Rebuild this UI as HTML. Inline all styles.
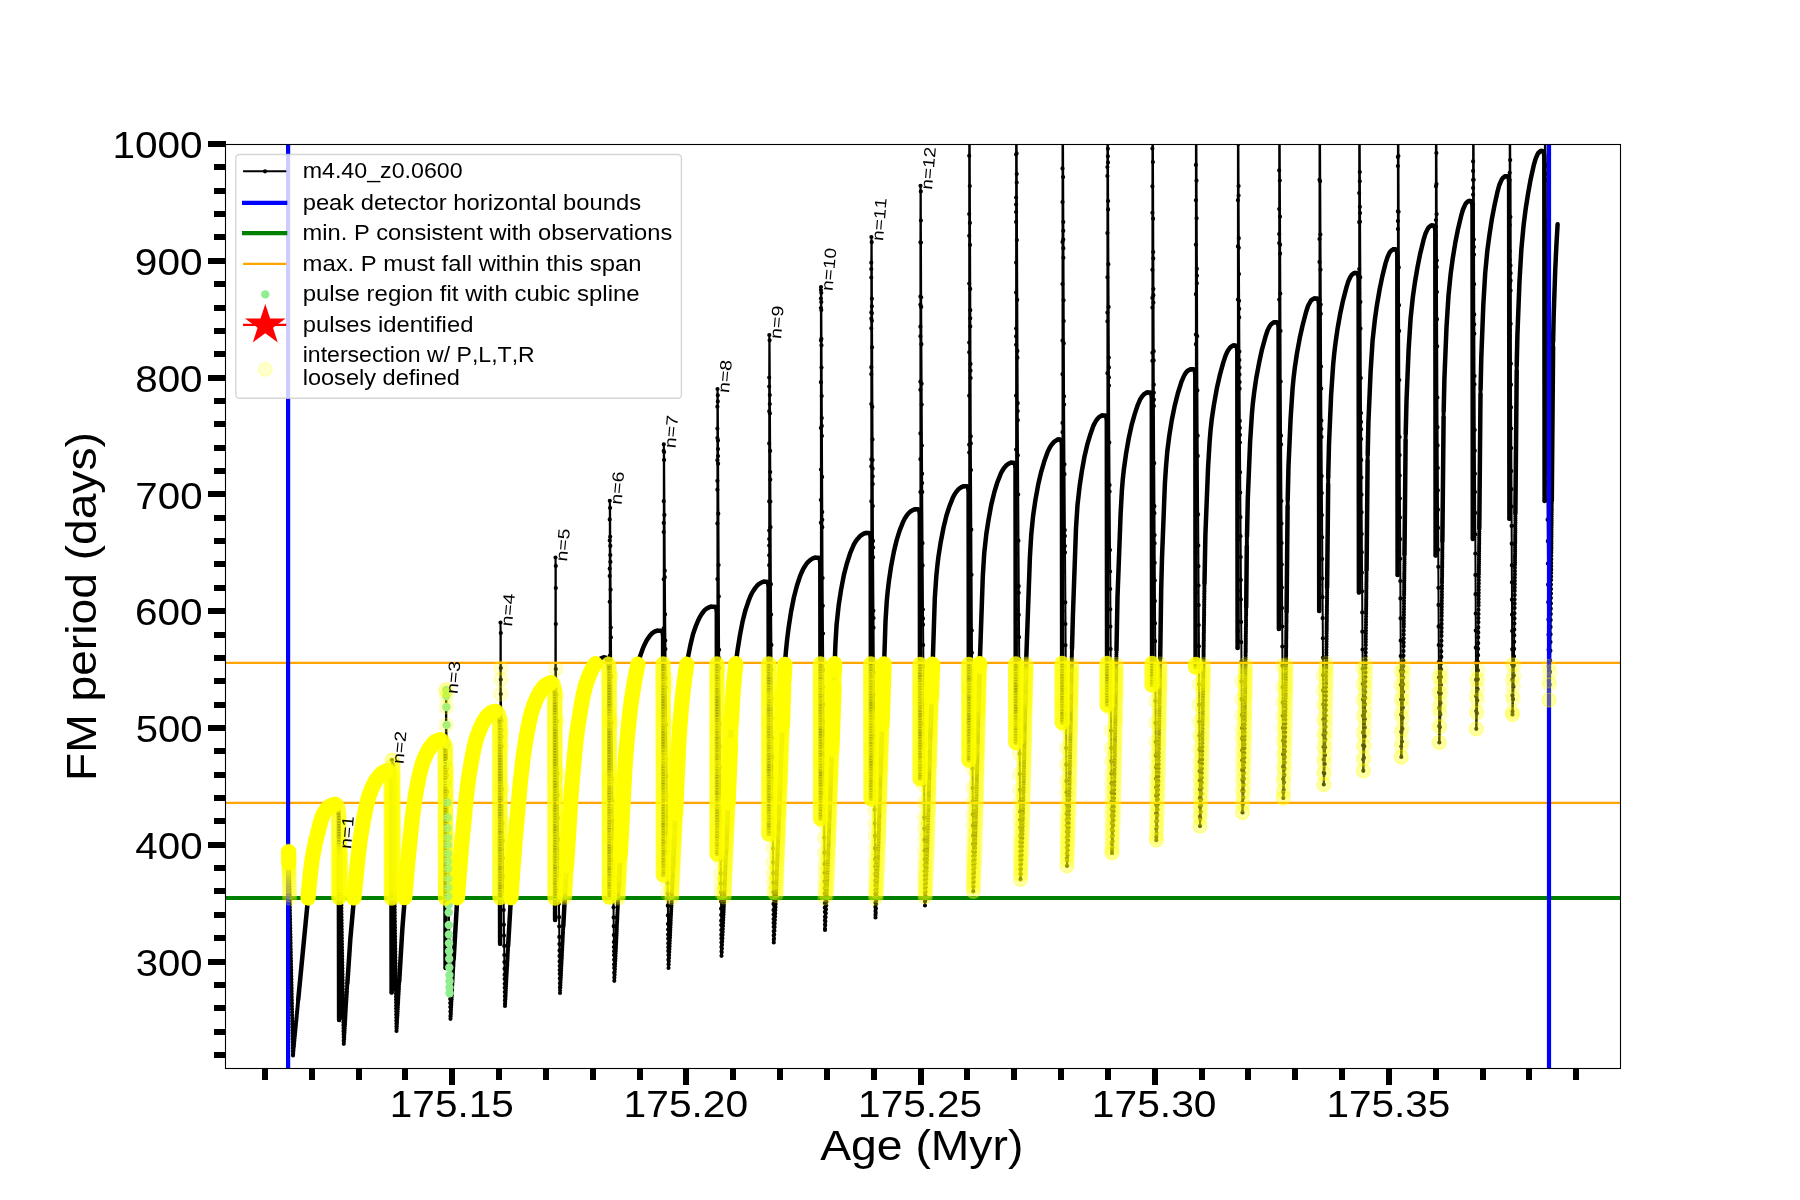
<!DOCTYPE html>
<html><head><meta charset="utf-8"><title>FM period vs Age</title>
<style>html,body{margin:0;padding:0;background:#fff}body{width:1800px;height:1200px;overflow:hidden;font-family:"Liberation Sans",sans-serif}.yc circle{r:6.95px;fill:#ff0;fill-opacity:.2;stroke:#ff0;stroke-opacity:.2;stroke-width:1.4px}</style></head>
<body>
<svg width="1800" height="1200" viewBox="0 0 1800 1200" font-family="'Liberation Sans', sans-serif" style="display:block;font-kerning:none;will-change:transform">
<rect width="1800" height="1200" fill="#fff"/>
<defs><clipPath id="ax"><rect x="225.5" y="144.5" width="1395.0" height="924.0"/></clipPath></defs>
<g clip-path="url(#ax)">
<g fill="none" stroke="#000" stroke-linejoin="round" stroke-linecap="round">
<g stroke-width="2">
<polyline points="289.0,868.2 293.0,1055.5"/>
<polyline points="293.0,1055.5 298.2,999.7"/>
<polyline points="343.8,1043.8 347.4,982.8"/>
<polyline points="396.5,1031.0 399.2,981.5"/>
<polyline points="450.5,1018.8 453.7,958.9"/>
<polyline points="505.0,1006.0 508.1,946.2"/>
<polyline points="560.0,993.0 563.3,926.2"/>
<polyline points="614.3,980.8 618.7,886.2"/>
<polyline points="668.5,968.0 670.3,930.1 672.9,868.9"/>
<polyline points="721.5,955.8 723.5,914.6 726.0,853.0"/>
<polyline points="773.8,942.5 775.8,898.3 779.0,815.1"/>
<polyline points="825.0,930.0 827.1,885.3 830.0,801.9"/>
<polyline points="875.5,917.5 877.5,871.1 880.6,771.7"/>
<polyline points="925.0,905.5 926.3,878.8 927.1,856.6 930.3,738.1"/>
<polyline points="973.3,891.3 974.6,863.6 975.3,840.7 978.3,715.4"/>
<polyline points="1020.5,879.3 1021.8,850.7 1022.5,830.2 1025.2,706.5"/>
<polyline points="1067.0,865.8 1068.3,836.1 1068.9,814.6 1072.0,648.8"/>
<polyline points="1112.0,853.0 1113.2,825.4 1113.9,802.3 1116.5,649.4"/>
<polyline points="1156.3,840.0 1157.4,815.2 1158.0,794.5 1160.2,658.1"/>
<polyline points="1200.0,826.0 1201.2,799.5 1201.8,773.0 1204.5,582.6"/>
<polyline points="1242.5,812.5 1243.5,791.1 1244.1,767.5 1246.2,606.9"/>
<polyline points="1246.8,546.5 1247.0,536.5"/>
<polyline points="1283.3,798.0 1284.3,775.2 1284.8,757.1 1286.6,611.5"/>
<polyline points="1287.6,506.7 1287.7,499.8"/>
<polyline points="1323.8,784.5 1324.7,764.0 1325.3,739.8 1327.1,587.6"/>
<polyline points="1328.2,484.6 1328.2,477.6"/>
<polyline points="1363.3,770.8 1364.3,746.3 1364.8,727.4 1366.6,569.6"/>
<polyline points="1367.6,461.1 1367.7,454.2"/>
<polyline points="1401.3,757.0 1402.4,728.8 1402.8,707.7 1404.5,554.1"/>
<polyline points="1405.6,440.5 1405.7,433.6"/>
<polyline points="1439.3,742.5 1440.4,714.2 1440.8,693.3 1442.4,540.8"/>
<polyline points="1443.6,417.5 1443.7,410.6"/>
<polyline points="1476.3,728.8 1477.3,700.3 1477.8,679.2 1479.3,528.1"/>
<polyline points="1480.5,394.4 1480.6,388.9"/>
<polyline points="1512.5,714.5 1513.5,686.4 1513.9,665.3 1515.4,513.0"/>
<polyline points="1516.7,371.0 1516.7,365.6"/>
<polyline points="1549.0,700.0 1550.0,671.9 1550.4,650.7 1551.8,500.2"/>
<polyline points="1553.1,347.1 1553.1,341.8"/>
<polyline points="339.1,1020.0 340.3,1017.0 340.3,849.0 339.5,845.0 340.7,851.3 341.8,935.3 343.8,1043.8"/>
<polyline points="391.6,992.5 392.8,989.5 392.8,764.5 392.0,760.0 393.2,765.6 394.3,879.6 396.5,1031.0"/>
<polyline points="445.6,968.0 446.0,690.0 446.3,696.0 446.3,725.0 446.7,746.4 448.0,854.5 450.5,1018.8"/>
<polyline points="500.1,943.8 500.5,622.5 500.8,633.0 500.8,694.0 501.5,720.7 503.0,858.3 505.0,1006.0"/>
<polyline points="555.1,920.0 555.5,557.5 555.8,566.0 555.8,669.0 556.7,694.5 558.2,839.2 560.0,993.0"/>
<polyline points="609.4,897.0 609.7,883.7 609.8,500.8 610.1,507.9 610.6,589.7 611.6,722.8 614.3,980.8"/>
<polyline points="663.4,875.0 663.7,863.4 663.8,444.3 664.1,452.1 664.8,570.7 666.1,724.7 668.5,968.0"/>
<polyline points="717.1,854.0 717.4,845.6 717.4,406.7 717.5,389.0 717.8,395.3 719.1,649.8 721.5,955.8"/>
<polyline points="768.9,834.0 769.2,814.5 769.2,377.5 769.3,335.0 769.6,340.3 770.9,584.2 773.8,942.5"/>
<polyline points="820.6,818.8 820.9,801.8 820.9,289.8 821.0,287.0 821.3,292.8 822.6,578.0 825.0,930.0"/>
<polyline points="871.0,798.8 871.3,777.5 871.3,262.7 871.4,237.0 871.7,242.2 873.0,540.9 875.5,917.5"/>
<polyline points="920.1,778.8 920.4,766.0 920.4,242.3 920.5,185.8 920.8,191.4 921.2,306.9 922.2,491.9 925.0,905.5"/>
<polyline points="968.9,760.0 969.2,743.7 969.2,155.8 969.3,100.0 969.6,108.8 970.8,436.3 973.3,891.3"/>
<polyline points="1015.8,742.5 1016.1,727.2 1016.1,107.5 1016.2,100.0 1016.5,107.9 1017.8,420.2 1020.5,879.3"/>
<polyline points="1062.2,722.5 1062.5,702.2 1062.5,128.6 1062.6,100.0 1062.9,105.2 1064.1,404.6 1067.0,865.8"/>
<polyline points="1107.1,705.0 1107.4,691.2 1107.4,132.8 1107.5,100.0 1107.8,106.3 1108.4,264.2 1109.3,442.5 1112.0,853.0"/>
<polyline points="1152.1,685.0 1152.4,671.9 1152.4,128.6 1152.5,100.0 1152.8,105.9 1153.9,406.1 1156.3,840.0"/>
<polyline points="1195.6,667.0 1195.9,645.3 1195.9,105.6 1196.0,100.0 1196.3,107.2 1197.4,390.4 1200.0,826.0"/>
<polyline points="1237.6,648.0 1237.9,640.6 1237.9,104.7 1238.0,100.0 1238.3,107.5 1238.8,238.2 1239.8,420.9 1242.5,812.5"/>
<polyline points="1278.9,629.0 1279.2,615.5 1279.2,116.0 1279.3,100.0 1279.6,106.4 1280.7,381.5 1283.3,798.0"/>
<polyline points="1319.2,611.0 1319.5,594.2 1319.5,127.3 1319.6,100.0 1319.9,107.8 1321.2,388.6 1323.8,784.5"/>
<polyline points="1358.9,592.5 1359.2,580.9 1359.2,136.7 1359.3,100.0 1359.6,105.5 1360.8,378.1 1363.3,770.8"/>
<polyline points="1397.6,575.0 1397.9,561.0 1397.9,106.3 1398.0,100.0 1398.3,107.9 1399.3,380.0 1401.3,757.0"/>
<polyline points="1435.6,555.5 1435.9,546.3 1435.9,139.9 1436.0,100.0 1436.3,106.9 1437.4,397.5 1439.3,742.5"/>
<polyline points="1472.8,539.0 1473.1,522.5 1473.1,110.4 1473.2,100.0 1473.5,106.1 1474.5,376.1 1476.3,728.8"/>
<polyline points="1509.4,518.8 1509.7,508.6 1509.7,133.5 1509.8,100.0 1510.1,108.4 1510.9,363.7 1512.5,714.5"/>
<polyline points="1544.6,501.0 1544.9,481.4 1544.9,113.7 1545.0,100.0 1545.3,108.3 1546.5,359.0 1549.0,700.0"/>
</g><g stroke-width="4.5">
<polyline points="288.6,851.0 289.0,868.2"/>
<polyline points="298.2,999.7 310.4,873.8 311.7,862.0 313.5,851.4 315.6,841.7 319.3,826.5 321.3,819.4 323.0,814.9 325.5,810.7 328.1,807.6 329.4,806.6 331.5,805.5 333.8,804.6 335.0,804.5"/>
<polyline points="347.4,982.8 350.3,939.5 354.9,887.9 357.7,860.3 359.7,843.6 361.2,832.8 363.8,818.1 366.3,806.0 368.6,797.2 370.7,791.1 373.7,784.4 376.9,778.9 378.9,776.3 381.1,773.9 382.3,772.8 383.7,772.1 386.0,771.2 387.5,771.0"/>
<polyline points="399.2,981.5 402.4,928.1 406.8,872.5 411.9,821.1 413.4,808.5 415.7,794.5 418.2,780.7 420.5,770.3 422.6,763.1 425.6,755.6 427.4,752.0 429.4,748.5 431.3,745.8 433.4,743.3 434.5,742.2 435.9,741.3 438.1,740.4 440.0,740.0"/>
<polyline points="453.7,958.9 456.8,906.2 461.4,846.9 464.5,814.2 466.5,794.9 468.0,782.4 470.5,766.8 473.0,752.9 475.3,742.5 477.4,735.4 480.4,727.8 482.1,724.1 484.1,720.6 485.9,717.9 488.5,714.7 489.6,713.6 491.7,712.4 493.2,711.8 495.0,711.5"/>
<polyline points="508.1,946.2 511.4,889.5 516.2,827.2 519.3,792.7 521.4,771.7 523.1,757.6 525.5,741.9 528.1,727.2 530.6,716.0 532.8,708.2 536.0,699.9 537.7,696.2 539.7,692.7 541.5,689.9 543.9,686.8 545.0,685.6 546.4,684.6 549.3,683.3 551.0,683.0"/>
<polyline points="563.3,926.2 566.3,868.5 571.1,794.0 573.1,770.0 575.1,748.8 576.7,734.6 578.5,722.3 581.0,706.6 583.6,693.6 585.8,684.9 588.7,676.5 590.6,672.0 592.4,668.4 594.5,664.9 596.9,661.7 598.5,659.9 599.9,659.0 602.0,657.9 604.0,657.5"/>
<polyline points="618.7,886.2 621.1,838.5 625.3,761.8 626.9,742.3 628.8,722.6 630.5,707.5 632.2,695.2 634.8,679.5 637.4,666.6 639.6,657.8 642.5,649.4 644.4,644.9 646.2,641.3 648.4,637.8 650.3,635.2 651.9,633.4 653.2,632.5 655.3,631.3 657.5,630.8"/>
<polyline points="672.9,868.9 679.3,733.4 680.4,718.6 681.9,702.5 683.6,686.5 685.3,674.0 687.9,657.6 690.5,644.6 693.0,634.3 695.9,625.8 697.8,621.3 699.5,617.7 701.6,614.2 703.5,611.6 705.1,609.8 706.4,608.8 709.2,607.2 711.0,606.8"/>
<polyline points="726.0,853.0 732.3,703.9 733.2,690.8 734.3,678.0 735.8,663.7 737.4,651.2 740.0,634.8 742.5,621.8 745.5,609.9 748.4,601.4 750.2,596.8 751.9,593.1 753.6,590.4 755.9,587.1 757.5,585.2 759.3,583.7 762.2,582.1 763.8,581.8"/>
<polyline points="779.0,815.1 784.3,673.0 785.1,660.9 786.1,649.6 787.2,638.7 788.8,626.3 791.1,611.5 793.8,597.7 796.9,585.8 799.7,577.2 801.5,572.7 803.2,569.0 804.9,566.3 806.7,563.6 808.3,561.8 810.1,560.1 812.8,558.4 814.3,557.9 815.0,557.8"/>
<polyline points="830.0,801.9 835.4,644.5 836.6,624.4 838.6,605.9 841.0,590.2 843.9,574.9 846.8,563.7 850.0,553.7 853.8,544.7 855.4,541.8 857.3,539.2 858.9,537.4 860.6,535.7 864.0,533.5 866.0,533.0"/>
<polyline points="880.6,771.7 885.5,621.5 886.8,600.6 887.8,590.4 888.9,581.2 891.1,566.3 893.9,551.6 896.6,540.4 899.7,530.3 903.4,521.2 904.9,518.4 906.6,515.7 908.7,513.1 910.5,511.5 913.2,509.8 915.0,509.3"/>
<polyline points="930.3,738.1 934.8,598.2 936.3,576.4 937.2,567.1 938.4,557.0 940.7,542.2 943.5,527.7 946.4,515.7 949.4,506.4 952.7,498.1 954.1,495.2 955.9,492.4 957.9,489.9 959.7,488.3 961.7,487.0 962.4,486.6 963.8,486.3"/>
<polyline points="978.3,715.4 979.2,680.5 982.8,576.3 984.2,553.6 986.3,534.2 988.6,519.3 991.3,504.6 994.2,492.7 997.3,482.5 1000.6,474.1 1002.0,471.2 1003.7,468.5 1005.2,466.6 1006.9,464.9 1009.6,463.1 1011.0,462.8"/>
<polyline points="1025.2,706.5 1026.3,657.8 1029.9,557.3 1031.2,535.3 1033.1,515.9 1035.4,500.1 1038.2,484.6 1041.2,471.8 1044.2,461.6 1047.8,451.6 1049.2,448.7 1050.8,445.9 1052.7,443.3 1054.4,441.6 1057.1,439.8 1058.5,439.5"/>
<polyline points="1072.0,648.8 1072.9,615.8 1076.0,528.3 1077.5,504.9 1079.7,485.6 1081.9,470.8 1084.4,457.0 1087.2,444.9 1090.5,433.9 1093.2,426.3 1094.6,423.3 1096.2,420.5 1097.7,418.6 1098.8,417.4 1100.8,416.0 1102.5,415.5"/>
<polyline points="1116.5,649.4 1117.5,597.3 1120.6,514.2 1121.9,490.4 1122.8,479.2 1123.9,469.1 1126.1,453.4 1128.8,438.0 1131.6,425.2 1134.7,414.1 1137.8,404.8 1140.4,398.9 1142.2,396.2 1143.8,394.4 1145.8,393.0 1147.5,392.5"/>
<polyline points="1160.2,658.1 1161.2,589.3 1162.0,557.9 1164.9,483.5 1166.0,466.8 1167.3,451.4 1169.3,435.6 1171.8,420.0 1174.8,405.4 1177.8,393.5 1181.4,381.8 1184.0,375.8 1185.7,373.0 1187.2,371.2 1189.2,369.8 1190.8,369.3"/>
<polyline points="1204.5,582.6 1205.4,534.7 1208.0,468.9 1209.6,441.8 1210.6,429.8 1211.7,419.7 1213.9,404.8 1216.8,388.6 1219.7,375.7 1223.1,363.1 1225.7,355.3 1227.0,352.3 1228.2,350.2 1229.6,348.2 1230.7,347.1 1232.7,345.7 1233.8,345.5"/>
<polyline points="1246.2,606.9 1246.8,546.5"/>
<polyline points="1247.0,536.5 1247.8,498.6 1250.1,442.3 1251.9,414.0 1252.8,403.9 1254.1,393.0 1256.2,378.3 1259.1,362.8 1261.7,350.7 1265.3,337.3 1267.6,330.3 1269.8,326.0 1270.8,324.7 1271.9,323.6 1273.3,322.7 1274.5,322.3"/>
<polyline points="1286.6,611.5 1287.6,506.7"/>
<polyline points="1287.7,499.8 1288.5,465.9 1290.6,418.6 1292.6,388.1 1293.6,377.9 1294.9,367.1 1297.0,353.2 1299.8,337.8 1302.5,325.7 1306.0,312.3 1308.0,306.0 1310.3,301.7 1311.2,300.4 1312.5,299.4 1313.9,298.6 1314.5,298.5"/>
<polyline points="1327.1,587.6 1328.2,484.6"/>
<polyline points="1328.2,477.6 1329.0,444.1 1331.1,395.4 1333.2,364.1 1334.2,353.9 1335.5,343.1 1337.5,329.0 1340.4,312.7 1343.0,300.6 1346.5,287.1 1348.5,280.9 1350.6,276.6 1351.5,275.2 1352.7,274.1 1354.0,273.2 1355.0,273.0"/>
<polyline points="1366.6,569.6 1367.6,461.1"/>
<polyline points="1367.7,454.2 1368.4,422.4 1370.6,371.7 1372.6,340.3 1374.9,319.4 1376.9,305.3 1379.7,289.0 1382.2,276.9 1385.5,263.4 1387.5,257.2 1389.5,252.8 1390.4,251.5 1391.6,250.4 1392.9,249.5 1393.8,249.3"/>
<polyline points="1404.5,554.1 1405.6,440.5"/>
<polyline points="1405.7,433.6 1406.5,401.0 1408.6,349.9 1410.6,318.4 1412.9,296.6 1414.9,282.5 1417.7,266.2 1420.1,254.1 1423.6,239.7 1425.5,233.5 1427.6,229.1 1428.5,227.7 1429.6,226.6 1431.0,225.7 1431.8,225.5"/>
<polyline points="1442.4,540.8 1443.6,417.5"/>
<polyline points="1443.7,410.6 1444.4,379.1 1446.5,327.2 1448.5,295.5 1450.7,273.5 1452.7,258.7 1455.4,242.2 1457.8,230.1 1461.2,215.7 1463.0,209.5 1465.3,204.3 1466.2,203.0 1467.4,201.9 1468.1,201.4 1469.3,201.0"/>
<polyline points="1479.3,528.1 1480.5,394.4"/>
<polyline points="1480.6,388.9 1481.3,357.6 1483.3,305.2 1485.2,273.1 1487.4,250.1 1489.4,235.2 1491.9,218.8 1494.4,205.8 1497.6,191.3 1499.3,185.0 1501.6,179.8 1502.5,178.4 1503.6,177.3 1504.9,176.4 1505.5,176.3"/>
<polyline points="1515.4,513.0 1516.7,371.0"/>
<polyline points="1516.7,365.6 1517.4,335.5 1519.5,281.0 1521.4,248.9 1523.6,225.2 1525.6,209.4 1528.2,192.8 1530.4,180.6 1533.7,165.4 1535.5,159.1 1537.4,154.6 1538.2,153.2 1539.3,152.1 1540.6,151.1 1541.3,151.0"/>
<polyline points="1551.8,500.2 1553.1,347.1"/>
<polyline points="1553.1,341.8 1553.7,314.9 1555.2,270.5 1556.4,245.1 1557.6,224.3"/>
<polyline points="335.0,804.5 336.0,804.5 336.5,804.9 337.6,807.2 338.5,812.1 338.8,817.4 339.1,1020.0"/>
<polyline points="387.5,771.0 388.5,771.0 389.0,771.4 390.1,773.7 391.0,778.6 391.3,783.9 391.6,992.5"/>
<polyline points="440.0,740.0 441.2,740.0 441.9,740.4 442.5,741.1 443.4,742.7 444.6,746.7 445.1,749.7 445.3,752.9 445.6,968.0"/>
<polyline points="495.0,711.5 496.1,711.5 496.7,711.9 497.6,713.0 498.2,714.2 499.2,718.2 499.8,724.4 500.1,943.8"/>
<polyline points="551.0,683.0 552.0,683.0 552.5,683.4 553.6,685.7 554.4,689.7 554.8,695.9 555.1,920.0"/>
<polyline points="604.0,657.5 605.1,657.5 605.8,657.9 606.4,658.6 607.3,660.2 608.1,662.4 608.6,665.1 609.1,670.4 609.4,897.0"/>
<polyline points="657.5,630.8 661.4,630.8 661.8,631.0 662.3,631.7 662.7,632.9 663.1,636.3 663.4,875.0"/>
<polyline points="711.0,606.8 715.1,606.8 715.5,607.0 716.0,607.7 716.4,608.9 716.8,612.3 717.1,854.0"/>
<polyline points="763.8,581.8 766.9,581.8 767.4,582.1 767.9,582.9 768.3,584.3 768.6,587.3 768.9,834.0"/>
<polyline points="815.0,557.8 818.6,557.8 819.1,558.1 819.6,558.9 820.0,560.3 820.3,563.3 820.6,818.8"/>
<polyline points="866.0,533.0 869.0,533.0 869.5,533.3 870.0,534.1 870.4,535.5 870.7,538.5 871.0,798.8"/>
<polyline points="915.0,509.3 918.1,509.3 918.6,509.6 919.1,510.4 919.5,511.8 919.8,514.8 920.1,778.8"/>
<polyline points="963.8,486.3 966.9,486.3 967.4,486.6 967.9,487.4 968.3,488.8 968.6,491.8 968.9,760.0"/>
<polyline points="1011.0,462.8 1013.8,462.8 1014.3,463.1 1014.8,463.9 1015.2,465.3 1015.5,468.3 1015.8,742.5"/>
<polyline points="1058.5,439.5 1060.3,439.5 1061.0,440.2 1061.6,442.0 1061.9,445.0 1062.2,722.5"/>
<polyline points="1102.5,415.5 1105.1,415.5 1105.6,415.8 1106.4,417.6 1106.8,421.0 1107.1,705.0"/>
<polyline points="1147.5,392.5 1150.1,392.5 1150.6,392.8 1151.4,394.6 1151.8,398.0 1152.1,685.0"/>
<polyline points="1190.8,369.3 1193.6,369.3 1194.1,369.6 1194.9,371.4 1195.3,374.8 1195.6,667.0"/>
<polyline points="1233.8,345.5 1235.7,345.5 1236.3,346.0 1237.0,348.0 1237.3,351.0 1237.6,648.0"/>
<polyline points="1274.5,322.3 1277.0,322.3 1277.6,322.8 1278.3,324.8 1278.6,327.8 1278.9,629.0"/>
<polyline points="1314.5,298.5 1317.2,298.5 1317.7,298.8 1318.5,300.6 1318.9,304.0 1319.2,611.0"/>
<polyline points="1355.0,273.0 1357.0,273.0 1357.6,273.5 1358.3,275.5 1358.6,278.5 1358.9,592.5"/>
<polyline points="1393.8,249.3 1395.7,249.3 1396.3,249.8 1397.0,251.8 1397.3,254.8 1397.6,575.0"/>
<polyline points="1431.8,225.5 1433.7,225.5 1434.3,226.0 1435.0,228.0 1435.3,231.0 1435.6,555.5"/>
<polyline points="1469.3,201.0 1470.9,201.0 1471.6,201.7 1472.2,203.9 1472.5,207.0 1472.8,539.0"/>
<polyline points="1505.5,176.3 1507.5,176.3 1508.1,176.8 1508.8,178.8 1509.1,181.8 1509.4,518.8"/>
<polyline points="1541.3,151.0 1542.7,151.0 1543.5,151.9 1544.1,154.3 1544.3,157.0 1544.6,501.0"/>
</g>
<path stroke-width="4.2" d="M289.0 869.6h0M289.0 871.2h0M289.1 872.9h0M289.1 874.7h0M289.2 876.7h0M289.2 878.8h0M289.2 881.1h0M289.3 883.6h0M289.4 886.3h0M289.4 889.2h0M289.5 892.2h0M289.6 895.2h0M289.6 898.2h0M289.7 901.2h0M289.7 904.2h0M289.8 907.2h0M289.9 910.2h0M289.9 913.2h0M290.0 916.2h0M290.1 919.2h0M290.1 922.2h0M290.2 925.2h0M290.3 928.2h0M290.3 931.2h0M290.4 934.2h0M290.5 937.2h0M290.5 940.2h0M290.6 943.2h0M290.6 946.2h0M290.7 949.2h0M290.8 952.2h0M290.8 955.2h0M290.9 958.2h0M291.0 961.2h0M291.0 964.2h0M291.1 967.2h0M291.2 970.2h0M291.2 973.2h0M291.3 976.2h0M291.4 979.2h0M291.4 982.2h0M291.5 985.2h0M291.6 988.2h0M291.6 991.2h0M291.7 994.2h0M291.7 997.2h0M291.8 1000.2h0M291.9 1003.2h0M291.9 1006.2h0M292.0 1009.2h0M292.1 1012.2h0M292.1 1015.2h0M292.2 1018.2h0M292.3 1021.2h0M292.3 1024.2h0M292.4 1027.2h0M292.5 1030.2h0M292.5 1033.2h0M292.6 1036.2h0M292.6 1039.2h0M292.7 1042.2h0M292.8 1045.2h0M292.8 1048.2h0M292.9 1051.2h0M293.0 1054.2h0M293.0 1055.5h0M293.2 1053.2h0M293.4 1051.0h0M293.6 1048.8h0M293.9 1046.6h0M294.1 1044.4h0M294.2 1042.3h0M294.4 1040.3h0M294.6 1038.3h0M294.8 1036.3h0M295.0 1034.4h0M295.2 1032.5h0M295.4 1030.5h0M295.5 1028.7h0M295.7 1026.9h0M295.9 1025.1h0M296.0 1023.3h0M296.2 1021.6h0M296.4 1019.9h0M296.5 1018.2h0M296.7 1016.5h0M296.8 1014.8h0M297.0 1013.2h0M297.1 1011.6h0M297.3 1010.0h0M297.4 1008.5h0M297.6 1007.0h0M297.7 1005.5h0M297.8 1004.0h0M298.0 1002.5h0M298.1 1001.0h0M343.8 1043.8h0M343.9 1041.5h0M344.1 1039.2h0M344.2 1037.0h0M344.3 1034.8h0M344.5 1032.6h0M344.6 1030.5h0M344.7 1028.5h0M344.8 1026.4h0M345.0 1024.4h0M345.1 1022.5h0M345.2 1020.6h0M345.3 1018.7h0M345.4 1016.8h0M345.5 1014.9h0M345.6 1013.0h0M345.7 1011.2h0M345.8 1009.5h0M345.9 1007.8h0M346.0 1006.1h0M346.1 1004.3h0M346.2 1002.6h0M346.3 1000.9h0M346.4 999.3h0M346.5 997.8h0M346.6 996.3h0M346.7 994.7h0M346.8 993.2h0M346.9 991.7h0M346.9 990.1h0M347.0 988.6h0M347.1 987.1h0M347.2 985.6h0M347.3 984.1h0M396.5 1031.0h0M396.6 1028.7h0M396.8 1026.4h0M396.9 1024.0h0M397.0 1021.9h0M397.1 1019.7h0M397.2 1017.5h0M397.4 1015.5h0M397.5 1013.5h0M397.6 1011.5h0M397.7 1009.4h0M397.8 1007.4h0M397.9 1005.6h0M398.0 1003.7h0M398.1 1001.9h0M398.2 1000.0h0M398.3 998.2h0M398.4 996.3h0M398.5 994.6h0M398.6 993.0h0M398.7 991.3h0M398.8 989.6h0M398.9 988.0h0M398.9 986.3h0M399.0 984.6h0M399.1 983.0h0M450.5 1018.8h0M450.6 1016.4h0M450.8 1014.2h0M450.9 1012.0h0M451.0 1009.8h0M451.1 1007.5h0M451.2 1005.5h0M451.3 1003.4h0M451.4 1001.3h0M451.6 999.2h0M451.6 997.3h0M451.8 995.4h0M451.9 993.5h0M451.9 991.6h0M452.1 989.7h0M452.1 987.8h0M452.2 986.1h0M452.3 984.3h0M452.4 982.6h0M452.5 980.9h0M452.6 979.2h0M452.7 977.4h0M452.8 975.7h0M452.9 974.0h0M452.9 972.5h0M453.0 971.0h0M453.1 969.4h0M453.2 967.9h0M453.3 966.4h0M453.4 964.9h0M453.4 963.4h0M453.5 961.9h0M453.6 960.4h0M505.0 1006.0h0M505.1 1003.6h0M505.2 1001.3h0M505.4 999.1h0M505.5 996.8h0M505.6 994.7h0M505.7 992.6h0M505.8 990.5h0M505.9 988.4h0M506.0 986.5h0M506.1 984.6h0M506.2 982.6h0M506.3 980.7h0M506.4 978.7h0M506.5 976.8h0M506.6 975.1h0M506.7 973.3h0M506.8 971.6h0M506.9 969.8h0M507.0 968.1h0M507.1 966.3h0M507.2 964.5h0M507.2 963.0h0M507.3 961.4h0M507.4 959.9h0M507.5 958.3h0M507.6 956.8h0M507.6 955.2h0M507.7 953.7h0M507.8 952.1h0M507.9 950.6h0M508.0 949.1h0M508.0 947.5h0M560.0 993.0h0M560.1 990.3h0M560.3 987.7h0M560.4 985.2h0M560.5 982.6h0M560.6 980.2h0M560.8 977.8h0M560.9 975.4h0M561.0 973.0h0M561.1 970.8h0M561.2 968.6h0M561.3 966.3h0M561.5 964.1h0M561.5 962.0h0M561.6 960.0h0M561.8 957.9h0M561.9 955.8h0M561.9 954.0h0M562.0 952.1h0M562.1 950.2h0M562.2 948.3h0M562.3 946.5h0M562.4 944.6h0M562.5 942.7h0M562.6 941.0h0M562.6 939.3h0M562.7 937.7h0M562.8 936.0h0M562.9 934.3h0M563.0 932.7h0M563.0 931.0h0M563.1 929.3h0M563.2 927.7h0M614.3 980.8h0M614.4 977.8h0M614.6 974.8h0M614.7 972.0h0M614.9 969.2h0M615.0 966.3h0M615.1 963.7h0M615.3 961.0h0M615.4 958.4h0M615.5 955.9h0M615.6 953.4h0M615.8 951.0h0M615.9 948.7h0M616.0 946.4h0M616.1 944.0h0M616.2 941.8h0M616.3 939.6h0M616.4 937.4h0M616.5 935.3h0M616.6 933.3h0M616.7 931.3h0M616.8 929.3h0M616.8 927.3h0M616.9 925.3h0M617.0 923.3h0M617.1 921.5h0M617.2 919.7h0M617.3 917.9h0M617.3 916.2h0M617.4 914.4h0M617.5 912.6h0M617.6 910.8h0M617.7 909.0h0M617.7 907.5h0M617.8 905.9h0M617.9 904.4h0M617.9 902.8h0M618.0 901.2h0M618.1 899.7h0M618.2 898.2h0M618.2 896.6h0M618.3 895.1h0M618.4 893.5h0M618.4 892.0h0M618.5 890.5h0M618.6 889.0h0M618.6 887.5h0M668.5 968.0h0M668.7 964.6h0M668.8 961.3h0M669.0 958.1h0M669.1 955.1h0M669.3 952.0h0M669.4 949.2h0M669.6 946.3h0M669.7 943.3h0M669.8 940.6h0M670.0 937.8h0M670.1 935.2h0M670.2 932.5h0M670.3 930.1h0M670.4 927.6h0M670.5 925.1h0M670.6 922.9h0M670.7 920.6h0M670.8 918.3h0M670.9 916.0h0M671.0 913.9h0M671.1 911.8h0M671.2 909.7h0M671.3 907.6h0M671.4 905.4h0M671.5 903.3h0M671.6 901.4h0M671.6 899.5h0M671.7 897.7h0M671.8 895.8h0M671.9 893.9h0M672.0 892.0h0M672.0 890.1h0M672.1 888.4h0M672.2 886.8h0M672.2 885.1h0M672.3 883.4h0M672.4 881.8h0M672.5 880.1h0M672.5 878.5h0M672.6 876.8h0M672.7 875.2h0M672.7 873.6h0M672.8 871.9h0M672.9 870.3h0M721.5 955.8h0M721.7 952.2h0M721.9 948.5h0M722.0 944.9h0M722.2 941.5h0M722.4 938.3h0M722.5 935.0h0M722.7 931.9h0M722.8 928.9h0M723.0 925.9h0M723.1 923.0h0M723.2 920.1h0M723.3 917.4h0M723.5 914.6h0M723.6 912.1h0M723.7 909.5h0M723.8 906.9h0M723.9 904.5h0M724.0 902.1h0M724.1 899.7h0M724.2 897.2h0M724.3 895.0h0M724.4 892.8h0M724.5 890.6h0M724.6 888.3h0M724.6 886.1h0M724.7 884.1h0M724.8 882.1h0M724.9 880.1h0M725.0 878.1h0M725.0 876.1h0M725.1 874.1h0M725.2 872.1h0M725.3 870.3h0M725.3 868.6h0M725.4 866.8h0M725.5 865.0h0M725.6 863.3h0M725.6 861.5h0M725.7 859.8h0M725.8 858.0h0M725.8 856.3h0M725.9 854.5h0M773.8 942.5h0M774.0 938.4h0M774.2 934.6h0M774.4 930.7h0M774.6 927.1h0M774.7 923.6h0M774.9 920.1h0M775.1 916.6h0M775.2 913.4h0M775.3 910.2h0M775.5 907.2h0M775.6 904.1h0M775.7 901.2h0M775.8 898.3h0M776.0 895.6h0M776.1 892.9h0M776.2 890.1h0M776.3 887.5h0M776.4 885.0h0M776.5 882.4h0M776.6 880.0h0M776.7 877.7h0M776.8 875.3h0M776.8 872.9h0M776.9 870.5h0M777.0 868.4h0M777.1 866.3h0M777.2 864.1h0M777.2 862.0h0M777.3 859.8h0M777.4 857.6h0M777.5 855.7h0M777.5 853.8h0M777.6 851.9h0M777.7 850.0h0M777.8 848.1h0M777.8 846.2h0M777.9 844.3h0M778.0 842.4h0M778.0 840.5h0M778.1 838.9h0M778.2 837.3h0M778.2 835.6h0M778.3 834.0h0M778.3 832.4h0M778.4 830.8h0M778.5 829.2h0M778.5 827.6h0M778.6 826.0h0M778.6 824.4h0M778.7 822.8h0M778.8 821.2h0M778.8 819.6h0M778.9 818.0h0M778.9 816.5h0M825.0 930.0h0M825.2 925.5h0M825.4 921.3h0M825.6 917.2h0M825.8 913.2h0M826.0 909.3h0M826.2 905.5h0M826.4 901.8h0M826.5 898.4h0M826.7 895.1h0M826.8 891.8h0M826.9 888.6h0M827.1 885.3h0M827.2 882.3h0M827.3 879.4h0M827.4 876.6h0M827.5 873.7h0M827.6 871.0h0M827.7 868.3h0M827.8 865.5h0M827.9 863.1h0M828.0 860.6h0M828.1 858.1h0M828.2 855.6h0M828.3 853.3h0M828.3 851.0h0M828.4 848.8h0M828.5 846.5h0M828.6 844.2h0M828.7 841.9h0M828.7 839.9h0M828.8 837.9h0M828.9 835.9h0M828.9 833.8h0M829.0 831.8h0M829.1 829.8h0M829.1 827.8h0M829.2 825.7h0M829.3 824.0h0M829.3 822.3h0M829.4 820.5h0M829.5 818.8h0M829.5 817.1h0M829.6 815.3h0M829.6 813.6h0M829.7 811.9h0M829.8 810.2h0M829.8 808.5h0M829.9 806.7h0M829.9 805.0h0M830.0 803.3h0M875.5 917.5h0M875.7 912.9h0M875.9 908.4h0M876.1 904.1h0M876.4 900.0h0M876.5 895.9h0M876.7 892.0h0M876.9 888.3h0M877.0 884.7h0M877.2 881.2h0M877.3 877.8h0M877.4 874.5h0M877.5 871.1h0M877.6 868.0h0M877.8 864.8h0M877.9 861.8h0M878.0 858.7h0M878.0 855.9h0M878.1 853.1h0M878.2 850.3h0M878.3 847.4h0M878.4 844.8h0M878.5 842.2h0M878.6 839.6h0M878.6 837.0h0M878.7 834.7h0M878.8 832.3h0M878.9 830.0h0M878.9 827.7h0M879.0 825.4h0M879.1 823.1h0M879.1 820.7h0M879.2 818.4h0M879.3 816.4h0M879.3 814.4h0M879.4 812.4h0M879.4 810.4h0M879.5 808.4h0M879.6 806.4h0M879.6 804.4h0M879.7 802.4h0M879.7 800.3h0M879.8 798.6h0M879.8 796.9h0M879.9 795.2h0M879.9 793.5h0M880.0 791.8h0M880.0 790.0h0M880.1 788.3h0M880.1 786.6h0M880.2 784.9h0M880.2 783.2h0M880.3 781.5h0M880.3 779.8h0M880.4 778.1h0M880.4 776.4h0M880.5 774.8h0M880.5 773.1h0M925.0 905.5h0M925.2 900.6h0M925.5 895.9h0M925.7 891.4h0M925.9 887.0h0M926.1 882.9h0M926.3 878.8h0M926.4 874.9h0M926.6 871.1h0M926.7 867.4h0M926.8 863.7h0M927.0 860.1h0M927.1 856.6h0M927.2 853.4h0M927.3 850.1h0M927.4 847.1h0M927.5 844.0h0M927.5 840.8h0M927.6 838.0h0M927.7 835.1h0M927.8 832.2h0M927.9 829.3h0M927.9 826.7h0M928.0 824.2h0M928.1 821.5h0M928.1 818.9h0M928.2 816.3h0M928.3 813.7h0M928.4 811.1h0M928.4 808.8h0M928.5 806.6h0M928.5 804.3h0M928.6 802.1h0M928.7 799.9h0M928.7 797.6h0M928.8 795.4h0M928.8 793.2h0M928.9 791.0h0M928.9 789.1h0M929.0 787.2h0M929.0 785.2h0M929.1 783.3h0M929.1 781.4h0M929.2 779.4h0M929.2 777.4h0M929.3 775.5h0M929.3 773.5h0M929.4 771.5h0M929.4 769.5h0M929.5 767.6h0M929.5 766.0h0M929.6 764.4h0M929.6 762.8h0M929.7 761.2h0M929.7 759.7h0M929.7 758.1h0M929.8 756.5h0M929.8 755.0h0M929.9 753.4h0M929.9 751.9h0M929.9 750.3h0M930.0 748.8h0M930.0 747.2h0M930.1 745.7h0M930.1 744.2h0M930.1 742.6h0M930.2 741.1h0M930.2 739.6h0M973.3 891.3h0M973.5 886.4h0M973.8 881.6h0M974.0 876.8h0M974.2 872.4h0M974.4 867.9h0M974.6 863.6h0M974.7 859.6h0M974.9 855.5h0M975.0 851.7h0M975.1 847.9h0M975.2 844.2h0M975.3 840.7h0M975.4 837.1h0M975.5 833.8h0M975.6 830.4h0M975.7 827.3h0M975.8 824.1h0M975.9 820.9h0M975.9 817.7h0M976.0 814.8h0M976.1 811.9h0M976.2 809.0h0M976.2 806.0h0M976.3 803.1h0M976.4 800.5h0M976.4 798.0h0M976.5 795.4h0M976.5 792.9h0M976.6 790.3h0M976.7 787.8h0M976.7 785.3h0M976.8 782.8h0M976.8 780.3h0M976.9 777.8h0M977.0 775.3h0M977.0 773.2h0M977.1 771.1h0M977.1 769.0h0M977.2 766.8h0M977.2 764.7h0M977.3 762.5h0M977.3 760.3h0M977.4 758.0h0M977.4 756.2h0M977.4 754.4h0M977.5 752.6h0M977.5 750.8h0M977.6 749.0h0M977.6 747.2h0M977.6 745.3h0M977.7 743.5h0M977.7 741.7h0M977.8 739.9h0M977.8 738.1h0M977.8 736.2h0M977.9 734.4h0M977.9 732.6h0M978.0 730.8h0M978.0 729.0h0M978.0 727.2h0M978.1 725.4h0M978.1 723.7h0M978.2 721.9h0M978.2 720.1h0M978.2 718.4h0M978.3 716.7h0M1020.5 879.3h0M1020.8 874.0h0M1021.0 869.0h0M1021.2 864.1h0M1021.5 859.5h0M1021.7 855.1h0M1021.8 850.7h0M1022.0 846.6h0M1022.1 842.3h0M1022.3 838.2h0M1022.4 834.2h0M1022.5 830.2h0M1022.6 826.4h0M1022.7 822.9h0M1022.8 819.3h0M1022.9 816.0h0M1023.0 812.6h0M1023.0 809.2h0M1023.1 805.7h0M1023.2 802.5h0M1023.2 799.4h0M1023.3 796.2h0M1023.4 793.0h0M1023.5 790.3h0M1023.5 787.5h0M1023.6 784.8h0M1023.6 782.0h0M1023.7 779.2h0M1023.8 776.4h0M1023.8 773.7h0M1023.9 770.9h0M1023.9 768.2h0M1024.0 765.9h0M1024.0 763.6h0M1024.1 761.3h0M1024.1 759.1h0M1024.2 756.9h0M1024.2 754.7h0M1024.3 752.4h0M1024.3 750.1h0M1024.4 747.7h0M1024.4 745.4h0M1024.5 743.0h0M1024.5 741.0h0M1024.6 739.1h0M1024.6 737.1h0M1024.6 735.2h0M1024.7 733.2h0M1024.7 731.2h0M1024.8 729.2h0M1024.8 727.2h0M1024.8 725.1h0M1024.9 723.1h0M1024.9 721.1h0M1025.0 719.1h0M1025.0 717.1h0M1025.0 715.0h0M1025.1 713.0h0M1025.1 711.0h0M1025.2 709.5h0M1025.2 708.0h0M1067.0 865.8h0M1067.2 860.5h0M1067.5 855.2h0M1067.7 850.1h0M1068.0 845.2h0M1068.1 840.6h0M1068.3 836.1h0M1068.5 831.7h0M1068.6 827.5h0M1068.7 823.1h0M1068.8 818.8h0M1068.9 814.6h0M1069.0 810.6h0M1069.1 806.9h0M1069.2 803.2h0M1069.2 799.3h0M1069.3 795.8h0M1069.4 792.3h0M1069.5 788.7h0M1069.5 785.6h0M1069.6 782.4h0M1069.6 779.2h0M1069.7 776.0h0M1069.8 772.8h0M1069.8 769.6h0M1069.9 766.3h0M1069.9 763.6h0M1070.0 760.9h0M1070.0 758.2h0M1070.1 755.5h0M1070.1 752.8h0M1070.2 750.2h0M1070.2 747.5h0M1070.3 744.9h0M1070.3 742.2h0M1070.4 739.6h0M1070.4 737.0h0M1070.5 734.5h0M1070.5 731.8h0M1070.6 729.7h0M1070.6 727.5h0M1070.7 725.3h0M1070.7 723.1h0M1070.7 720.8h0M1070.8 718.6h0M1070.8 716.2h0M1070.8 713.9h0M1070.9 711.6h0M1070.9 709.2h0M1071.0 706.9h0M1071.0 705.1h0M1071.0 703.3h0M1071.1 701.5h0M1071.1 699.7h0M1071.1 697.9h0M1071.2 696.1h0M1071.2 694.3h0M1071.2 692.5h0M1071.2 690.7h0M1071.3 688.9h0M1071.3 687.2h0M1071.3 685.4h0M1071.4 683.6h0M1071.4 681.8h0M1071.4 680.1h0M1071.5 678.3h0M1071.5 676.5h0M1071.5 674.8h0M1071.5 673.1h0M1071.6 671.3h0M1071.6 669.6h0M1071.6 667.9h0M1071.7 666.2h0M1071.7 664.6h0M1071.7 662.9h0M1071.8 661.3h0M1071.8 659.6h0M1071.8 658.0h0M1071.8 656.4h0M1071.9 654.9h0M1071.9 653.3h0M1071.9 651.8h0M1072.0 650.3h0M1112.0 853.0h0M1112.3 846.9h0M1112.6 841.2h0M1112.8 835.7h0M1113.0 830.5h0M1113.2 825.4h0M1113.4 820.6h0M1113.6 815.7h0M1113.7 811.2h0M1113.8 806.7h0M1113.9 802.3h0M1114.0 798.1h0M1114.1 793.7h0M1114.2 789.6h0M1114.2 785.5h0M1114.3 781.7h0M1114.4 777.9h0M1114.5 774.0h0M1114.5 770.6h0M1114.6 767.2h0M1114.6 763.7h0M1114.7 760.3h0M1114.8 756.8h0M1114.8 753.9h0M1114.8 750.9h0M1114.9 748.0h0M1115.0 745.0h0M1115.0 742.1h0M1115.0 739.2h0M1115.1 736.3h0M1115.2 733.4h0M1115.2 730.5h0M1115.2 727.6h0M1115.3 724.7h0M1115.3 722.5h0M1115.4 720.2h0M1115.4 718.0h0M1115.5 715.8h0M1115.5 713.6h0M1115.5 711.3h0M1115.6 708.9h0M1115.6 706.6h0M1115.7 704.2h0M1115.7 701.7h0M1115.7 699.3h0M1115.8 697.4h0M1115.8 695.5h0M1115.8 693.6h0M1115.9 691.7h0M1115.9 689.8h0M1115.9 687.8h0M1116.0 685.9h0M1116.0 683.9h0M1116.0 682.0h0M1116.0 680.0h0M1116.1 678.1h0M1116.1 676.1h0M1116.1 674.1h0M1116.2 672.1h0M1116.2 670.2h0M1116.2 668.2h0M1116.2 666.2h0M1116.3 664.3h0M1116.3 662.3h0M1116.3 660.3h0M1116.4 658.4h0M1116.4 656.4h0M1116.4 654.5h0M1116.5 652.6h0M1116.5 650.6h0M1156.3 840.0h0M1156.6 833.3h0M1156.9 826.9h0M1157.2 820.8h0M1157.4 815.2h0M1157.6 809.6h0M1157.8 804.4h0M1157.9 799.3h0M1158.0 794.5h0M1158.1 789.8h0M1158.2 785.2h0M1158.3 780.9h0M1158.4 776.5h0M1158.5 772.5h0M1158.5 768.4h0M1158.6 764.2h0M1158.6 760.5h0M1158.7 756.8h0M1158.8 753.0h0M1158.8 749.2h0M1158.9 745.9h0M1158.9 742.7h0M1159.0 739.5h0M1159.0 736.2h0M1159.1 732.9h0M1159.1 729.7h0M1159.2 726.4h0M1159.2 723.8h0M1159.3 721.2h0M1159.3 718.6h0M1159.3 716.0h0M1159.4 713.4h0M1159.4 710.8h0M1159.5 708.3h0M1159.5 705.8h0M1159.5 703.2h0M1159.6 700.8h0M1159.6 698.3h0M1159.7 695.9h0M1159.7 693.4h0M1159.7 690.8h0M1159.8 688.9h0M1159.8 686.9h0M1159.8 685.0h0M1159.9 682.9h0M1159.9 680.9h0M1159.9 678.8h0M1160.0 676.8h0M1160.0 674.7h0M1160.0 672.5h0M1160.0 670.4h0M1160.1 668.3h0M1160.1 666.1h0M1160.1 663.9h0M1160.2 661.7h0M1160.2 659.5h0M1200.0 826.0h0M1200.3 818.7h0M1200.7 812.0h0M1201.0 805.5h0M1201.2 799.5h0M1201.4 793.7h0M1201.5 788.1h0M1201.7 782.7h0M1201.8 777.8h0M1201.8 773.0h0M1201.9 768.5h0M1202.0 763.7h0M1202.1 759.4h0M1202.1 755.0h0M1202.2 751.1h0M1202.3 747.1h0M1202.3 743.0h0M1202.4 739.6h0M1202.4 736.1h0M1202.5 732.6h0M1202.5 729.1h0M1202.6 725.5h0M1202.6 722.7h0M1202.7 719.8h0M1202.7 716.9h0M1202.7 714.0h0M1202.8 711.2h0M1202.8 708.3h0M1202.9 705.4h0M1202.9 702.5h0M1202.9 699.7h0M1203.0 696.8h0M1203.0 694.0h0M1203.1 691.2h0M1203.1 689.1h0M1203.1 687.0h0M1203.1 684.9h0M1203.2 682.9h0M1203.2 680.8h0M1203.2 678.8h0M1203.3 676.8h0M1203.3 674.8h0M1203.3 672.8h0M1203.4 670.7h0M1203.4 668.6h0M1203.4 666.5h0M1203.4 664.3h0M1203.5 662.1h0M1203.5 659.9h0M1203.5 657.6h0M1203.6 656.1h0M1203.6 654.5h0M1203.6 653.0h0M1203.6 651.5h0M1203.6 649.9h0M1203.7 648.3h0M1203.7 646.7h0M1203.7 645.2h0M1203.7 643.6h0M1203.7 642.0h0M1203.8 640.4h0M1203.8 638.7h0M1203.8 637.1h0M1203.8 635.5h0M1203.8 633.9h0M1203.9 632.2h0M1203.9 630.6h0M1203.9 629.0h0M1203.9 627.3h0M1203.9 625.7h0M1204.0 624.0h0M1204.0 622.4h0M1204.0 620.7h0M1204.0 619.1h0M1204.0 617.5h0M1204.1 615.8h0M1204.1 614.2h0M1204.1 612.5h0M1204.1 610.9h0M1204.1 609.3h0M1204.2 607.6h0M1204.2 606.0h0M1204.2 604.4h0M1204.2 602.8h0M1204.2 601.2h0M1204.3 599.6h0M1204.3 598.0h0M1204.3 596.4h0M1204.3 594.8h0M1204.3 593.3h0M1204.4 591.7h0M1204.4 590.2h0M1204.4 588.6h0M1204.4 587.1h0M1204.4 585.6h0M1204.5 584.0h0M1242.5 812.5h0M1242.8 804.8h0M1243.2 797.7h0M1243.5 791.1h0M1243.7 784.8h0M1243.9 778.8h0M1244.0 773.1h0M1244.1 767.5h0M1244.2 762.4h0M1244.3 757.5h0M1244.3 753.0h0M1244.4 748.2h0M1244.5 744.1h0M1244.5 739.7h0M1244.6 736.1h0M1244.6 732.3h0M1244.7 728.5h0M1244.7 724.6h0M1244.8 720.7h0M1244.8 717.5h0M1244.9 714.3h0M1244.9 711.1h0M1244.9 707.9h0M1245.0 704.7h0M1245.0 701.4h0M1245.1 698.1h0M1245.1 695.7h0M1245.1 693.2h0M1245.2 690.8h0M1245.2 688.3h0M1245.2 685.9h0M1245.2 683.5h0M1245.3 681.0h0M1245.3 678.6h0M1245.3 676.2h0M1245.4 673.8h0M1245.4 671.4h0M1245.4 669.1h0M1245.5 666.7h0M1245.5 664.4h0M1245.5 662.0h0M1245.5 659.7h0M1245.6 657.5h0M1245.6 655.2h0M1245.6 652.9h0M1245.7 651.4h0M1245.7 649.9h0M1245.7 648.3h0M1245.7 646.7h0M1245.7 645.1h0M1245.8 643.4h0M1245.8 641.8h0M1245.8 640.1h0M1245.8 638.4h0M1245.8 636.7h0M1245.8 635.0h0M1245.9 633.3h0M1245.9 631.5h0M1245.9 629.8h0M1245.9 628.0h0M1246.0 626.2h0M1246.0 624.4h0M1246.0 622.6h0M1246.0 620.8h0M1246.0 619.0h0M1246.0 617.1h0M1246.1 615.3h0M1246.1 613.4h0M1246.1 611.6h0M1246.1 609.7h0M1246.2 607.8h0M1246.8 545.7h0M1246.9 544.1h0M1246.9 542.5h0M1246.9 541.0h0M1246.9 539.5h0M1246.9 538.0h0M1283.3 798.0h0M1283.7 789.8h0M1284.0 782.3h0M1284.3 775.2h0M1284.5 768.7h0M1284.7 762.6h0M1284.8 757.1h0M1284.9 751.4h0M1285.0 746.4h0M1285.0 741.7h0M1285.1 736.7h0M1285.2 732.3h0M1285.2 727.7h0M1285.3 723.7h0M1285.3 719.7h0M1285.4 715.6h0M1285.4 712.3h0M1285.5 708.9h0M1285.5 705.5h0M1285.5 702.0h0M1285.6 698.5h0M1285.6 695.9h0M1285.6 693.2h0M1285.7 690.6h0M1285.7 687.9h0M1285.7 685.2h0M1285.8 682.5h0M1285.8 679.9h0M1285.8 677.2h0M1285.8 674.5h0M1285.9 671.8h0M1285.9 669.1h0M1285.9 666.4h0M1286.0 664.7h0M1286.0 662.9h0M1286.0 661.1h0M1286.0 659.3h0M1286.0 657.6h0M1286.1 655.8h0M1286.1 654.1h0M1286.1 652.3h0M1286.1 650.6h0M1286.1 648.8h0M1286.2 647.1h0M1286.2 645.4h0M1286.2 643.7h0M1286.2 642.0h0M1286.2 640.3h0M1286.3 638.6h0M1286.3 637.0h0M1286.3 635.3h0M1286.3 633.7h0M1286.3 632.1h0M1286.4 630.4h0M1286.4 628.7h0M1286.4 627.0h0M1286.4 625.3h0M1286.4 623.5h0M1286.5 621.7h0M1286.5 619.9h0M1286.5 618.1h0M1286.5 616.2h0M1286.5 614.4h0M1286.6 612.5h0M1287.6 505.9h0M1287.7 504.3h0M1287.7 502.8h0M1287.7 501.3h0M1323.8 784.5h0M1324.3 773.6h0M1324.7 764.0h0M1325.0 755.2h0M1325.2 747.3h0M1325.3 739.8h0M1325.5 733.0h0M1325.5 726.8h0M1325.6 721.0h0M1325.7 715.6h0M1325.8 710.1h0M1325.8 705.2h0M1325.9 700.1h0M1325.9 695.8h0M1326.0 691.5h0M1326.0 687.1h0M1326.1 683.5h0M1326.1 679.9h0M1326.1 676.3h0M1326.2 672.7h0M1326.2 669.0h0M1326.3 666.3h0M1326.3 663.5h0M1326.3 660.8h0M1326.3 658.0h0M1326.4 655.3h0M1326.4 652.5h0M1326.4 649.8h0M1326.5 647.0h0M1326.5 644.3h0M1326.5 641.6h0M1326.6 638.9h0M1326.6 636.2h0M1326.6 633.5h0M1326.6 631.8h0M1326.7 630.0h0M1326.7 628.2h0M1326.7 626.5h0M1326.7 624.7h0M1326.7 623.0h0M1326.8 621.3h0M1326.8 619.6h0M1326.8 617.9h0M1326.8 616.2h0M1326.8 614.6h0M1326.9 612.9h0M1326.9 611.1h0M1326.9 609.4h0M1326.9 607.6h0M1326.9 605.8h0M1327.0 604.0h0M1327.0 602.1h0M1327.0 600.3h0M1327.0 598.4h0M1327.0 596.5h0M1327.1 594.5h0M1327.1 592.6h0M1327.1 590.6h0M1327.1 588.6h0M1328.2 483.8h0M1328.2 482.2h0M1328.2 480.6h0M1328.2 479.1h0M1363.3 770.8h0M1363.9 757.7h0M1364.3 746.3h0M1364.6 736.2h0M1364.8 727.4h0M1364.9 719.1h0M1365.0 711.3h0M1365.1 704.4h0M1365.2 697.9h0M1365.2 692.0h0M1365.3 686.8h0M1365.4 681.5h0M1365.4 677.0h0M1365.5 672.4h0M1365.5 667.8h0M1365.6 664.0h0M1365.6 660.2h0M1365.6 656.4h0M1365.7 652.6h0M1365.7 648.8h0M1365.8 645.0h0M1365.8 642.1h0M1365.8 639.2h0M1365.8 636.4h0M1365.9 633.5h0M1365.9 630.7h0M1365.9 627.8h0M1366.0 625.0h0M1366.0 622.2h0M1366.0 619.4h0M1366.1 616.6h0M1366.1 613.8h0M1366.1 612.0h0M1366.1 610.1h0M1366.1 608.3h0M1366.2 606.5h0M1366.2 604.7h0M1366.2 603.0h0M1366.2 601.2h0M1366.2 599.4h0M1366.3 597.7h0M1366.3 595.9h0M1366.3 594.1h0M1366.3 592.3h0M1366.3 590.5h0M1366.4 588.6h0M1366.4 586.7h0M1366.4 584.7h0M1366.4 582.8h0M1366.5 580.8h0M1366.5 578.8h0M1366.5 576.8h0M1366.5 574.8h0M1366.5 572.7h0M1366.5 570.6h0M1367.6 460.3h0M1367.6 458.7h0M1367.7 457.1h0M1367.7 455.6h0M1401.3 757.0h0M1402.0 741.5h0M1402.4 728.8h0M1402.7 717.8h0M1402.8 707.7h0M1403.0 699.4h0M1403.1 691.7h0M1403.2 684.4h0M1403.2 677.6h0M1403.3 671.4h0M1403.4 666.0h0M1403.4 660.5h0M1403.5 655.8h0M1403.5 651.0h0M1403.6 646.2h0M1403.6 642.4h0M1403.7 638.5h0M1403.7 634.6h0M1403.7 630.7h0M1403.8 626.8h0M1403.8 623.9h0M1403.8 621.0h0M1403.9 618.1h0M1403.9 615.1h0M1403.9 612.2h0M1404.0 609.3h0M1404.0 606.5h0M1404.0 603.6h0M1404.0 600.8h0M1404.1 597.9h0M1404.1 595.1h0M1404.1 593.3h0M1404.1 591.4h0M1404.2 589.6h0M1404.2 587.8h0M1404.2 585.9h0M1404.2 584.1h0M1404.2 582.4h0M1404.3 580.6h0M1404.3 578.8h0M1404.3 576.9h0M1404.3 575.1h0M1404.3 573.2h0M1404.4 571.3h0M1404.4 569.3h0M1404.4 567.4h0M1404.4 565.4h0M1404.5 563.4h0M1404.5 561.3h0M1404.5 559.3h0M1404.5 557.2h0M1404.5 555.1h0M1405.6 439.7h0M1405.6 438.1h0M1405.7 436.6h0M1405.7 435.0h0M1439.3 742.5h0M1439.9 727.2h0M1440.4 714.2h0M1440.6 703.0h0M1440.8 693.3h0M1440.9 684.7h0M1441.0 676.9h0M1441.1 669.4h0M1441.2 663.2h0M1441.3 656.9h0M1441.3 651.3h0M1441.4 645.6h0M1441.4 640.8h0M1441.5 635.9h0M1441.5 631.9h0M1441.6 627.9h0M1441.6 623.9h0M1441.6 619.9h0M1441.7 615.9h0M1441.7 612.8h0M1441.7 609.8h0M1441.8 606.8h0M1441.8 603.7h0M1441.8 600.7h0M1441.9 597.7h0M1441.9 594.7h0M1441.9 591.7h0M1442.0 588.7h0M1442.0 585.8h0M1442.0 582.8h0M1442.0 580.9h0M1442.0 578.9h0M1442.1 577.0h0M1442.1 575.1h0M1442.1 573.2h0M1442.1 571.3h0M1442.1 569.4h0M1442.2 567.5h0M1442.2 565.6h0M1442.2 563.8h0M1442.2 562.0h0M1442.2 560.1h0M1442.3 558.2h0M1442.3 556.2h0M1442.3 554.2h0M1442.3 552.2h0M1442.3 550.2h0M1442.4 548.2h0M1442.4 546.1h0M1442.4 544.0h0M1442.4 541.9h0M1443.6 416.7h0M1443.6 415.1h0M1443.6 413.6h0M1443.6 412.1h0M1476.3 728.8h0M1476.9 713.3h0M1477.3 700.3h0M1477.6 689.2h0M1477.8 679.2h0M1477.9 670.4h0M1478.0 662.2h0M1478.1 655.2h0M1478.1 648.8h0M1478.2 643.2h0M1478.2 637.3h0M1478.3 632.4h0M1478.3 627.4h0M1478.4 622.2h0M1478.4 618.1h0M1478.5 614.0h0M1478.5 609.8h0M1478.6 605.6h0M1478.6 602.4h0M1478.6 599.2h0M1478.6 596.1h0M1478.7 592.9h0M1478.7 589.7h0M1478.7 586.5h0M1478.8 583.4h0M1478.8 580.2h0M1478.8 577.1h0M1478.9 573.9h0M1478.9 571.8h0M1478.9 569.8h0M1478.9 567.7h0M1478.9 565.6h0M1479.0 563.6h0M1479.0 561.6h0M1479.0 559.5h0M1479.0 557.5h0M1479.0 555.5h0M1479.1 553.5h0M1479.1 551.6h0M1479.1 549.6h0M1479.1 547.7h0M1479.1 545.7h0M1479.2 543.8h0M1479.2 541.8h0M1479.2 539.8h0M1479.2 537.7h0M1479.2 535.6h0M1479.3 533.5h0M1479.3 531.4h0M1479.3 529.2h0M1480.5 393.5h0M1480.5 392.0h0M1480.5 390.4h0M1512.5 714.5h0M1513.1 699.2h0M1513.5 686.4h0M1513.8 675.4h0M1513.9 665.3h0M1514.0 656.3h0M1514.1 648.9h0M1514.2 641.8h0M1514.3 635.3h0M1514.3 629.5h0M1514.4 623.5h0M1514.5 618.4h0M1514.5 613.3h0M1514.6 608.0h0M1514.6 603.7h0M1514.6 599.5h0M1514.7 595.1h0M1514.7 590.8h0M1514.7 587.5h0M1514.8 584.3h0M1514.8 581.0h0M1514.8 577.7h0M1514.9 574.4h0M1514.9 571.1h0M1514.9 567.8h0M1515.0 564.6h0M1515.0 562.4h0M1515.0 560.2h0M1515.0 558.1h0M1515.0 555.9h0M1515.1 553.7h0M1515.1 551.6h0M1515.1 549.5h0M1515.1 547.3h0M1515.1 545.2h0M1515.2 543.1h0M1515.2 541.0h0M1515.2 539.0h0M1515.2 536.9h0M1515.2 534.9h0M1515.3 532.8h0M1515.3 530.8h0M1515.3 528.8h0M1515.3 526.8h0M1515.3 524.8h0M1515.4 522.7h0M1515.4 520.6h0M1515.4 518.4h0M1515.4 516.3h0M1515.4 514.1h0M1516.7 370.2h0M1516.7 368.6h0M1516.7 367.1h0M1549.0 700.0h0M1549.6 684.7h0M1550.0 671.9h0M1550.2 660.5h0M1550.4 650.7h0M1550.5 642.1h0M1550.6 634.3h0M1550.6 626.9h0M1550.7 620.1h0M1550.8 614.0h0M1550.8 608.7h0M1550.9 603.4h0M1550.9 598.0h0M1551.0 593.5h0M1551.0 589.1h0M1551.0 584.6h0M1551.1 580.0h0M1551.1 576.6h0M1551.1 573.1h0M1551.2 569.7h0M1551.2 566.2h0M1551.2 562.8h0M1551.3 559.3h0M1551.3 555.8h0M1551.3 552.4h0M1551.3 550.1h0M1551.4 547.7h0M1551.4 545.5h0M1551.4 543.2h0M1551.4 540.9h0M1551.4 538.6h0M1551.5 536.3h0M1551.5 534.1h0M1551.5 531.8h0M1551.5 529.6h0M1551.5 527.3h0M1551.6 525.1h0M1551.6 522.9h0M1551.6 520.7h0M1551.6 518.6h0M1551.6 516.4h0M1551.7 514.3h0M1551.7 512.1h0M1551.7 510.0h0M1551.7 507.9h0M1551.7 505.7h0M1551.8 503.5h0M1551.8 501.3h0M1553.1 346.3h0M1553.1 344.7h0M1553.1 343.2h0M339.1 1020.0h0M340.3 1017.0h0M340.3 1014.0h0M340.3 1011.0h0M340.3 1008.0h0M340.3 1005.0h0M340.3 1002.0h0M340.3 999.0h0M340.3 996.0h0M340.3 993.0h0M340.3 990.0h0M340.3 987.0h0M340.3 984.0h0M340.3 981.0h0M340.3 978.0h0M340.3 975.0h0M340.3 972.0h0M340.3 969.0h0M340.3 966.0h0M340.3 963.0h0M340.3 960.0h0M340.3 957.0h0M340.3 954.0h0M340.3 951.0h0M340.3 948.0h0M340.3 945.0h0M340.3 942.0h0M340.3 939.0h0M340.3 936.0h0M340.3 933.0h0M340.3 930.0h0M340.3 927.0h0M340.3 924.0h0M340.3 921.0h0M340.3 918.0h0M340.3 915.0h0M340.3 912.0h0M340.3 909.0h0M340.3 906.0h0M340.3 903.0h0M340.3 900.0h0M340.3 897.0h0M340.3 894.0h0M340.3 891.0h0M340.3 888.0h0M340.3 885.0h0M340.3 882.0h0M340.3 879.0h0M340.3 876.0h0M340.3 873.0h0M340.3 870.0h0M340.3 867.0h0M340.3 864.0h0M340.3 861.0h0M340.3 858.0h0M340.3 855.0h0M340.3 852.0h0M340.3 849.0h0M339.5 845.0h0M340.7 851.3h0M340.8 854.3h0M340.8 857.3h0M340.8 860.3h0M340.8 863.3h0M340.9 866.3h0M340.9 869.3h0M340.9 872.3h0M341.0 875.3h0M341.0 878.3h0M341.0 881.3h0M341.1 884.3h0M341.1 887.3h0M341.2 890.3h0M341.2 893.3h0M341.2 896.3h0M341.3 899.3h0M341.3 902.3h0M341.4 905.3h0M341.4 908.3h0M341.4 911.3h0M341.5 914.3h0M341.5 917.3h0M341.6 920.3h0M341.6 923.3h0M341.7 926.3h0M341.7 929.3h0M341.8 932.3h0M341.8 935.3h0M341.9 938.3h0M341.9 941.3h0M342.0 944.3h0M342.0 947.3h0M342.1 950.3h0M342.1 953.3h0M342.2 956.3h0M342.2 959.3h0M342.3 962.3h0M342.3 965.3h0M342.4 968.3h0M342.4 971.3h0M342.5 974.3h0M342.5 977.3h0M342.6 980.3h0M342.6 983.3h0M342.7 986.3h0M342.7 989.3h0M342.8 992.3h0M342.9 995.3h0M342.9 998.3h0M343.0 1001.3h0M343.0 1004.3h0M343.1 1007.3h0M343.1 1010.3h0M343.2 1013.3h0M343.3 1016.3h0M343.3 1019.3h0M343.4 1022.3h0M343.4 1025.3h0M343.5 1028.3h0M343.5 1031.3h0M343.6 1034.3h0M343.7 1037.3h0M343.7 1040.3h0M343.8 1043.8h0M391.6 992.5h0M392.8 989.5h0M392.8 986.5h0M392.8 983.5h0M392.8 980.5h0M392.8 977.5h0M392.8 974.5h0M392.8 971.5h0M392.8 968.5h0M392.8 965.5h0M392.8 962.5h0M392.8 959.5h0M392.8 956.5h0M392.8 953.5h0M392.8 950.5h0M392.8 947.5h0M392.8 944.5h0M392.8 941.5h0M392.8 938.5h0M392.8 935.5h0M392.8 932.5h0M392.8 929.5h0M392.8 926.5h0M392.8 923.5h0M392.8 920.5h0M392.8 917.5h0M392.8 914.5h0M392.8 911.5h0M392.8 908.5h0M392.8 905.5h0M392.8 902.5h0M392.8 899.5h0M392.8 896.5h0M392.8 893.5h0M392.8 890.5h0M392.8 887.5h0M392.8 884.5h0M392.8 881.5h0M392.8 878.5h0M392.8 875.5h0M392.8 872.5h0M392.8 869.5h0M392.8 866.5h0M392.8 863.5h0M392.8 860.5h0M392.8 857.5h0M392.8 854.5h0M392.8 851.5h0M392.8 848.5h0M392.8 845.5h0M392.8 842.5h0M392.8 839.5h0M392.8 836.5h0M392.8 833.5h0M392.8 830.5h0M392.8 827.5h0M392.8 824.5h0M392.8 821.5h0M392.8 818.5h0M392.8 815.5h0M392.8 812.5h0M392.8 809.5h0M392.8 806.5h0M392.8 803.5h0M392.8 800.5h0M392.8 797.5h0M392.8 794.5h0M392.8 791.5h0M392.8 788.5h0M392.8 785.5h0M392.8 782.5h0M392.8 779.5h0M392.8 776.5h0M392.8 773.5h0M392.8 770.5h0M392.8 767.5h0M392.8 764.5h0M392.0 760.0h0M393.2 765.6h0M393.2 768.6h0M393.3 771.6h0M393.3 774.6h0M393.3 777.6h0M393.3 780.6h0M393.3 783.6h0M393.4 786.6h0M393.4 789.6h0M393.4 792.6h0M393.4 795.6h0M393.5 798.6h0M393.5 801.6h0M393.5 804.6h0M393.5 807.6h0M393.6 810.6h0M393.6 813.6h0M393.6 816.6h0M393.7 819.6h0M393.7 822.6h0M393.7 825.6h0M393.8 828.6h0M393.8 831.6h0M393.8 834.6h0M393.8 837.6h0M393.9 840.6h0M393.9 843.6h0M393.9 846.6h0M394.0 849.6h0M394.0 852.6h0M394.1 855.6h0M394.1 858.6h0M394.1 861.6h0M394.2 864.6h0M394.2 867.6h0M394.2 870.6h0M394.3 873.6h0M394.3 876.6h0M394.3 879.6h0M394.4 882.6h0M394.4 885.6h0M394.5 888.6h0M394.5 891.6h0M394.5 894.6h0M394.6 897.6h0M394.6 900.6h0M394.6 903.6h0M394.7 906.6h0M394.7 909.6h0M394.8 912.6h0M394.8 915.6h0M394.8 918.6h0M394.9 921.6h0M394.9 924.6h0M395.0 927.6h0M395.0 930.6h0M395.0 933.6h0M395.1 936.6h0M395.1 939.6h0M395.2 942.6h0M395.2 945.6h0M395.3 948.6h0M395.3 951.6h0M395.3 954.6h0M395.4 957.6h0M395.4 960.6h0M395.5 963.6h0M395.5 966.6h0M395.6 969.6h0M395.6 972.6h0M395.7 975.6h0M395.7 978.6h0M395.7 981.6h0M395.8 984.6h0M395.8 987.6h0M395.9 990.6h0M395.9 993.6h0M396.0 996.6h0M396.0 999.6h0M396.1 1002.6h0M396.1 1005.6h0M396.1 1008.6h0M396.2 1011.6h0M396.2 1014.6h0M396.3 1017.6h0M396.3 1020.6h0M396.4 1023.6h0M396.4 1026.6h0M396.5 1031.0h0M445.6 968.0h0M446.0 690.0h0M446.3 696.0h0M446.3 707.0h0M446.3 725.0h0M446.7 746.4h0M447.0 768.8h0M447.0 775.6h0M447.1 782.0h0M447.2 791.8h0M447.3 800.1h0M447.8 836.8h0M448.0 854.5h0M448.3 873.4h0M448.6 895.3h0M448.8 911.2h0M449.0 927.0h0M449.3 940.7h0M449.4 951.4h0M449.6 961.2h0M449.7 968.3h0M449.8 974.6h0M449.9 980.3h0M450.0 986.1h0M450.0 990.7h0M450.1 994.7h0M450.2 999.0h0M450.2 1003.1h0M450.3 1007.1h0M450.4 1011.6h0M450.5 1016.1h0M450.5 1018.8h0M500.1 943.8h0M500.5 622.5h0M500.8 633.0h0M500.8 668.0h0M500.8 679.5h0M500.8 694.0h0M501.5 720.7h0M501.6 730.2h0M501.7 736.6h0M501.8 746.4h0M502.2 789.3h0M502.6 823.3h0M502.8 840.7h0M503.0 858.3h0M503.3 876.9h0M503.5 896.4h0M503.7 910.0h0M503.9 924.7h0M504.0 935.6h0M504.2 945.9h0M504.3 955.0h0M504.4 962.1h0M504.5 968.8h0M504.6 974.7h0M504.6 979.0h0M504.7 983.8h0M504.7 987.8h0M504.8 992.1h0M504.9 996.3h0M504.9 1000.2h0M505.0 1004.1h0M505.0 1006.0h0M555.1 920.0h0M555.5 557.5h0M555.8 566.0h0M555.8 588.0h0M555.8 624.0h0M555.8 669.0h0M556.7 694.5h0M557.0 721.2h0M557.5 773.9h0M557.7 795.2h0M558.0 818.1h0M558.2 839.2h0M558.4 858.5h0M558.6 876.1h0M558.8 890.7h0M558.9 903.8h0M559.1 917.2h0M559.2 926.4h0M559.3 936.9h0M559.4 944.1h0M559.5 950.6h0M559.5 956.1h0M559.6 961.4h0M559.7 966.1h0M559.7 970.0h0M559.8 973.8h0M559.8 978.4h0M559.9 983.2h0M559.9 987.6h0M560.0 993.0h0M609.4 897.0h0M609.7 883.7h0M609.7 836.5h0M609.7 812.3h0M609.7 784.7h0M609.7 778.1h0M609.7 720.1h0M609.7 714.0h0M609.7 655.8h0M609.7 601.8h0M609.7 576.1h0M609.7 568.7h0M609.7 540.5h0M609.7 519.4h0M609.8 500.8h0M610.1 507.9h0M610.2 536.8h0M610.3 545.9h0M610.3 555.1h0M610.4 561.9h0M610.6 589.7h0M610.8 627.6h0M610.9 637.4h0M611.2 676.7h0M611.6 722.8h0M612.2 779.2h0M612.4 800.7h0M612.6 820.6h0M612.8 838.6h0M613.0 860.4h0M613.2 876.7h0M613.3 892.9h0M613.5 907.3h0M613.6 917.4h0M613.7 926.2h0M613.8 935.1h0M613.9 942.0h0M613.9 947.0h0M614.0 951.3h0M614.0 955.1h0M614.1 959.8h0M614.1 964.4h0M614.2 968.1h0M614.2 972.7h0M614.3 977.5h0M614.3 980.8h0M663.4 875.0h0M663.7 863.4h0M663.7 842.8h0M663.7 801.8h0M663.7 791.8h0M663.7 762.2h0M663.7 754.9h0M663.7 716.6h0M663.7 663.5h0M663.7 637.4h0M663.7 628.3h0M663.7 579.3h0M663.7 532.0h0M663.7 522.9h0M663.7 501.2h0M663.7 450.8h0M663.8 444.3h0M664.1 452.1h0M664.1 459.9h0M664.4 514.9h0M664.8 570.7h0M664.8 577.2h0M665.1 614.3h0M665.3 640.5h0M665.4 649.1h0M665.6 677.9h0M665.7 687.4h0M666.1 724.7h0M666.4 758.9h0M666.5 776.1h0M666.7 796.4h0M666.9 816.0h0M667.1 833.1h0M667.3 851.4h0M667.4 868.7h0M667.6 882.9h0M667.7 893.5h0M667.8 905.7h0M667.9 915.4h0M668.0 923.9h0M668.1 929.5h0M668.1 934.6h0M668.2 938.7h0M668.2 943.3h0M668.3 947.2h0M668.3 950.9h0M668.4 955.0h0M668.4 959.7h0M668.5 964.3h0M668.5 968.0h0M717.1 854.0h0M717.4 845.6h0M717.4 835.9h0M717.4 828.8h0M717.4 808.1h0M717.4 801.8h0M717.4 768.2h0M717.4 759.8h0M717.4 729.3h0M717.4 688.0h0M717.4 680.0h0M717.4 659.3h0M717.4 631.7h0M717.4 579.0h0M717.4 523.4h0M717.4 489.7h0M717.4 480.8h0M717.4 460.2h0M717.4 438.0h0M717.4 428.5h0M717.4 406.7h0M717.5 389.0h0M717.8 395.3h0M717.8 401.4h0M718.0 440.4h0M718.0 449.0h0M718.0 456.1h0M718.1 463.7h0M718.3 513.7h0M718.6 565.1h0M718.8 596.4h0M719.1 649.8h0M719.2 658.3h0M719.3 668.0h0M719.7 723.7h0M719.8 746.4h0M720.0 767.3h0M720.1 784.8h0M720.3 802.1h0M720.4 822.9h0M720.6 844.5h0M720.7 859.8h0M720.8 873.3h0M720.9 883.5h0M721.0 892.3h0M721.0 901.5h0M721.1 908.7h0M721.2 914.9h0M721.2 920.7h0M721.2 925.1h0M721.3 930.0h0M721.3 934.7h0M721.4 938.4h0M721.4 942.6h0M721.4 947.1h0M721.5 951.3h0M721.5 955.8h0M768.9 834.0h0M769.2 814.5h0M769.2 785.2h0M769.2 745.5h0M769.2 723.6h0M769.2 700.5h0M769.2 691.9h0M769.2 661.1h0M769.2 621.6h0M769.2 613.5h0M769.2 603.5h0M769.2 565.2h0M769.2 555.3h0M769.2 545.6h0M769.2 539.1h0M769.2 530.6h0M769.2 501.4h0M769.2 443.4h0M769.2 411.3h0M769.2 386.5h0M769.2 377.5h0M769.3 335.0h0M769.6 340.3h0M769.8 395.1h0M769.8 404.1h0M769.9 413.4h0M770.1 450.9h0M770.2 472.0h0M770.3 479.6h0M770.4 501.6h0M770.5 527.2h0M770.9 584.2h0M771.1 614.5h0M771.4 644.9h0M771.5 669.6h0M771.8 698.0h0M771.9 718.3h0M772.1 738.0h0M772.2 757.0h0M772.4 778.5h0M772.6 798.1h0M772.7 818.4h0M772.9 834.8h0M773.0 848.6h0M773.1 862.3h0M773.2 873.1h0M773.3 882.6h0M773.4 892.0h0M773.4 898.6h0M773.5 903.9h0M773.5 910.1h0M773.6 914.5h0M773.6 919.0h0M773.6 922.9h0M773.7 926.8h0M773.7 931.3h0M773.7 935.5h0M773.8 939.8h0M773.8 942.5h0M820.6 818.8h0M820.9 801.8h0M820.9 793.7h0M820.9 763.8h0M820.9 756.0h0M820.9 719.0h0M820.9 696.1h0M820.9 686.7h0M820.9 679.8h0M820.9 630.9h0M820.9 624.6h0M820.9 567.8h0M820.9 522.7h0M820.9 499.9h0M820.9 469.5h0M820.9 428.0h0M820.9 382.2h0M820.9 340.3h0M820.9 308.0h0M820.9 298.5h0M820.9 289.8h0M821.0 287.0h0M821.3 292.8h0M821.3 302.0h0M821.3 310.0h0M821.4 338.8h0M821.5 345.3h0M821.5 367.5h0M821.7 396.0h0M821.8 418.1h0M821.8 425.9h0M821.9 435.9h0M822.1 476.9h0M822.2 512.0h0M822.3 519.8h0M822.3 527.2h0M822.6 578.0h0M822.8 605.8h0M823.0 633.5h0M823.2 669.9h0M823.3 687.2h0M823.4 704.4h0M823.5 721.8h0M823.7 744.3h0M823.8 762.8h0M823.9 784.3h0M824.1 806.7h0M824.2 823.5h0M824.3 837.6h0M824.4 852.7h0M824.5 864.1h0M824.6 872.8h0M824.6 881.5h0M824.7 888.1h0M824.7 893.7h0M824.8 898.1h0M824.8 903.0h0M824.8 907.7h0M824.9 912.1h0M824.9 916.8h0M824.9 920.4h0M825.0 924.3h0M825.0 928.5h0M825.0 930.0h0M871.0 798.8h0M871.3 777.5h0M871.3 747.5h0M871.3 727.1h0M871.3 719.9h0M871.3 685.5h0M871.3 679.1h0M871.3 639.9h0M871.3 632.6h0M871.3 609.2h0M871.3 599.3h0M871.3 552.3h0M871.3 501.3h0M871.3 466.4h0M871.3 459.4h0M871.3 404.0h0M871.3 374.2h0M871.3 367.2h0M871.3 328.3h0M871.3 318.6h0M871.3 312.4h0M871.3 277.5h0M871.3 269.1h0M871.3 262.7h0M871.4 237.0h0M871.7 242.2h0M871.9 298.7h0M871.9 306.3h0M871.9 313.2h0M871.9 320.8h0M872.1 347.3h0M872.3 406.9h0M872.5 439.4h0M872.6 460.1h0M872.6 468.7h0M872.7 476.4h0M872.7 484.0h0M872.8 506.1h0M873.0 540.9h0M873.1 547.6h0M873.1 557.3h0M873.4 610.8h0M873.5 618.1h0M873.5 627.7h0M873.8 672.5h0M874.0 694.6h0M874.1 716.6h0M874.2 734.7h0M874.4 753.0h0M874.5 772.4h0M874.6 792.5h0M874.7 809.7h0M874.8 823.4h0M874.9 835.8h0M875.0 848.3h0M875.1 859.3h0M875.1 866.5h0M875.2 873.9h0M875.2 880.6h0M875.3 885.2h0M875.3 890.3h0M875.3 894.0h0M875.4 898.3h0M875.4 902.6h0M875.4 906.9h0M875.5 910.9h0M875.5 915.0h0M875.5 917.5h0M920.1 778.8h0M920.4 766.0h0M920.4 757.4h0M920.4 697.9h0M920.4 688.9h0M920.4 652.8h0M920.4 615.2h0M920.4 589.9h0M920.4 566.8h0M920.4 557.2h0M920.4 547.7h0M920.4 541.0h0M920.4 492.1h0M920.4 459.2h0M920.4 433.4h0M920.4 389.8h0M920.4 381.7h0M920.4 336.3h0M920.4 326.7h0M920.4 304.7h0M920.4 296.5h0M920.4 242.3h0M920.5 185.8h0M920.8 191.4h0M920.9 220.6h0M921.0 242.5h0M921.2 297.3h0M921.2 306.9h0M921.4 344.2h0M921.6 383.7h0M921.7 404.6h0M921.9 445.6h0M922.1 473.7h0M922.1 483.0h0M922.2 491.9h0M922.5 543.2h0M922.6 565.4h0M922.9 609.5h0M923.0 618.4h0M923.0 624.7h0M923.1 645.1h0M923.3 666.1h0M923.4 684.3h0M923.5 703.7h0M923.7 723.9h0M923.8 744.7h0M924.0 765.6h0M924.1 785.1h0M924.2 802.9h0M924.3 817.6h0M924.4 828.5h0M924.5 839.9h0M924.6 850.7h0M924.7 859.0h0M924.7 865.6h0M924.7 871.4h0M924.8 876.1h0M924.8 880.2h0M924.8 884.9h0M924.9 888.6h0M924.9 893.0h0M924.9 896.8h0M925.0 901.6h0M925.0 905.5h0M968.9 760.0h0M969.2 743.7h0M969.2 688.0h0M969.2 657.4h0M969.2 600.7h0M969.2 572.0h0M969.2 542.6h0M969.2 535.8h0M969.2 506.2h0M969.2 452.6h0M969.2 444.7h0M969.2 395.7h0M969.2 352.3h0M969.2 342.6h0M969.2 283.5h0M969.2 235.8h0M969.2 214.0h0M969.2 155.8h0M969.3 100.0h0M969.6 108.8h0M969.6 115.2h0M969.6 125.0h0M969.7 134.3h0M969.8 186.0h0M969.9 222.9h0M970.0 244.9h0M970.2 288.9h0M970.3 310.2h0M970.3 318.3h0M970.3 326.4h0M970.5 363.9h0M970.5 370.7h0M970.6 378.1h0M970.8 436.3h0M970.8 443.4h0M971.0 470.0h0M971.3 529.7h0M971.5 574.8h0M971.8 630.5h0M971.9 652.8h0M972.0 669.9h0M972.1 688.2h0M972.2 706.8h0M972.3 729.2h0M972.5 749.2h0M972.6 768.4h0M972.7 788.0h0M972.8 801.6h0M972.8 814.3h0M972.9 825.4h0M973.0 835.5h0M973.0 844.1h0M973.1 851.1h0M973.1 856.6h0M973.1 861.3h0M973.1 865.1h0M973.2 869.8h0M973.2 874.2h0M973.2 878.7h0M973.2 882.5h0M973.3 886.6h0M973.3 891.3h0M1015.8 742.5h0M1016.1 727.2h0M1016.1 720.7h0M1016.1 670.5h0M1016.1 644.3h0M1016.1 635.9h0M1016.1 628.9h0M1016.1 619.0h0M1016.1 609.8h0M1016.1 553.4h0M1016.1 532.9h0M1016.1 492.8h0M1016.1 486.8h0M1016.1 449.6h0M1016.1 395.7h0M1016.1 344.8h0M1016.1 336.4h0M1016.1 328.6h0M1016.1 292.6h0M1016.1 262.6h0M1016.1 221.9h0M1016.1 212.1h0M1016.1 204.6h0M1016.1 197.6h0M1016.1 154.6h0M1016.1 115.6h0M1016.1 107.5h0M1016.2 100.0h0M1016.5 107.9h0M1016.6 153.4h0M1016.7 174.0h0M1016.7 182.5h0M1016.9 240.1h0M1017.2 299.8h0M1017.4 350.9h0M1017.4 357.7h0M1017.7 403.2h0M1017.7 411.1h0M1017.8 420.2h0M1017.9 455.3h0M1018.2 494.5h0M1018.4 540.7h0M1018.7 586.2h0M1018.7 592.8h0M1018.8 614.8h0M1019.0 637.2h0M1019.1 658.9h0M1019.2 676.7h0M1019.3 698.7h0M1019.5 719.5h0M1019.6 736.6h0M1019.7 753.7h0M1019.8 774.1h0M1019.9 789.8h0M1020.0 801.6h0M1020.1 811.4h0M1020.1 820.1h0M1020.2 827.8h0M1020.2 835.8h0M1020.3 841.7h0M1020.3 846.5h0M1020.3 851.8h0M1020.3 856.4h0M1020.4 860.1h0M1020.4 864.8h0M1020.4 869.2h0M1020.5 873.7h0M1020.5 879.3h0M1062.2 722.5h0M1062.5 702.2h0M1062.5 674.3h0M1062.5 620.7h0M1062.5 611.2h0M1062.5 572.3h0M1062.5 546.5h0M1062.5 539.8h0M1062.5 497.3h0M1062.5 460.3h0M1062.5 454.0h0M1062.5 432.2h0M1062.5 422.9h0M1062.5 374.2h0M1062.5 340.5h0M1062.5 284.1h0M1062.5 241.9h0M1062.5 202.1h0M1062.5 168.4h0M1062.5 135.1h0M1062.5 128.6h0M1062.6 100.0h0M1062.9 105.2h0M1062.9 125.4h0M1063.1 177.0h0M1063.3 222.1h0M1063.3 230.8h0M1063.3 239.5h0M1063.4 248.2h0M1063.4 257.8h0M1063.6 300.3h0M1063.7 321.1h0M1063.8 343.3h0M1064.1 396.3h0M1064.1 404.6h0M1064.5 464.3h0M1064.5 474.2h0M1064.8 530.1h0M1064.9 536.1h0M1064.9 546.1h0M1065.0 552.6h0M1065.3 602.4h0M1065.4 624.0h0M1065.5 645.3h0M1065.7 667.4h0M1065.8 688.8h0M1065.9 706.3h0M1066.1 727.1h0M1066.2 748.1h0M1066.3 764.7h0M1066.4 781.1h0M1066.5 792.3h0M1066.6 804.2h0M1066.6 813.6h0M1066.7 820.0h0M1066.7 825.6h0M1066.8 831.6h0M1066.8 837.6h0M1066.8 842.5h0M1066.9 847.7h0M1066.9 853.6h0M1066.9 858.6h0M1067.0 865.8h0M1107.1 705.0h0M1107.4 691.2h0M1107.4 656.5h0M1107.4 648.6h0M1107.4 602.8h0M1107.4 551.7h0M1107.4 542.6h0M1107.4 490.5h0M1107.4 483.2h0M1107.4 474.8h0M1107.4 467.3h0M1107.4 435.9h0M1107.4 428.9h0M1107.4 373.2h0M1107.4 321.3h0M1107.4 312.6h0M1107.4 277.3h0M1107.4 233.1h0M1107.4 176.0h0M1107.4 167.0h0M1107.4 132.8h0M1107.5 100.0h0M1107.8 106.3h0M1107.8 114.3h0M1107.9 148.8h0M1107.9 156.3h0M1108.0 162.4h0M1108.1 201.0h0M1108.1 209.4h0M1108.4 264.2h0M1108.6 306.9h0M1108.8 357.6h0M1108.9 367.4h0M1108.9 377.4h0M1109.0 385.6h0M1109.3 442.5h0M1109.6 485.1h0M1109.6 491.5h0M1110.0 550.1h0M1110.1 571.6h0M1110.2 589.0h0M1110.3 609.3h0M1110.4 626.5h0M1110.6 649.0h0M1110.7 667.5h0M1110.8 687.6h0M1111.0 709.1h0M1111.1 730.6h0M1111.3 748.0h0M1111.3 761.2h0M1111.4 773.6h0M1111.5 783.3h0M1111.6 792.3h0M1111.6 801.6h0M1111.7 809.2h0M1111.7 815.9h0M1111.8 823.1h0M1111.8 829.9h0M1111.9 836.5h0M1111.9 843.2h0M1112.0 849.8h0M1112.0 853.0h0M1152.1 685.0h0M1152.4 671.9h0M1152.4 615.4h0M1152.4 606.5h0M1152.4 571.6h0M1152.4 533.7h0M1152.4 488.5h0M1152.4 459.2h0M1152.4 436.9h0M1152.4 429.1h0M1152.4 392.6h0M1152.4 360.8h0M1152.4 352.8h0M1152.4 307.6h0M1152.4 297.9h0M1152.4 269.8h0M1152.4 212.8h0M1152.4 186.3h0M1152.4 148.6h0M1152.4 128.6h0M1152.5 100.0h0M1152.8 105.9h0M1152.8 114.2h0M1152.8 123.0h0M1152.9 132.6h0M1152.9 139.4h0M1152.9 162.0h0M1153.1 218.7h0M1153.2 252.1h0M1153.3 258.4h0M1153.4 289.1h0M1153.4 295.2h0M1153.4 302.7h0M1153.7 351.2h0M1153.7 360.4h0M1153.8 384.7h0M1153.8 392.7h0M1153.9 399.7h0M1153.9 406.1h0M1154.2 463.2h0M1154.4 506.2h0M1154.4 513.2h0M1154.6 535.0h0M1154.6 543.3h0M1154.7 562.8h0M1154.8 580.6h0M1154.9 601.1h0M1155.0 623.3h0M1155.1 641.2h0M1155.2 661.6h0M1155.4 683.1h0M1155.5 701.1h0M1155.6 722.9h0M1155.7 741.8h0M1155.8 755.4h0M1155.9 767.2h0M1155.9 778.6h0M1156.0 787.5h0M1156.0 795.4h0M1156.1 804.7h0M1156.1 813.6h0M1156.2 821.4h0M1156.2 828.9h0M1156.3 836.7h0M1156.3 840.0h0M1195.6 667.0h0M1195.9 645.3h0M1195.9 592.7h0M1195.9 552.0h0M1195.9 515.1h0M1195.9 508.7h0M1195.9 487.8h0M1195.9 478.7h0M1195.9 448.1h0M1195.9 439.6h0M1195.9 409.6h0M1195.9 388.0h0M1195.9 344.2h0M1195.9 334.6h0M1195.9 294.2h0M1195.9 244.7h0M1195.9 200.3h0M1195.9 164.9h0M1195.9 123.0h0M1195.9 113.7h0M1195.9 105.6h0M1196.0 100.0h0M1196.3 107.2h0M1196.4 138.6h0M1196.5 180.7h0M1196.6 218.3h0M1196.9 268.8h0M1196.9 275.7h0M1196.9 283.3h0M1197.2 336.2h0M1197.4 390.4h0M1197.7 435.7h0M1197.8 455.9h0M1198.1 514.4h0M1198.3 545.6h0M1198.4 566.2h0M1198.5 585.5h0M1198.6 605.2h0M1198.7 625.0h0M1198.9 646.3h0M1199.0 665.1h0M1199.1 684.4h0M1199.2 704.7h0M1199.3 721.5h0M1199.4 735.6h0M1199.5 749.6h0M1199.6 761.7h0M1199.6 771.2h0M1199.7 780.6h0M1199.8 789.2h0M1199.8 798.2h0M1199.9 806.7h0M1199.9 816.5h0M1200.0 826.0h0M1237.6 648.0h0M1237.9 640.6h0M1237.9 630.9h0M1237.9 621.1h0M1237.9 590.8h0M1237.9 539.9h0M1237.9 499.2h0M1237.9 477.6h0M1237.9 467.8h0M1237.9 421.8h0M1237.9 394.3h0M1237.9 349.3h0M1237.9 299.5h0M1237.9 246.4h0M1237.9 200.2h0M1237.9 140.6h0M1237.9 132.0h0M1237.9 104.7h0M1238.0 100.0h0M1238.3 107.5h0M1238.4 144.0h0M1238.6 186.1h0M1238.6 195.5h0M1238.8 238.2h0M1238.8 247.8h0M1239.0 274.0h0M1239.1 300.8h0M1239.2 308.8h0M1239.2 317.4h0M1239.4 351.6h0M1239.4 360.1h0M1239.5 367.5h0M1239.5 374.4h0M1239.6 382.1h0M1239.6 388.7h0M1239.8 420.9h0M1239.8 427.9h0M1239.9 434.9h0M1239.9 442.5h0M1240.1 472.3h0M1240.2 492.6h0M1240.4 517.2h0M1240.5 536.2h0M1240.7 557.1h0M1240.8 579.9h0M1240.9 599.4h0M1241.1 621.9h0M1241.2 642.2h0M1241.4 661.5h0M1241.5 681.3h0M1241.7 699.2h0M1241.8 715.1h0M1241.9 728.1h0M1241.9 738.4h0M1242.0 750.3h0M1242.1 760.3h0M1242.2 769.9h0M1242.3 779.8h0M1242.3 790.8h0M1242.4 802.6h0M1242.5 812.5h0M1278.9 629.0h0M1279.2 615.5h0M1279.2 606.3h0M1279.2 597.5h0M1279.2 558.4h0M1279.2 498.5h0M1279.2 488.9h0M1279.2 481.3h0M1279.2 427.2h0M1279.2 380.9h0M1279.2 332.5h0M1279.2 299.6h0M1279.2 243.1h0M1279.2 234.1h0M1279.2 209.0h0M1279.2 170.4h0M1279.2 116.0h0M1279.3 100.0h0M1279.6 106.4h0M1279.6 114.1h0M1279.6 124.1h0M1279.8 180.6h0M1280.0 216.7h0M1280.1 244.7h0M1280.1 253.6h0M1280.3 293.5h0M1280.5 330.9h0M1280.7 381.5h0M1281.0 435.7h0M1281.1 444.4h0M1281.4 501.0h0M1281.5 523.5h0M1281.6 543.0h0M1281.8 564.5h0M1281.9 587.5h0M1282.0 608.1h0M1282.2 626.5h0M1282.3 646.6h0M1282.4 665.7h0M1282.6 687.2h0M1282.7 702.7h0M1282.7 715.7h0M1282.8 727.9h0M1282.9 740.8h0M1283.0 754.2h0M1283.1 766.9h0M1283.2 779.1h0M1283.3 792.0h0M1283.3 798.0h0M1319.2 611.0h0M1319.5 594.2h0M1319.5 584.8h0M1319.5 536.7h0M1319.5 530.0h0M1319.5 500.0h0M1319.5 492.7h0M1319.5 486.1h0M1319.5 477.3h0M1319.5 445.3h0M1319.5 438.7h0M1319.5 412.0h0M1319.5 352.8h0M1319.5 328.2h0M1319.5 306.5h0M1319.5 299.7h0M1319.5 261.9h0M1319.5 239.0h0M1319.5 179.8h0M1319.5 134.0h0M1319.5 127.3h0M1319.6 100.0h0M1319.9 107.8h0M1319.9 116.4h0M1320.0 125.5h0M1320.1 181.3h0M1320.4 234.5h0M1320.5 269.7h0M1320.7 304.5h0M1320.8 313.8h0M1321.0 366.6h0M1321.2 388.6h0M1321.4 420.6h0M1321.4 429.1h0M1321.5 436.9h0M1321.7 476.1h0M1321.8 493.1h0M1321.9 515.1h0M1322.1 537.3h0M1322.2 559.0h0M1322.3 578.5h0M1322.5 597.2h0M1322.6 618.2h0M1322.8 638.3h0M1322.9 657.8h0M1323.0 675.0h0M1323.1 690.4h0M1323.2 704.6h0M1323.3 719.5h0M1323.4 734.6h0M1323.5 746.8h0M1323.6 759.5h0M1323.7 772.8h0M1323.8 784.5h0M1358.9 592.5h0M1359.2 580.9h0M1359.2 557.5h0M1359.2 549.8h0M1359.2 539.9h0M1359.2 493.6h0M1359.2 454.4h0M1359.2 413.1h0M1359.2 385.6h0M1359.2 342.4h0M1359.2 301.2h0M1359.2 293.5h0M1359.2 269.0h0M1359.2 222.2h0M1359.2 193.1h0M1359.2 136.7h0M1359.3 100.0h0M1359.6 105.5h0M1359.6 113.5h0M1359.8 172.0h0M1359.8 181.3h0M1359.9 206.8h0M1360.0 213.0h0M1360.0 221.8h0M1360.3 277.3h0M1360.4 301.9h0M1360.5 328.6h0M1360.8 378.1h0M1361.0 413.0h0M1361.0 421.9h0M1361.1 429.3h0M1361.1 439.0h0M1361.2 459.9h0M1361.4 477.6h0M1361.5 494.7h0M1361.6 512.3h0M1361.7 534.1h0M1361.8 552.3h0M1361.9 572.6h0M1362.1 591.3h0M1362.2 612.4h0M1362.3 631.7h0M1362.5 649.5h0M1362.6 668.8h0M1362.7 683.8h0M1362.8 699.5h0M1362.9 715.8h0M1363.0 732.6h0M1363.1 745.3h0M1363.2 759.5h0M1363.3 770.8h0M1397.6 575.0h0M1397.9 561.0h0M1397.9 551.5h0M1397.9 505.7h0M1397.9 495.8h0M1397.9 451.4h0M1397.9 426.2h0M1397.9 399.4h0M1397.9 360.6h0M1397.9 354.6h0M1397.9 310.3h0M1397.9 263.4h0M1397.9 229.1h0M1397.9 221.0h0M1397.9 211.4h0M1397.9 166.0h0M1397.9 156.9h0M1397.9 106.3h0M1398.0 100.0h0M1398.3 107.9h0M1398.4 156.0h0M1398.6 211.8h0M1398.8 267.4h0M1399.0 305.2h0M1399.1 330.9h0M1399.3 380.0h0M1399.6 437.0h0M1399.6 455.1h0M1399.7 475.5h0M1399.9 498.5h0M1400.0 517.6h0M1400.1 539.2h0M1400.2 558.8h0M1400.3 581.0h0M1400.4 598.4h0M1400.5 618.3h0M1400.6 640.5h0M1400.7 656.0h0M1400.8 671.1h0M1400.9 684.9h0M1401.0 699.5h0M1401.1 714.6h0M1401.2 731.8h0M1401.2 746.6h0M1401.3 757.0h0M1435.6 555.5h0M1435.9 546.3h0M1435.9 537.9h0M1435.9 530.9h0M1435.9 478.5h0M1435.9 447.7h0M1435.9 438.2h0M1435.9 383.5h0M1435.9 375.9h0M1435.9 352.4h0M1435.9 312.6h0M1435.9 257.7h0M1435.9 235.4h0M1435.9 226.6h0M1435.9 220.0h0M1435.9 186.2h0M1435.9 139.9h0M1436.0 100.0h0M1436.3 106.9h0M1436.4 153.0h0M1436.5 184.1h0M1436.6 214.2h0M1436.8 260.4h0M1436.8 267.0h0M1436.9 291.9h0M1437.0 319.2h0M1437.2 346.3h0M1437.4 397.5h0M1437.5 427.2h0M1437.6 445.4h0M1437.8 467.9h0M1437.9 490.3h0M1438.0 509.7h0M1438.1 527.9h0M1438.2 549.7h0M1438.3 566.8h0M1438.4 587.8h0M1438.5 604.9h0M1438.6 626.4h0M1438.7 645.0h0M1438.8 662.0h0M1438.9 677.5h0M1439.0 692.4h0M1439.1 708.0h0M1439.2 726.2h0M1439.3 742.5h0M1472.8 539.0h0M1473.1 522.5h0M1473.1 501.7h0M1473.1 472.4h0M1473.1 463.8h0M1473.1 412.2h0M1473.1 402.4h0M1473.1 395.1h0M1473.1 387.8h0M1473.1 359.4h0M1473.1 351.9h0M1473.1 294.5h0M1473.1 288.4h0M1473.1 256.3h0M1473.1 249.9h0M1473.1 204.2h0M1473.1 194.7h0M1473.1 187.9h0M1473.1 179.9h0M1473.1 170.9h0M1473.1 161.4h0M1473.1 132.5h0M1473.1 125.9h0M1473.1 117.8h0M1473.1 110.4h0M1473.2 100.0h0M1473.5 106.1h0M1473.5 128.0h0M1473.6 137.8h0M1473.7 179.8h0M1473.9 239.5h0M1473.9 247.1h0M1474.0 254.6h0M1474.1 284.2h0M1474.2 314.4h0M1474.2 324.3h0M1474.3 333.7h0M1474.5 376.1h0M1474.5 384.3h0M1474.7 430.1h0M1474.8 450.7h0M1474.9 473.7h0M1475.0 492.1h0M1475.1 512.9h0M1475.2 534.3h0M1475.3 553.6h0M1475.4 574.9h0M1475.5 594.2h0M1475.7 613.6h0M1475.7 630.6h0M1475.8 647.7h0M1475.9 663.0h0M1476.0 679.8h0M1476.1 696.2h0M1476.2 711.1h0M1476.3 728.8h0M1509.4 518.8h0M1509.7 508.6h0M1509.7 459.7h0M1509.7 451.3h0M1509.7 410.4h0M1509.7 403.7h0M1509.7 358.1h0M1509.7 336.4h0M1509.7 329.9h0M1509.7 283.3h0M1509.7 259.8h0M1509.7 251.0h0M1509.7 225.0h0M1509.7 180.1h0M1509.7 172.8h0M1509.7 142.4h0M1509.7 133.5h0M1509.8 100.0h0M1510.1 108.4h0M1510.2 160.1h0M1510.4 216.9h0M1510.5 265.5h0M1510.6 273.2h0M1510.6 280.7h0M1510.6 290.6h0M1510.7 323.8h0M1510.9 363.7h0M1511.0 384.7h0M1511.1 407.3h0M1511.2 428.5h0M1511.2 448.1h0M1511.3 471.1h0M1511.4 489.2h0M1511.5 506.5h0M1511.6 525.9h0M1511.7 543.7h0M1511.8 565.3h0M1511.9 582.3h0M1511.9 599.7h0M1512.0 614.6h0M1512.1 631.0h0M1512.2 649.3h0M1512.2 664.5h0M1512.3 679.9h0M1512.4 695.5h0M1512.5 711.5h0M1512.5 714.5h0M1544.6 501.0h0M1544.9 481.4h0M1544.9 473.1h0M1544.9 425.9h0M1544.9 383.9h0M1544.9 376.2h0M1544.9 342.9h0M1544.9 301.3h0M1544.9 268.8h0M1544.9 260.6h0M1544.9 230.6h0M1544.9 221.2h0M1544.9 163.9h0M1544.9 120.5h0M1544.9 113.7h0M1545.0 100.0h0M1545.3 108.3h0M1545.3 114.4h0M1545.5 166.5h0M1545.5 174.2h0M1545.6 180.4h0M1545.8 235.6h0M1545.9 242.3h0M1546.1 289.3h0M1546.3 315.6h0M1546.3 322.4h0M1546.5 359.0h0M1546.7 380.3h0M1546.8 399.9h0M1546.9 419.5h0M1547.1 441.7h0M1547.2 464.2h0M1547.4 482.0h0M1547.5 500.0h0M1547.6 519.7h0M1547.8 541.2h0M1547.9 563.5h0M1548.1 584.7h0M1548.2 602.2h0M1548.4 619.5h0M1548.5 634.7h0M1548.6 649.8h0M1548.7 666.2h0M1548.8 681.0h0M1549.0 700.0h0"/>
</g>
<line x1="225.5" x2="1620.5" y1="898" y2="898" stroke="#008000" stroke-width="4.2"/>
<line x1="225.5" x2="1620.5" y1="662.9" y2="662.9" stroke="#ffa500" stroke-width="2.1"/>
<line x1="225.5" x2="1620.5" y1="802.9" y2="802.9" stroke="#ffa500" stroke-width="2.1"/>
<line x1="288.1" x2="288.1" y1="144.5" y2="1068.5" stroke="#0000ff" stroke-width="4.2"/>
<line x1="1549" x2="1549" y1="144.5" y2="1068.5" stroke="#0000ff" stroke-width="4.2"/>
<g fill="#90ee90">
<circle cx="446.2" cy="690.0" r="4.2"/>
<circle cx="446.3" cy="696.0" r="4.2"/>
<circle cx="446.4" cy="707.0" r="4.2"/>
<circle cx="446.6" cy="725.0" r="4.2"/>
<circle cx="446.8" cy="745.0" r="4.2"/>
<circle cx="447.0" cy="764.0" r="4.2"/>
<circle cx="447.2" cy="783.0" r="4.2"/>
<circle cx="447.5" cy="802.5" r="4.2"/>
<circle cx="447.6" cy="817.5" r="4.2"/>
<circle cx="447.7" cy="828.0" r="4.2"/>
<circle cx="447.9" cy="837.5" r="4.2"/>
<circle cx="447.9" cy="845.0" r="4.2"/>
<circle cx="448.0" cy="853.8" r="4.2"/>
<circle cx="448.1" cy="861.3" r="4.2"/>
<circle cx="448.2" cy="868.8" r="4.2"/>
<circle cx="448.3" cy="878.8" r="4.2"/>
<circle cx="448.4" cy="887.5" r="4.2"/>
<circle cx="448.5" cy="896.3" r="4.2"/>
<circle cx="448.6" cy="905.0" r="4.2"/>
<circle cx="448.7" cy="912.5" r="4.2"/>
<circle cx="448.8" cy="925.0" r="4.2"/>
<circle cx="448.9" cy="934.5" r="4.2"/>
<circle cx="449.0" cy="943.3" r="4.2"/>
<circle cx="449.1" cy="951.3" r="4.2"/>
<circle cx="449.2" cy="958.8" r="4.2"/>
<circle cx="449.3" cy="967.5" r="4.2"/>
<circle cx="449.4" cy="975.0" r="4.2"/>
<circle cx="449.5" cy="981.3" r="4.2"/>
<circle cx="449.5" cy="987.5" r="4.2"/>
<circle cx="449.6" cy="993.3" r="4.2"/>
</g>
<g fill="none" stroke="#ffff00" stroke-width="15.3" stroke-linejoin="round" stroke-linecap="round">
<polyline points="288.6,851.8 288.8,862.4"/>
<polyline points="308.0,898.0 310.8,869.6 312.5,857.1 315.2,843.3 320.4,822.6 321.9,817.9 323.0,814.9 324.6,812.0 326.5,809.4 328.1,807.6 329.4,806.6 332.2,805.1 334.6,804.5"/>
<polyline points="353.9,897.9 357.7,860.3 360.3,838.7 363.9,817.3 365.8,808.4 367.5,801.2 369.3,794.9 371.0,790.4 373.3,785.2 376.0,780.2 378.4,776.9 381.7,773.3 383.7,772.1 386.8,771.1"/>
<polyline points="404.7,897.7 407.7,862.8 412.3,817.7 413.6,807.7 415.4,796.2 417.4,784.8 419.2,775.9 421.0,768.7 422.6,763.1 425.3,756.3 428.2,750.5 430.8,746.5 433.9,742.7 435.2,741.7 436.6,741.0 438.1,740.4 439.7,740.0"/>
<polyline points="457.4,897.8 461.4,847.7 466.0,799.0 468.5,779.2 470.8,765.1 473.0,752.9 474.9,744.1 476.9,736.9 479.8,729.3 482.5,723.4 485.4,718.5 487.4,716.0 489.0,714.2 490.3,713.2 491.7,712.4 493.2,711.8 494.8,711.5"/>
<polyline points="510.9,897.7 512.7,870.9 515.5,835.6 520.3,782.8 523.1,757.6 525.4,742.7 527.5,730.5 529.8,719.2 531.8,711.3 534.5,703.6 537.4,696.9 540.5,691.3 542.9,688.0 544.5,686.2 545.7,685.1 547.8,683.9 549.3,683.3 550.8,683.0"/>
<polyline points="566.5,865.6 571.4,790.3 574.7,753.1 576.1,739.6 577.5,728.8 581.5,704.1 583.4,694.5 585.3,686.5 587.6,679.5 590.3,672.7 592.8,667.7 595.4,663.6"/>
<polyline points="620.2,855.7 624.9,768.0 625.9,754.0 627.5,736.1 629.6,715.0 631.5,700.0 634.8,679.5 637.9,664.2"/>
<polyline points="675.5,813.7 678.8,742.4 680.0,724.7 681.4,707.5 683.2,689.9 684.9,676.6 686.8,664.2"/>
<polyline points="728.1,802.8 730.5,744.7"/>
<polyline points="731.4,722.3 732.2,705.7 733.0,693.6 734.2,678.8 735.8,663.7"/>
<polyline points="782.4,725.2 783.7,687.0"/>
<polyline points="783.9,681.1 784.9,664.3"/>
<polyline points="831.9,749.5 834.0,687.7"/>
<polyline points="834.5,669.5 834.7,663.7"/>
<polyline points="882.1,724.3 884.1,663.8"/>
<polyline points="931.5,696.7 932.6,664.2"/>
<polyline points="979.7,666.3 979.8,663.7"/>
</g>
<g fill="none" stroke="#ffff00" stroke-opacity="0.84" stroke-width="15.3" stroke-linejoin="round" stroke-linecap="round">
<polyline points="335.0,804.5 336.0,804.5 336.5,804.9 337.6,807.2 338.4,811.2 338.8,816.3 338.9,897.5"/>
<polyline points="387.5,771.0 388.5,771.0 389.0,771.4 390.1,773.7 390.9,777.7 391.3,782.8 391.5,898.0"/>
<polyline points="440.0,740.0 441.2,740.0 441.9,740.4 442.5,741.1 443.4,742.7 444.6,746.7 445.1,749.7 445.3,752.9 445.5,898.0"/>
<polyline points="495.0,711.5 496.1,711.5 496.7,711.9 497.6,713.0 498.2,714.2 499.2,718.2 499.8,724.4 500.0,897.5"/>
<polyline points="551.0,683.0 552.0,683.0 552.5,683.4 553.6,685.7 554.4,689.7 554.8,695.9 555.1,898.0"/>
<polyline points="608.5,664.2 609.0,668.2 609.1,672.5 609.4,897.0"/>
<polyline points="663.1,663.8 663.4,875.0"/>
<polyline points="716.9,663.8 717.1,854.0"/>
<polyline points="768.7,663.8 768.9,834.0"/>
<polyline points="820.4,663.8 820.6,818.8"/>
<polyline points="870.8,664.0 871.0,798.8"/>
<polyline points="920.0,664.3 920.1,778.8"/>
<polyline points="968.8,664.3 968.9,760.0"/>
<polyline points="1015.7,663.8 1015.8,742.5"/>
<polyline points="1062.1,663.5 1062.2,722.5"/>
<polyline points="1107.1,663.5 1107.1,705.0"/>
<polyline points="1152.1,663.5 1152.1,685.0"/>
<polyline points="1195.6,664.3 1195.6,667.0"/>
</g>
<g fill="none" stroke="#808000" stroke-opacity="0.55" stroke-width="2.8" stroke-dasharray="1.6 1.1">
<polyline points="338.6,813.1 338.8,819.5 338.9,897.5"/>
<polyline points="391.1,779.6 391.3,786.0 391.5,898.0"/>
<polyline points="445.0,748.6 445.3,755.0 445.5,898.0"/>
<polyline points="499.5,720.1 499.8,726.5 500.0,897.5"/>
<polyline points="554.6,691.6 554.8,698.0 555.1,898.0"/>
<polyline points="608.8,666.1 609.1,672.5 609.4,897.0"/>
<polyline points="663.1,663.8 663.4,875.0"/>
<polyline points="716.9,663.8 717.1,854.0"/>
<polyline points="768.7,663.8 768.9,834.0"/>
<polyline points="820.4,663.8 820.6,818.8"/>
<polyline points="870.8,664.0 871.0,798.8"/>
<polyline points="920.0,664.3 920.1,778.8"/>
<polyline points="968.8,664.3 968.9,760.0"/>
<polyline points="1015.7,663.8 1015.8,742.5"/>
<polyline points="1062.1,663.5 1062.2,722.5"/>
<polyline points="1107.1,663.5 1107.1,705.0"/>
<polyline points="1152.1,663.5 1152.1,685.0"/>
<polyline points="1195.6,664.3 1195.6,667.0"/>
</g>
<g class="yc" fill="#ffff00" fill-opacity="0.2" stroke="#ffff00" stroke-opacity="0.2" stroke-width="1.4">
<circle cx="288.6" cy="851.0" r="6.95"/>
<circle cx="288.9" cy="863.4" r="6.95"/>
<circle cx="288.9" cy="864.4" r="6.95"/>
<circle cx="288.9" cy="865.6" r="6.95"/>
<circle cx="288.9" cy="866.8" r="6.95"/>
<circle cx="289.0" cy="868.2" r="6.95"/>
<circle cx="289.0" cy="869.6" r="6.95"/>
<circle cx="289.0" cy="871.2" r="6.95"/>
<circle cx="289.1" cy="872.9" r="6.95"/>
<circle cx="289.1" cy="874.7" r="6.95"/>
<circle cx="289.2" cy="876.7" r="6.95"/>
<circle cx="289.2" cy="878.8" r="6.95"/>
<circle cx="289.2" cy="881.1" r="6.95"/>
<circle cx="289.3" cy="883.6" r="6.95"/>
<circle cx="289.4" cy="886.3" r="6.95"/>
<circle cx="289.4" cy="889.2" r="6.95"/>
<circle cx="289.5" cy="892.2" r="6.95"/>
<circle cx="289.6" cy="895.2" r="6.95"/>
<circle cx="289.6" cy="898.2" r="6.95"/>
<circle cx="335.0" cy="804.5" r="6.95"/>
<circle cx="387.5" cy="771.0" r="6.95"/>
<circle cx="440.0" cy="740.0" r="6.95"/>
<circle cx="495.0" cy="711.5" r="6.95"/>
<circle cx="551.0" cy="683.0" r="6.95"/>
<circle cx="564.7" cy="897.7" r="6.95"/>
<circle cx="564.7" cy="896.6" r="6.95"/>
<circle cx="564.8" cy="895.4" r="6.95"/>
<circle cx="564.9" cy="894.3" r="6.95"/>
<circle cx="564.9" cy="893.1" r="6.95"/>
<circle cx="565.0" cy="892.0" r="6.95"/>
<circle cx="565.0" cy="890.9" r="6.95"/>
<circle cx="565.1" cy="889.7" r="6.95"/>
<circle cx="565.2" cy="888.6" r="6.95"/>
<circle cx="565.2" cy="887.5" r="6.95"/>
<circle cx="565.3" cy="886.4" r="6.95"/>
<circle cx="565.3" cy="885.3" r="6.95"/>
<circle cx="565.4" cy="884.2" r="6.95"/>
<circle cx="565.5" cy="883.1" r="6.95"/>
<circle cx="565.5" cy="882.0" r="6.95"/>
<circle cx="565.6" cy="881.0" r="6.95"/>
<circle cx="565.6" cy="879.9" r="6.95"/>
<circle cx="565.7" cy="878.8" r="6.95"/>
<circle cx="565.8" cy="877.8" r="6.95"/>
<circle cx="565.8" cy="876.7" r="6.95"/>
<circle cx="565.9" cy="875.7" r="6.95"/>
<circle cx="565.9" cy="874.6" r="6.95"/>
<circle cx="566.0" cy="873.6" r="6.95"/>
<circle cx="566.1" cy="872.6" r="6.95"/>
<circle cx="566.1" cy="871.5" r="6.95"/>
<circle cx="566.2" cy="870.5" r="6.95"/>
<circle cx="566.2" cy="869.5" r="6.95"/>
<circle cx="566.3" cy="868.5" r="6.95"/>
<circle cx="566.4" cy="867.4" r="6.95"/>
<circle cx="566.4" cy="866.4" r="6.95"/>
<circle cx="618.2" cy="898.2" r="6.95"/>
<circle cx="618.2" cy="896.6" r="6.95"/>
<circle cx="618.3" cy="895.1" r="6.95"/>
<circle cx="618.4" cy="893.5" r="6.95"/>
<circle cx="618.4" cy="892.0" r="6.95"/>
<circle cx="618.5" cy="890.5" r="6.95"/>
<circle cx="618.6" cy="889.0" r="6.95"/>
<circle cx="618.6" cy="887.5" r="6.95"/>
<circle cx="618.7" cy="886.2" r="6.95"/>
<circle cx="618.8" cy="884.9" r="6.95"/>
<circle cx="618.8" cy="883.6" r="6.95"/>
<circle cx="618.9" cy="882.3" r="6.95"/>
<circle cx="618.9" cy="881.0" r="6.95"/>
<circle cx="619.0" cy="879.8" r="6.95"/>
<circle cx="619.1" cy="878.5" r="6.95"/>
<circle cx="619.1" cy="877.2" r="6.95"/>
<circle cx="619.2" cy="876.0" r="6.95"/>
<circle cx="619.2" cy="874.7" r="6.95"/>
<circle cx="619.3" cy="873.5" r="6.95"/>
<circle cx="619.4" cy="872.2" r="6.95"/>
<circle cx="619.4" cy="871.0" r="6.95"/>
<circle cx="619.5" cy="869.8" r="6.95"/>
<circle cx="619.5" cy="868.6" r="6.95"/>
<circle cx="619.6" cy="867.3" r="6.95"/>
<circle cx="619.7" cy="866.1" r="6.95"/>
<circle cx="619.7" cy="864.9" r="6.95"/>
<circle cx="619.8" cy="863.7" r="6.95"/>
<circle cx="619.8" cy="862.5" r="6.95"/>
<circle cx="619.9" cy="861.4" r="6.95"/>
<circle cx="620.0" cy="860.2" r="6.95"/>
<circle cx="620.0" cy="859.0" r="6.95"/>
<circle cx="620.1" cy="857.8" r="6.95"/>
<circle cx="620.1" cy="856.7" r="6.95"/>
<circle cx="671.7" cy="897.7" r="6.95"/>
<circle cx="671.8" cy="895.8" r="6.95"/>
<circle cx="671.9" cy="893.9" r="6.95"/>
<circle cx="672.0" cy="892.0" r="6.95"/>
<circle cx="672.0" cy="890.1" r="6.95"/>
<circle cx="672.1" cy="888.4" r="6.95"/>
<circle cx="672.2" cy="886.8" r="6.95"/>
<circle cx="672.2" cy="885.1" r="6.95"/>
<circle cx="672.3" cy="883.4" r="6.95"/>
<circle cx="672.4" cy="881.8" r="6.95"/>
<circle cx="672.5" cy="880.1" r="6.95"/>
<circle cx="672.5" cy="878.5" r="6.95"/>
<circle cx="672.6" cy="876.8" r="6.95"/>
<circle cx="672.7" cy="875.2" r="6.95"/>
<circle cx="672.7" cy="873.6" r="6.95"/>
<circle cx="672.8" cy="871.9" r="6.95"/>
<circle cx="672.9" cy="870.3" r="6.95"/>
<circle cx="672.9" cy="868.9" r="6.95"/>
<circle cx="673.0" cy="867.5" r="6.95"/>
<circle cx="673.1" cy="866.1" r="6.95"/>
<circle cx="673.1" cy="864.7" r="6.95"/>
<circle cx="673.2" cy="863.4" r="6.95"/>
<circle cx="673.2" cy="862.0" r="6.95"/>
<circle cx="673.3" cy="860.6" r="6.95"/>
<circle cx="673.4" cy="859.3" r="6.95"/>
<circle cx="673.4" cy="857.9" r="6.95"/>
<circle cx="673.5" cy="856.6" r="6.95"/>
<circle cx="673.5" cy="855.2" r="6.95"/>
<circle cx="673.6" cy="853.9" r="6.95"/>
<circle cx="673.7" cy="852.5" r="6.95"/>
<circle cx="673.7" cy="851.2" r="6.95"/>
<circle cx="673.8" cy="849.9" r="6.95"/>
<circle cx="673.8" cy="848.6" r="6.95"/>
<circle cx="673.9" cy="847.3" r="6.95"/>
<circle cx="674.0" cy="845.9" r="6.95"/>
<circle cx="674.0" cy="844.6" r="6.95"/>
<circle cx="674.1" cy="843.3" r="6.95"/>
<circle cx="674.1" cy="842.2" r="6.95"/>
<circle cx="674.2" cy="841.2" r="6.95"/>
<circle cx="674.2" cy="840.1" r="6.95"/>
<circle cx="674.3" cy="839.0" r="6.95"/>
<circle cx="674.3" cy="837.9" r="6.95"/>
<circle cx="674.4" cy="836.9" r="6.95"/>
<circle cx="674.4" cy="835.8" r="6.95"/>
<circle cx="674.5" cy="834.7" r="6.95"/>
<circle cx="674.5" cy="833.6" r="6.95"/>
<circle cx="674.6" cy="832.6" r="6.95"/>
<circle cx="674.6" cy="831.5" r="6.95"/>
<circle cx="674.7" cy="830.4" r="6.95"/>
<circle cx="674.7" cy="829.4" r="6.95"/>
<circle cx="674.8" cy="828.3" r="6.95"/>
<circle cx="674.8" cy="827.2" r="6.95"/>
<circle cx="674.9" cy="826.2" r="6.95"/>
<circle cx="674.9" cy="825.1" r="6.95"/>
<circle cx="675.0" cy="824.1" r="6.95"/>
<circle cx="675.0" cy="823.0" r="6.95"/>
<circle cx="675.1" cy="821.9" r="6.95"/>
<circle cx="675.1" cy="820.9" r="6.95"/>
<circle cx="675.2" cy="819.8" r="6.95"/>
<circle cx="675.2" cy="818.8" r="6.95"/>
<circle cx="675.3" cy="817.7" r="6.95"/>
<circle cx="675.3" cy="816.7" r="6.95"/>
<circle cx="675.4" cy="815.6" r="6.95"/>
<circle cx="675.4" cy="814.6" r="6.95"/>
<circle cx="724.2" cy="897.2" r="6.95"/>
<circle cx="724.3" cy="895.0" r="6.95"/>
<circle cx="724.4" cy="892.8" r="6.95"/>
<circle cx="724.5" cy="890.6" r="6.95"/>
<circle cx="724.6" cy="888.3" r="6.95"/>
<circle cx="724.6" cy="886.1" r="6.95"/>
<circle cx="724.7" cy="884.1" r="6.95"/>
<circle cx="724.8" cy="882.1" r="6.95"/>
<circle cx="724.9" cy="880.1" r="6.95"/>
<circle cx="725.0" cy="878.1" r="6.95"/>
<circle cx="725.0" cy="876.1" r="6.95"/>
<circle cx="725.1" cy="874.1" r="6.95"/>
<circle cx="725.2" cy="872.1" r="6.95"/>
<circle cx="725.3" cy="870.3" r="6.95"/>
<circle cx="725.3" cy="868.6" r="6.95"/>
<circle cx="725.4" cy="866.8" r="6.95"/>
<circle cx="725.5" cy="865.0" r="6.95"/>
<circle cx="725.6" cy="863.3" r="6.95"/>
<circle cx="725.6" cy="861.5" r="6.95"/>
<circle cx="725.7" cy="859.8" r="6.95"/>
<circle cx="725.8" cy="858.0" r="6.95"/>
<circle cx="725.8" cy="856.3" r="6.95"/>
<circle cx="725.9" cy="854.5" r="6.95"/>
<circle cx="726.0" cy="853.0" r="6.95"/>
<circle cx="726.0" cy="851.5" r="6.95"/>
<circle cx="726.1" cy="850.1" r="6.95"/>
<circle cx="726.1" cy="848.6" r="6.95"/>
<circle cx="726.2" cy="847.1" r="6.95"/>
<circle cx="726.3" cy="845.6" r="6.95"/>
<circle cx="726.3" cy="844.1" r="6.95"/>
<circle cx="726.4" cy="842.7" r="6.95"/>
<circle cx="726.4" cy="841.2" r="6.95"/>
<circle cx="726.5" cy="839.8" r="6.95"/>
<circle cx="726.6" cy="838.3" r="6.95"/>
<circle cx="726.6" cy="836.9" r="6.95"/>
<circle cx="726.7" cy="835.4" r="6.95"/>
<circle cx="726.7" cy="834.0" r="6.95"/>
<circle cx="726.8" cy="832.6" r="6.95"/>
<circle cx="726.9" cy="831.1" r="6.95"/>
<circle cx="726.9" cy="829.7" r="6.95"/>
<circle cx="727.0" cy="828.5" r="6.95"/>
<circle cx="727.0" cy="827.3" r="6.95"/>
<circle cx="727.1" cy="826.1" r="6.95"/>
<circle cx="727.1" cy="825.0" r="6.95"/>
<circle cx="727.2" cy="823.8" r="6.95"/>
<circle cx="727.2" cy="822.6" r="6.95"/>
<circle cx="727.3" cy="821.4" r="6.95"/>
<circle cx="727.3" cy="820.2" r="6.95"/>
<circle cx="727.4" cy="819.1" r="6.95"/>
<circle cx="727.4" cy="817.9" r="6.95"/>
<circle cx="727.5" cy="816.7" r="6.95"/>
<circle cx="727.5" cy="815.5" r="6.95"/>
<circle cx="727.6" cy="814.3" r="6.95"/>
<circle cx="727.6" cy="813.2" r="6.95"/>
<circle cx="727.7" cy="812.0" r="6.95"/>
<circle cx="727.7" cy="810.8" r="6.95"/>
<circle cx="727.8" cy="809.6" r="6.95"/>
<circle cx="727.8" cy="808.5" r="6.95"/>
<circle cx="727.9" cy="807.3" r="6.95"/>
<circle cx="727.9" cy="806.1" r="6.95"/>
<circle cx="728.0" cy="804.9" r="6.95"/>
<circle cx="728.0" cy="803.8" r="6.95"/>
<circle cx="730.6" cy="743.7" r="6.95"/>
<circle cx="730.6" cy="742.7" r="6.95"/>
<circle cx="730.7" cy="741.7" r="6.95"/>
<circle cx="730.7" cy="740.7" r="6.95"/>
<circle cx="730.7" cy="739.6" r="6.95"/>
<circle cx="730.8" cy="738.6" r="6.95"/>
<circle cx="730.8" cy="737.6" r="6.95"/>
<circle cx="730.9" cy="736.6" r="6.95"/>
<circle cx="730.9" cy="735.5" r="6.95"/>
<circle cx="730.9" cy="734.5" r="6.95"/>
<circle cx="731.0" cy="733.5" r="6.95"/>
<circle cx="731.0" cy="732.4" r="6.95"/>
<circle cx="731.1" cy="731.4" r="6.95"/>
<circle cx="731.1" cy="730.4" r="6.95"/>
<circle cx="731.1" cy="729.3" r="6.95"/>
<circle cx="731.2" cy="728.3" r="6.95"/>
<circle cx="731.2" cy="727.3" r="6.95"/>
<circle cx="731.3" cy="726.3" r="6.95"/>
<circle cx="731.3" cy="725.3" r="6.95"/>
<circle cx="731.3" cy="724.3" r="6.95"/>
<circle cx="731.4" cy="723.3" r="6.95"/>
<circle cx="776.0" cy="895.6" r="6.95"/>
<circle cx="776.1" cy="892.9" r="6.95"/>
<circle cx="776.2" cy="890.1" r="6.95"/>
<circle cx="776.3" cy="887.5" r="6.95"/>
<circle cx="776.4" cy="885.0" r="6.95"/>
<circle cx="776.5" cy="882.4" r="6.95"/>
<circle cx="776.6" cy="880.0" r="6.95"/>
<circle cx="776.7" cy="877.7" r="6.95"/>
<circle cx="776.8" cy="875.3" r="6.95"/>
<circle cx="776.8" cy="872.9" r="6.95"/>
<circle cx="776.9" cy="870.5" r="6.95"/>
<circle cx="777.0" cy="868.4" r="6.95"/>
<circle cx="777.1" cy="866.3" r="6.95"/>
<circle cx="777.2" cy="864.1" r="6.95"/>
<circle cx="777.2" cy="862.0" r="6.95"/>
<circle cx="777.3" cy="859.8" r="6.95"/>
<circle cx="777.4" cy="857.6" r="6.95"/>
<circle cx="777.5" cy="855.7" r="6.95"/>
<circle cx="777.5" cy="853.8" r="6.95"/>
<circle cx="777.6" cy="851.9" r="6.95"/>
<circle cx="777.7" cy="850.0" r="6.95"/>
<circle cx="777.8" cy="848.1" r="6.95"/>
<circle cx="777.8" cy="846.2" r="6.95"/>
<circle cx="777.9" cy="844.3" r="6.95"/>
<circle cx="778.0" cy="842.4" r="6.95"/>
<circle cx="778.0" cy="840.5" r="6.95"/>
<circle cx="778.1" cy="838.9" r="6.95"/>
<circle cx="778.2" cy="837.3" r="6.95"/>
<circle cx="778.2" cy="835.6" r="6.95"/>
<circle cx="778.3" cy="834.0" r="6.95"/>
<circle cx="778.3" cy="832.4" r="6.95"/>
<circle cx="778.4" cy="830.8" r="6.95"/>
<circle cx="778.5" cy="829.2" r="6.95"/>
<circle cx="778.5" cy="827.6" r="6.95"/>
<circle cx="778.6" cy="826.0" r="6.95"/>
<circle cx="778.6" cy="824.4" r="6.95"/>
<circle cx="778.7" cy="822.8" r="6.95"/>
<circle cx="778.8" cy="821.2" r="6.95"/>
<circle cx="778.8" cy="819.6" r="6.95"/>
<circle cx="778.9" cy="818.0" r="6.95"/>
<circle cx="778.9" cy="816.5" r="6.95"/>
<circle cx="779.0" cy="815.1" r="6.95"/>
<circle cx="779.0" cy="813.8" r="6.95"/>
<circle cx="779.1" cy="812.5" r="6.95"/>
<circle cx="779.1" cy="811.2" r="6.95"/>
<circle cx="779.2" cy="809.9" r="6.95"/>
<circle cx="779.2" cy="808.6" r="6.95"/>
<circle cx="779.3" cy="807.3" r="6.95"/>
<circle cx="779.3" cy="806.0" r="6.95"/>
<circle cx="779.4" cy="804.7" r="6.95"/>
<circle cx="779.4" cy="803.4" r="6.95"/>
<circle cx="779.5" cy="802.1" r="6.95"/>
<circle cx="779.5" cy="800.7" r="6.95"/>
<circle cx="779.6" cy="799.4" r="6.95"/>
<circle cx="779.6" cy="798.1" r="6.95"/>
<circle cx="779.7" cy="796.8" r="6.95"/>
<circle cx="779.7" cy="795.5" r="6.95"/>
<circle cx="779.8" cy="794.2" r="6.95"/>
<circle cx="779.8" cy="792.9" r="6.95"/>
<circle cx="779.9" cy="791.6" r="6.95"/>
<circle cx="779.9" cy="790.5" r="6.95"/>
<circle cx="780.0" cy="789.5" r="6.95"/>
<circle cx="780.0" cy="788.4" r="6.95"/>
<circle cx="780.0" cy="787.4" r="6.95"/>
<circle cx="780.1" cy="786.3" r="6.95"/>
<circle cx="780.1" cy="785.3" r="6.95"/>
<circle cx="780.2" cy="784.2" r="6.95"/>
<circle cx="780.2" cy="783.2" r="6.95"/>
<circle cx="780.2" cy="782.1" r="6.95"/>
<circle cx="780.3" cy="781.1" r="6.95"/>
<circle cx="780.3" cy="780.0" r="6.95"/>
<circle cx="780.4" cy="779.0" r="6.95"/>
<circle cx="780.4" cy="777.9" r="6.95"/>
<circle cx="780.4" cy="776.8" r="6.95"/>
<circle cx="780.5" cy="775.8" r="6.95"/>
<circle cx="780.5" cy="774.7" r="6.95"/>
<circle cx="780.6" cy="773.7" r="6.95"/>
<circle cx="780.6" cy="772.6" r="6.95"/>
<circle cx="780.6" cy="771.6" r="6.95"/>
<circle cx="780.7" cy="770.5" r="6.95"/>
<circle cx="780.7" cy="769.5" r="6.95"/>
<circle cx="780.8" cy="768.4" r="6.95"/>
<circle cx="780.8" cy="767.4" r="6.95"/>
<circle cx="780.8" cy="766.3" r="6.95"/>
<circle cx="780.9" cy="765.3" r="6.95"/>
<circle cx="780.9" cy="764.2" r="6.95"/>
<circle cx="781.0" cy="763.1" r="6.95"/>
<circle cx="781.0" cy="762.1" r="6.95"/>
<circle cx="781.0" cy="761.0" r="6.95"/>
<circle cx="781.1" cy="760.0" r="6.95"/>
<circle cx="781.1" cy="758.9" r="6.95"/>
<circle cx="781.2" cy="757.9" r="6.95"/>
<circle cx="781.2" cy="756.8" r="6.95"/>
<circle cx="781.2" cy="755.7" r="6.95"/>
<circle cx="781.3" cy="754.7" r="6.95"/>
<circle cx="781.3" cy="753.6" r="6.95"/>
<circle cx="781.4" cy="752.6" r="6.95"/>
<circle cx="781.4" cy="751.5" r="6.95"/>
<circle cx="781.4" cy="750.5" r="6.95"/>
<circle cx="781.5" cy="749.4" r="6.95"/>
<circle cx="781.5" cy="748.3" r="6.95"/>
<circle cx="781.6" cy="747.3" r="6.95"/>
<circle cx="781.6" cy="746.2" r="6.95"/>
<circle cx="781.6" cy="745.2" r="6.95"/>
<circle cx="781.7" cy="744.1" r="6.95"/>
<circle cx="781.7" cy="743.0" r="6.95"/>
<circle cx="781.8" cy="742.0" r="6.95"/>
<circle cx="781.8" cy="740.9" r="6.95"/>
<circle cx="781.8" cy="739.9" r="6.95"/>
<circle cx="781.9" cy="738.8" r="6.95"/>
<circle cx="781.9" cy="737.7" r="6.95"/>
<circle cx="782.0" cy="736.7" r="6.95"/>
<circle cx="782.0" cy="735.6" r="6.95"/>
<circle cx="782.0" cy="734.5" r="6.95"/>
<circle cx="782.1" cy="733.5" r="6.95"/>
<circle cx="782.1" cy="732.4" r="6.95"/>
<circle cx="782.2" cy="731.4" r="6.95"/>
<circle cx="782.2" cy="730.3" r="6.95"/>
<circle cx="782.2" cy="729.2" r="6.95"/>
<circle cx="782.3" cy="728.2" r="6.95"/>
<circle cx="782.3" cy="727.1" r="6.95"/>
<circle cx="782.4" cy="726.0" r="6.95"/>
<circle cx="783.8" cy="686.2" r="6.95"/>
<circle cx="783.8" cy="685.2" r="6.95"/>
<circle cx="783.8" cy="684.1" r="6.95"/>
<circle cx="783.9" cy="683.1" r="6.95"/>
<circle cx="783.9" cy="682.1" r="6.95"/>
<circle cx="826.7" cy="895.1" r="6.95"/>
<circle cx="826.8" cy="891.8" r="6.95"/>
<circle cx="826.9" cy="888.6" r="6.95"/>
<circle cx="827.1" cy="885.3" r="6.95"/>
<circle cx="827.2" cy="882.3" r="6.95"/>
<circle cx="827.3" cy="879.4" r="6.95"/>
<circle cx="827.4" cy="876.6" r="6.95"/>
<circle cx="827.5" cy="873.7" r="6.95"/>
<circle cx="827.6" cy="871.0" r="6.95"/>
<circle cx="827.7" cy="868.3" r="6.95"/>
<circle cx="827.8" cy="865.5" r="6.95"/>
<circle cx="827.9" cy="863.1" r="6.95"/>
<circle cx="828.0" cy="860.6" r="6.95"/>
<circle cx="828.1" cy="858.1" r="6.95"/>
<circle cx="828.2" cy="855.6" r="6.95"/>
<circle cx="828.3" cy="853.3" r="6.95"/>
<circle cx="828.3" cy="851.0" r="6.95"/>
<circle cx="828.4" cy="848.8" r="6.95"/>
<circle cx="828.5" cy="846.5" r="6.95"/>
<circle cx="828.6" cy="844.2" r="6.95"/>
<circle cx="828.7" cy="841.9" r="6.95"/>
<circle cx="828.7" cy="839.9" r="6.95"/>
<circle cx="828.8" cy="837.9" r="6.95"/>
<circle cx="828.9" cy="835.9" r="6.95"/>
<circle cx="828.9" cy="833.8" r="6.95"/>
<circle cx="829.0" cy="831.8" r="6.95"/>
<circle cx="829.1" cy="829.8" r="6.95"/>
<circle cx="829.1" cy="827.8" r="6.95"/>
<circle cx="829.2" cy="825.7" r="6.95"/>
<circle cx="829.3" cy="824.0" r="6.95"/>
<circle cx="829.3" cy="822.3" r="6.95"/>
<circle cx="829.4" cy="820.5" r="6.95"/>
<circle cx="829.5" cy="818.8" r="6.95"/>
<circle cx="829.5" cy="817.1" r="6.95"/>
<circle cx="829.6" cy="815.3" r="6.95"/>
<circle cx="829.6" cy="813.6" r="6.95"/>
<circle cx="829.7" cy="811.9" r="6.95"/>
<circle cx="829.8" cy="810.2" r="6.95"/>
<circle cx="829.8" cy="808.5" r="6.95"/>
<circle cx="829.9" cy="806.7" r="6.95"/>
<circle cx="829.9" cy="805.0" r="6.95"/>
<circle cx="830.0" cy="803.3" r="6.95"/>
<circle cx="830.0" cy="801.9" r="6.95"/>
<circle cx="830.1" cy="800.5" r="6.95"/>
<circle cx="830.1" cy="799.1" r="6.95"/>
<circle cx="830.2" cy="797.7" r="6.95"/>
<circle cx="830.2" cy="796.3" r="6.95"/>
<circle cx="830.3" cy="794.8" r="6.95"/>
<circle cx="830.4" cy="793.4" r="6.95"/>
<circle cx="830.4" cy="792.0" r="6.95"/>
<circle cx="830.5" cy="790.6" r="6.95"/>
<circle cx="830.5" cy="789.2" r="6.95"/>
<circle cx="830.5" cy="787.7" r="6.95"/>
<circle cx="830.6" cy="786.3" r="6.95"/>
<circle cx="830.6" cy="784.9" r="6.95"/>
<circle cx="830.7" cy="783.5" r="6.95"/>
<circle cx="830.8" cy="782.0" r="6.95"/>
<circle cx="830.8" cy="780.6" r="6.95"/>
<circle cx="830.9" cy="779.2" r="6.95"/>
<circle cx="830.9" cy="778.0" r="6.95"/>
<circle cx="830.9" cy="776.9" r="6.95"/>
<circle cx="831.0" cy="775.7" r="6.95"/>
<circle cx="831.0" cy="774.6" r="6.95"/>
<circle cx="831.0" cy="773.5" r="6.95"/>
<circle cx="831.1" cy="772.3" r="6.95"/>
<circle cx="831.1" cy="771.2" r="6.95"/>
<circle cx="831.2" cy="770.0" r="6.95"/>
<circle cx="831.2" cy="768.9" r="6.95"/>
<circle cx="831.2" cy="767.7" r="6.95"/>
<circle cx="831.3" cy="766.5" r="6.95"/>
<circle cx="831.3" cy="765.4" r="6.95"/>
<circle cx="831.4" cy="764.2" r="6.95"/>
<circle cx="831.4" cy="763.1" r="6.95"/>
<circle cx="831.5" cy="761.9" r="6.95"/>
<circle cx="831.5" cy="760.8" r="6.95"/>
<circle cx="831.5" cy="759.6" r="6.95"/>
<circle cx="831.6" cy="758.5" r="6.95"/>
<circle cx="831.6" cy="757.3" r="6.95"/>
<circle cx="831.6" cy="756.1" r="6.95"/>
<circle cx="831.7" cy="755.0" r="6.95"/>
<circle cx="831.7" cy="753.8" r="6.95"/>
<circle cx="831.8" cy="752.7" r="6.95"/>
<circle cx="831.8" cy="751.5" r="6.95"/>
<circle cx="831.9" cy="750.3" r="6.95"/>
<circle cx="834.0" cy="686.7" r="6.95"/>
<circle cx="834.0" cy="685.7" r="6.95"/>
<circle cx="834.0" cy="684.7" r="6.95"/>
<circle cx="834.1" cy="683.7" r="6.95"/>
<circle cx="834.1" cy="682.7" r="6.95"/>
<circle cx="834.1" cy="681.7" r="6.95"/>
<circle cx="834.2" cy="680.7" r="6.95"/>
<circle cx="834.2" cy="679.6" r="6.95"/>
<circle cx="834.2" cy="678.6" r="6.95"/>
<circle cx="834.2" cy="677.6" r="6.95"/>
<circle cx="834.3" cy="676.6" r="6.95"/>
<circle cx="834.3" cy="675.6" r="6.95"/>
<circle cx="834.3" cy="674.6" r="6.95"/>
<circle cx="834.4" cy="673.6" r="6.95"/>
<circle cx="834.4" cy="672.6" r="6.95"/>
<circle cx="834.4" cy="671.5" r="6.95"/>
<circle cx="834.5" cy="670.5" r="6.95"/>
<circle cx="876.5" cy="895.9" r="6.95"/>
<circle cx="876.7" cy="892.0" r="6.95"/>
<circle cx="876.9" cy="888.3" r="6.95"/>
<circle cx="877.0" cy="884.7" r="6.95"/>
<circle cx="877.2" cy="881.2" r="6.95"/>
<circle cx="877.3" cy="877.8" r="6.95"/>
<circle cx="877.4" cy="874.5" r="6.95"/>
<circle cx="877.5" cy="871.1" r="6.95"/>
<circle cx="877.6" cy="868.0" r="6.95"/>
<circle cx="877.8" cy="864.8" r="6.95"/>
<circle cx="877.9" cy="861.8" r="6.95"/>
<circle cx="878.0" cy="858.7" r="6.95"/>
<circle cx="878.0" cy="855.9" r="6.95"/>
<circle cx="878.1" cy="853.1" r="6.95"/>
<circle cx="878.2" cy="850.3" r="6.95"/>
<circle cx="878.3" cy="847.4" r="6.95"/>
<circle cx="878.4" cy="844.8" r="6.95"/>
<circle cx="878.5" cy="842.2" r="6.95"/>
<circle cx="878.6" cy="839.6" r="6.95"/>
<circle cx="878.6" cy="837.0" r="6.95"/>
<circle cx="878.7" cy="834.7" r="6.95"/>
<circle cx="878.8" cy="832.3" r="6.95"/>
<circle cx="878.9" cy="830.0" r="6.95"/>
<circle cx="878.9" cy="827.7" r="6.95"/>
<circle cx="879.0" cy="825.4" r="6.95"/>
<circle cx="879.1" cy="823.1" r="6.95"/>
<circle cx="879.1" cy="820.7" r="6.95"/>
<circle cx="879.2" cy="818.4" r="6.95"/>
<circle cx="879.3" cy="816.4" r="6.95"/>
<circle cx="879.3" cy="814.4" r="6.95"/>
<circle cx="879.4" cy="812.4" r="6.95"/>
<circle cx="879.4" cy="810.4" r="6.95"/>
<circle cx="879.5" cy="808.4" r="6.95"/>
<circle cx="879.6" cy="806.4" r="6.95"/>
<circle cx="879.6" cy="804.4" r="6.95"/>
<circle cx="879.7" cy="802.4" r="6.95"/>
<circle cx="879.7" cy="800.3" r="6.95"/>
<circle cx="879.8" cy="798.6" r="6.95"/>
<circle cx="879.8" cy="796.9" r="6.95"/>
<circle cx="879.9" cy="795.2" r="6.95"/>
<circle cx="879.9" cy="793.5" r="6.95"/>
<circle cx="880.0" cy="791.8" r="6.95"/>
<circle cx="880.0" cy="790.0" r="6.95"/>
<circle cx="880.1" cy="788.3" r="6.95"/>
<circle cx="880.1" cy="786.6" r="6.95"/>
<circle cx="880.2" cy="784.9" r="6.95"/>
<circle cx="880.2" cy="783.2" r="6.95"/>
<circle cx="880.3" cy="781.5" r="6.95"/>
<circle cx="880.3" cy="779.8" r="6.95"/>
<circle cx="880.4" cy="778.1" r="6.95"/>
<circle cx="880.4" cy="776.4" r="6.95"/>
<circle cx="880.5" cy="774.8" r="6.95"/>
<circle cx="880.5" cy="773.1" r="6.95"/>
<circle cx="880.6" cy="771.7" r="6.95"/>
<circle cx="880.6" cy="770.4" r="6.95"/>
<circle cx="880.7" cy="769.1" r="6.95"/>
<circle cx="880.7" cy="767.7" r="6.95"/>
<circle cx="880.7" cy="766.4" r="6.95"/>
<circle cx="880.8" cy="765.1" r="6.95"/>
<circle cx="880.8" cy="763.7" r="6.95"/>
<circle cx="880.9" cy="762.4" r="6.95"/>
<circle cx="880.9" cy="761.1" r="6.95"/>
<circle cx="880.9" cy="759.8" r="6.95"/>
<circle cx="881.0" cy="758.5" r="6.95"/>
<circle cx="881.0" cy="757.2" r="6.95"/>
<circle cx="881.1" cy="755.9" r="6.95"/>
<circle cx="881.1" cy="754.6" r="6.95"/>
<circle cx="881.1" cy="753.3" r="6.95"/>
<circle cx="881.2" cy="752.0" r="6.95"/>
<circle cx="881.2" cy="750.7" r="6.95"/>
<circle cx="881.3" cy="749.5" r="6.95"/>
<circle cx="881.3" cy="748.2" r="6.95"/>
<circle cx="881.3" cy="747.0" r="6.95"/>
<circle cx="881.4" cy="745.7" r="6.95"/>
<circle cx="881.4" cy="744.5" r="6.95"/>
<circle cx="881.5" cy="743.2" r="6.95"/>
<circle cx="881.5" cy="742.0" r="6.95"/>
<circle cx="881.5" cy="740.8" r="6.95"/>
<circle cx="881.6" cy="739.6" r="6.95"/>
<circle cx="881.6" cy="738.4" r="6.95"/>
<circle cx="881.7" cy="737.2" r="6.95"/>
<circle cx="881.7" cy="736.0" r="6.95"/>
<circle cx="881.7" cy="734.8" r="6.95"/>
<circle cx="881.8" cy="733.6" r="6.95"/>
<circle cx="881.8" cy="732.4" r="6.95"/>
<circle cx="881.9" cy="731.2" r="6.95"/>
<circle cx="881.9" cy="730.0" r="6.95"/>
<circle cx="881.9" cy="728.8" r="6.95"/>
<circle cx="882.0" cy="727.6" r="6.95"/>
<circle cx="882.0" cy="726.4" r="6.95"/>
<circle cx="882.1" cy="725.2" r="6.95"/>
<circle cx="925.5" cy="895.9" r="6.95"/>
<circle cx="925.7" cy="891.4" r="6.95"/>
<circle cx="925.9" cy="887.0" r="6.95"/>
<circle cx="926.1" cy="882.9" r="6.95"/>
<circle cx="926.3" cy="878.8" r="6.95"/>
<circle cx="926.4" cy="874.9" r="6.95"/>
<circle cx="926.6" cy="871.1" r="6.95"/>
<circle cx="926.7" cy="867.4" r="6.95"/>
<circle cx="926.8" cy="863.7" r="6.95"/>
<circle cx="927.0" cy="860.1" r="6.95"/>
<circle cx="927.1" cy="856.6" r="6.95"/>
<circle cx="927.2" cy="853.4" r="6.95"/>
<circle cx="927.3" cy="850.1" r="6.95"/>
<circle cx="927.4" cy="847.1" r="6.95"/>
<circle cx="927.5" cy="844.0" r="6.95"/>
<circle cx="927.5" cy="840.8" r="6.95"/>
<circle cx="927.6" cy="838.0" r="6.95"/>
<circle cx="927.7" cy="835.1" r="6.95"/>
<circle cx="927.8" cy="832.2" r="6.95"/>
<circle cx="927.9" cy="829.3" r="6.95"/>
<circle cx="927.9" cy="826.7" r="6.95"/>
<circle cx="928.0" cy="824.2" r="6.95"/>
<circle cx="928.1" cy="821.5" r="6.95"/>
<circle cx="928.1" cy="818.9" r="6.95"/>
<circle cx="928.2" cy="816.3" r="6.95"/>
<circle cx="928.3" cy="813.7" r="6.95"/>
<circle cx="928.4" cy="811.1" r="6.95"/>
<circle cx="928.4" cy="808.8" r="6.95"/>
<circle cx="928.5" cy="806.6" r="6.95"/>
<circle cx="928.5" cy="804.3" r="6.95"/>
<circle cx="928.6" cy="802.1" r="6.95"/>
<circle cx="928.7" cy="799.9" r="6.95"/>
<circle cx="928.7" cy="797.6" r="6.95"/>
<circle cx="928.8" cy="795.4" r="6.95"/>
<circle cx="928.8" cy="793.2" r="6.95"/>
<circle cx="928.9" cy="791.0" r="6.95"/>
<circle cx="928.9" cy="789.1" r="6.95"/>
<circle cx="929.0" cy="787.2" r="6.95"/>
<circle cx="929.0" cy="785.2" r="6.95"/>
<circle cx="929.1" cy="783.3" r="6.95"/>
<circle cx="929.1" cy="781.4" r="6.95"/>
<circle cx="929.2" cy="779.4" r="6.95"/>
<circle cx="929.2" cy="777.4" r="6.95"/>
<circle cx="929.3" cy="775.5" r="6.95"/>
<circle cx="929.3" cy="773.5" r="6.95"/>
<circle cx="929.4" cy="771.5" r="6.95"/>
<circle cx="929.4" cy="769.5" r="6.95"/>
<circle cx="929.5" cy="767.6" r="6.95"/>
<circle cx="929.5" cy="766.0" r="6.95"/>
<circle cx="929.6" cy="764.4" r="6.95"/>
<circle cx="929.6" cy="762.8" r="6.95"/>
<circle cx="929.7" cy="761.2" r="6.95"/>
<circle cx="929.7" cy="759.7" r="6.95"/>
<circle cx="929.7" cy="758.1" r="6.95"/>
<circle cx="929.8" cy="756.5" r="6.95"/>
<circle cx="929.8" cy="755.0" r="6.95"/>
<circle cx="929.9" cy="753.4" r="6.95"/>
<circle cx="929.9" cy="751.9" r="6.95"/>
<circle cx="929.9" cy="750.3" r="6.95"/>
<circle cx="930.0" cy="748.8" r="6.95"/>
<circle cx="930.0" cy="747.2" r="6.95"/>
<circle cx="930.1" cy="745.7" r="6.95"/>
<circle cx="930.1" cy="744.2" r="6.95"/>
<circle cx="930.1" cy="742.6" r="6.95"/>
<circle cx="930.2" cy="741.1" r="6.95"/>
<circle cx="930.2" cy="739.6" r="6.95"/>
<circle cx="930.3" cy="738.1" r="6.95"/>
<circle cx="930.3" cy="736.6" r="6.95"/>
<circle cx="930.3" cy="735.2" r="6.95"/>
<circle cx="930.4" cy="733.7" r="6.95"/>
<circle cx="930.4" cy="732.2" r="6.95"/>
<circle cx="930.5" cy="730.8" r="6.95"/>
<circle cx="930.5" cy="729.4" r="6.95"/>
<circle cx="930.5" cy="727.9" r="6.95"/>
<circle cx="930.6" cy="726.5" r="6.95"/>
<circle cx="930.6" cy="725.1" r="6.95"/>
<circle cx="930.7" cy="723.8" r="6.95"/>
<circle cx="930.7" cy="722.4" r="6.95"/>
<circle cx="930.7" cy="721.1" r="6.95"/>
<circle cx="930.8" cy="719.7" r="6.95"/>
<circle cx="930.8" cy="718.4" r="6.95"/>
<circle cx="930.9" cy="717.1" r="6.95"/>
<circle cx="930.9" cy="715.8" r="6.95"/>
<circle cx="930.9" cy="714.6" r="6.95"/>
<circle cx="931.0" cy="713.3" r="6.95"/>
<circle cx="931.0" cy="712.1" r="6.95"/>
<circle cx="931.1" cy="710.9" r="6.95"/>
<circle cx="931.1" cy="709.6" r="6.95"/>
<circle cx="931.1" cy="708.4" r="6.95"/>
<circle cx="931.2" cy="707.2" r="6.95"/>
<circle cx="931.2" cy="706.0" r="6.95"/>
<circle cx="931.3" cy="704.8" r="6.95"/>
<circle cx="931.3" cy="703.6" r="6.95"/>
<circle cx="931.3" cy="702.4" r="6.95"/>
<circle cx="931.4" cy="701.2" r="6.95"/>
<circle cx="931.4" cy="700.0" r="6.95"/>
<circle cx="931.5" cy="698.8" r="6.95"/>
<circle cx="931.5" cy="697.6" r="6.95"/>
<circle cx="973.3" cy="891.3" r="6.95"/>
<circle cx="973.5" cy="886.4" r="6.95"/>
<circle cx="973.8" cy="881.6" r="6.95"/>
<circle cx="974.0" cy="876.8" r="6.95"/>
<circle cx="974.2" cy="872.4" r="6.95"/>
<circle cx="974.4" cy="867.9" r="6.95"/>
<circle cx="974.6" cy="863.6" r="6.95"/>
<circle cx="974.7" cy="859.6" r="6.95"/>
<circle cx="974.9" cy="855.5" r="6.95"/>
<circle cx="975.0" cy="851.7" r="6.95"/>
<circle cx="975.1" cy="847.9" r="6.95"/>
<circle cx="975.2" cy="844.2" r="6.95"/>
<circle cx="975.3" cy="840.7" r="6.95"/>
<circle cx="975.4" cy="837.1" r="6.95"/>
<circle cx="975.5" cy="833.8" r="6.95"/>
<circle cx="975.6" cy="830.4" r="6.95"/>
<circle cx="975.7" cy="827.3" r="6.95"/>
<circle cx="975.8" cy="824.1" r="6.95"/>
<circle cx="975.9" cy="820.9" r="6.95"/>
<circle cx="975.9" cy="817.7" r="6.95"/>
<circle cx="976.0" cy="814.8" r="6.95"/>
<circle cx="976.1" cy="811.9" r="6.95"/>
<circle cx="976.2" cy="809.0" r="6.95"/>
<circle cx="976.2" cy="806.0" r="6.95"/>
<circle cx="976.3" cy="803.1" r="6.95"/>
<circle cx="976.4" cy="800.5" r="6.95"/>
<circle cx="976.4" cy="798.0" r="6.95"/>
<circle cx="976.5" cy="795.4" r="6.95"/>
<circle cx="976.5" cy="792.9" r="6.95"/>
<circle cx="976.6" cy="790.3" r="6.95"/>
<circle cx="976.7" cy="787.8" r="6.95"/>
<circle cx="976.7" cy="785.3" r="6.95"/>
<circle cx="976.8" cy="782.8" r="6.95"/>
<circle cx="976.8" cy="780.3" r="6.95"/>
<circle cx="976.9" cy="777.8" r="6.95"/>
<circle cx="977.0" cy="775.3" r="6.95"/>
<circle cx="977.0" cy="773.2" r="6.95"/>
<circle cx="977.1" cy="771.1" r="6.95"/>
<circle cx="977.1" cy="769.0" r="6.95"/>
<circle cx="977.2" cy="766.8" r="6.95"/>
<circle cx="977.2" cy="764.7" r="6.95"/>
<circle cx="977.3" cy="762.5" r="6.95"/>
<circle cx="977.3" cy="760.3" r="6.95"/>
<circle cx="977.4" cy="758.0" r="6.95"/>
<circle cx="977.4" cy="756.2" r="6.95"/>
<circle cx="977.4" cy="754.4" r="6.95"/>
<circle cx="977.5" cy="752.6" r="6.95"/>
<circle cx="977.5" cy="750.8" r="6.95"/>
<circle cx="977.6" cy="749.0" r="6.95"/>
<circle cx="977.6" cy="747.2" r="6.95"/>
<circle cx="977.6" cy="745.3" r="6.95"/>
<circle cx="977.7" cy="743.5" r="6.95"/>
<circle cx="977.7" cy="741.7" r="6.95"/>
<circle cx="977.8" cy="739.9" r="6.95"/>
<circle cx="977.8" cy="738.1" r="6.95"/>
<circle cx="977.8" cy="736.2" r="6.95"/>
<circle cx="977.9" cy="734.4" r="6.95"/>
<circle cx="977.9" cy="732.6" r="6.95"/>
<circle cx="978.0" cy="730.8" r="6.95"/>
<circle cx="978.0" cy="729.0" r="6.95"/>
<circle cx="978.0" cy="727.2" r="6.95"/>
<circle cx="978.1" cy="725.4" r="6.95"/>
<circle cx="978.1" cy="723.7" r="6.95"/>
<circle cx="978.2" cy="721.9" r="6.95"/>
<circle cx="978.2" cy="720.1" r="6.95"/>
<circle cx="978.2" cy="718.4" r="6.95"/>
<circle cx="978.3" cy="716.7" r="6.95"/>
<circle cx="978.3" cy="715.4" r="6.95"/>
<circle cx="978.3" cy="714.1" r="6.95"/>
<circle cx="978.4" cy="712.8" r="6.95"/>
<circle cx="978.4" cy="711.5" r="6.95"/>
<circle cx="978.4" cy="710.3" r="6.95"/>
<circle cx="978.5" cy="709.0" r="6.95"/>
<circle cx="978.5" cy="707.8" r="6.95"/>
<circle cx="978.5" cy="706.5" r="6.95"/>
<circle cx="978.5" cy="705.3" r="6.95"/>
<circle cx="978.6" cy="704.1" r="6.95"/>
<circle cx="978.6" cy="702.9" r="6.95"/>
<circle cx="978.6" cy="701.7" r="6.95"/>
<circle cx="978.7" cy="700.5" r="6.95"/>
<circle cx="978.7" cy="699.4" r="6.95"/>
<circle cx="978.7" cy="698.2" r="6.95"/>
<circle cx="978.8" cy="697.1" r="6.95"/>
<circle cx="978.8" cy="696.0" r="6.95"/>
<circle cx="978.8" cy="694.9" r="6.95"/>
<circle cx="978.8" cy="693.8" r="6.95"/>
<circle cx="978.9" cy="692.3" r="6.95"/>
<circle cx="978.9" cy="690.9" r="6.95"/>
<circle cx="979.0" cy="689.5" r="6.95"/>
<circle cx="979.0" cy="688.2" r="6.95"/>
<circle cx="979.0" cy="686.9" r="6.95"/>
<circle cx="979.1" cy="685.6" r="6.95"/>
<circle cx="979.1" cy="684.3" r="6.95"/>
<circle cx="979.2" cy="683.0" r="6.95"/>
<circle cx="979.2" cy="681.8" r="6.95"/>
<circle cx="979.2" cy="680.5" r="6.95"/>
<circle cx="979.3" cy="679.3" r="6.95"/>
<circle cx="979.3" cy="678.0" r="6.95"/>
<circle cx="979.4" cy="676.8" r="6.95"/>
<circle cx="979.4" cy="675.6" r="6.95"/>
<circle cx="979.4" cy="674.4" r="6.95"/>
<circle cx="979.5" cy="673.2" r="6.95"/>
<circle cx="979.5" cy="672.0" r="6.95"/>
<circle cx="979.6" cy="670.8" r="6.95"/>
<circle cx="979.6" cy="669.6" r="6.95"/>
<circle cx="979.6" cy="668.4" r="6.95"/>
<circle cx="979.7" cy="667.2" r="6.95"/>
<circle cx="1020.5" cy="879.3" r="6.95"/>
<circle cx="1020.8" cy="874.0" r="6.95"/>
<circle cx="1021.0" cy="869.0" r="6.95"/>
<circle cx="1021.2" cy="864.1" r="6.95"/>
<circle cx="1021.5" cy="859.5" r="6.95"/>
<circle cx="1021.7" cy="855.1" r="6.95"/>
<circle cx="1021.8" cy="850.7" r="6.95"/>
<circle cx="1022.0" cy="846.6" r="6.95"/>
<circle cx="1022.1" cy="842.3" r="6.95"/>
<circle cx="1022.3" cy="838.2" r="6.95"/>
<circle cx="1022.4" cy="834.2" r="6.95"/>
<circle cx="1022.5" cy="830.2" r="6.95"/>
<circle cx="1022.6" cy="826.4" r="6.95"/>
<circle cx="1022.7" cy="822.9" r="6.95"/>
<circle cx="1022.8" cy="819.3" r="6.95"/>
<circle cx="1022.9" cy="816.0" r="6.95"/>
<circle cx="1023.0" cy="812.6" r="6.95"/>
<circle cx="1023.0" cy="809.2" r="6.95"/>
<circle cx="1023.1" cy="805.7" r="6.95"/>
<circle cx="1023.2" cy="802.5" r="6.95"/>
<circle cx="1023.2" cy="799.4" r="6.95"/>
<circle cx="1023.3" cy="796.2" r="6.95"/>
<circle cx="1023.4" cy="793.0" r="6.95"/>
<circle cx="1023.5" cy="790.3" r="6.95"/>
<circle cx="1023.5" cy="787.5" r="6.95"/>
<circle cx="1023.6" cy="784.8" r="6.95"/>
<circle cx="1023.6" cy="782.0" r="6.95"/>
<circle cx="1023.7" cy="779.2" r="6.95"/>
<circle cx="1023.8" cy="776.4" r="6.95"/>
<circle cx="1023.8" cy="773.7" r="6.95"/>
<circle cx="1023.9" cy="770.9" r="6.95"/>
<circle cx="1023.9" cy="768.2" r="6.95"/>
<circle cx="1024.0" cy="765.9" r="6.95"/>
<circle cx="1024.0" cy="763.6" r="6.95"/>
<circle cx="1024.1" cy="761.3" r="6.95"/>
<circle cx="1024.1" cy="759.1" r="6.95"/>
<circle cx="1024.2" cy="756.9" r="6.95"/>
<circle cx="1024.2" cy="754.7" r="6.95"/>
<circle cx="1024.3" cy="752.4" r="6.95"/>
<circle cx="1024.3" cy="750.1" r="6.95"/>
<circle cx="1024.4" cy="747.7" r="6.95"/>
<circle cx="1024.4" cy="745.4" r="6.95"/>
<circle cx="1024.5" cy="743.0" r="6.95"/>
<circle cx="1024.5" cy="741.0" r="6.95"/>
<circle cx="1024.6" cy="739.1" r="6.95"/>
<circle cx="1024.6" cy="737.1" r="6.95"/>
<circle cx="1024.6" cy="735.2" r="6.95"/>
<circle cx="1024.7" cy="733.2" r="6.95"/>
<circle cx="1024.7" cy="731.2" r="6.95"/>
<circle cx="1024.8" cy="729.2" r="6.95"/>
<circle cx="1024.8" cy="727.2" r="6.95"/>
<circle cx="1024.8" cy="725.1" r="6.95"/>
<circle cx="1024.9" cy="723.1" r="6.95"/>
<circle cx="1024.9" cy="721.1" r="6.95"/>
<circle cx="1025.0" cy="719.1" r="6.95"/>
<circle cx="1025.0" cy="717.1" r="6.95"/>
<circle cx="1025.0" cy="715.0" r="6.95"/>
<circle cx="1025.1" cy="713.0" r="6.95"/>
<circle cx="1025.1" cy="711.0" r="6.95"/>
<circle cx="1025.2" cy="709.5" r="6.95"/>
<circle cx="1025.2" cy="708.0" r="6.95"/>
<circle cx="1025.2" cy="706.5" r="6.95"/>
<circle cx="1025.2" cy="705.0" r="6.95"/>
<circle cx="1025.3" cy="703.5" r="6.95"/>
<circle cx="1025.3" cy="702.0" r="6.95"/>
<circle cx="1025.3" cy="700.6" r="6.95"/>
<circle cx="1025.4" cy="699.1" r="6.95"/>
<circle cx="1025.4" cy="697.6" r="6.95"/>
<circle cx="1025.4" cy="696.2" r="6.95"/>
<circle cx="1025.5" cy="694.7" r="6.95"/>
<circle cx="1025.5" cy="693.3" r="6.95"/>
<circle cx="1025.5" cy="691.9" r="6.95"/>
<circle cx="1025.5" cy="690.5" r="6.95"/>
<circle cx="1025.6" cy="689.1" r="6.95"/>
<circle cx="1025.6" cy="687.7" r="6.95"/>
<circle cx="1025.6" cy="686.3" r="6.95"/>
<circle cx="1025.7" cy="684.9" r="6.95"/>
<circle cx="1025.7" cy="683.5" r="6.95"/>
<circle cx="1025.7" cy="682.2" r="6.95"/>
<circle cx="1025.8" cy="680.8" r="6.95"/>
<circle cx="1025.8" cy="679.5" r="6.95"/>
<circle cx="1025.8" cy="678.2" r="6.95"/>
<circle cx="1025.8" cy="676.9" r="6.95"/>
<circle cx="1025.9" cy="675.6" r="6.95"/>
<circle cx="1025.9" cy="674.4" r="6.95"/>
<circle cx="1025.9" cy="673.1" r="6.95"/>
<circle cx="1026.0" cy="671.9" r="6.95"/>
<circle cx="1026.0" cy="670.7" r="6.95"/>
<circle cx="1026.0" cy="669.5" r="6.95"/>
<circle cx="1026.0" cy="668.3" r="6.95"/>
<circle cx="1026.1" cy="667.2" r="6.95"/>
<circle cx="1026.1" cy="666.0" r="6.95"/>
<circle cx="1026.1" cy="664.9" r="6.95"/>
<circle cx="1026.2" cy="663.8" r="6.95"/>
<circle cx="1067.0" cy="865.8" r="6.95"/>
<circle cx="1067.2" cy="860.5" r="6.95"/>
<circle cx="1067.5" cy="855.2" r="6.95"/>
<circle cx="1067.7" cy="850.1" r="6.95"/>
<circle cx="1068.0" cy="845.2" r="6.95"/>
<circle cx="1068.1" cy="840.6" r="6.95"/>
<circle cx="1068.3" cy="836.1" r="6.95"/>
<circle cx="1068.5" cy="831.7" r="6.95"/>
<circle cx="1068.6" cy="827.5" r="6.95"/>
<circle cx="1068.7" cy="823.1" r="6.95"/>
<circle cx="1068.8" cy="818.8" r="6.95"/>
<circle cx="1068.9" cy="814.6" r="6.95"/>
<circle cx="1069.0" cy="810.6" r="6.95"/>
<circle cx="1069.1" cy="806.9" r="6.95"/>
<circle cx="1069.2" cy="803.2" r="6.95"/>
<circle cx="1069.2" cy="799.3" r="6.95"/>
<circle cx="1069.3" cy="795.8" r="6.95"/>
<circle cx="1069.4" cy="792.3" r="6.95"/>
<circle cx="1069.5" cy="788.7" r="6.95"/>
<circle cx="1069.5" cy="785.6" r="6.95"/>
<circle cx="1069.6" cy="782.4" r="6.95"/>
<circle cx="1069.6" cy="779.2" r="6.95"/>
<circle cx="1069.7" cy="776.0" r="6.95"/>
<circle cx="1069.8" cy="772.8" r="6.95"/>
<circle cx="1069.8" cy="769.6" r="6.95"/>
<circle cx="1069.9" cy="766.3" r="6.95"/>
<circle cx="1069.9" cy="763.6" r="6.95"/>
<circle cx="1070.0" cy="760.9" r="6.95"/>
<circle cx="1070.0" cy="758.2" r="6.95"/>
<circle cx="1070.1" cy="755.5" r="6.95"/>
<circle cx="1070.1" cy="752.8" r="6.95"/>
<circle cx="1070.2" cy="750.2" r="6.95"/>
<circle cx="1070.2" cy="747.5" r="6.95"/>
<circle cx="1070.3" cy="744.9" r="6.95"/>
<circle cx="1070.3" cy="742.2" r="6.95"/>
<circle cx="1070.4" cy="739.6" r="6.95"/>
<circle cx="1070.4" cy="737.0" r="6.95"/>
<circle cx="1070.5" cy="734.5" r="6.95"/>
<circle cx="1070.5" cy="731.8" r="6.95"/>
<circle cx="1070.6" cy="729.7" r="6.95"/>
<circle cx="1070.6" cy="727.5" r="6.95"/>
<circle cx="1070.7" cy="725.3" r="6.95"/>
<circle cx="1070.7" cy="723.1" r="6.95"/>
<circle cx="1070.7" cy="720.8" r="6.95"/>
<circle cx="1070.8" cy="718.6" r="6.95"/>
<circle cx="1070.8" cy="716.2" r="6.95"/>
<circle cx="1070.8" cy="713.9" r="6.95"/>
<circle cx="1070.9" cy="711.6" r="6.95"/>
<circle cx="1070.9" cy="709.2" r="6.95"/>
<circle cx="1071.0" cy="706.9" r="6.95"/>
<circle cx="1071.0" cy="705.1" r="6.95"/>
<circle cx="1071.0" cy="703.3" r="6.95"/>
<circle cx="1071.1" cy="701.5" r="6.95"/>
<circle cx="1071.1" cy="699.7" r="6.95"/>
<circle cx="1071.1" cy="697.9" r="6.95"/>
<circle cx="1071.2" cy="696.1" r="6.95"/>
<circle cx="1071.2" cy="694.3" r="6.95"/>
<circle cx="1071.2" cy="692.5" r="6.95"/>
<circle cx="1071.2" cy="690.7" r="6.95"/>
<circle cx="1071.3" cy="688.9" r="6.95"/>
<circle cx="1071.3" cy="687.2" r="6.95"/>
<circle cx="1071.3" cy="685.4" r="6.95"/>
<circle cx="1071.4" cy="683.6" r="6.95"/>
<circle cx="1071.4" cy="681.8" r="6.95"/>
<circle cx="1071.4" cy="680.1" r="6.95"/>
<circle cx="1071.5" cy="678.3" r="6.95"/>
<circle cx="1071.5" cy="676.5" r="6.95"/>
<circle cx="1071.5" cy="674.8" r="6.95"/>
<circle cx="1071.5" cy="673.1" r="6.95"/>
<circle cx="1071.6" cy="671.3" r="6.95"/>
<circle cx="1071.6" cy="669.6" r="6.95"/>
<circle cx="1071.6" cy="667.9" r="6.95"/>
<circle cx="1071.7" cy="666.2" r="6.95"/>
<circle cx="1071.7" cy="664.6" r="6.95"/>
<circle cx="1112.0" cy="853.0" r="6.95"/>
<circle cx="1112.3" cy="846.9" r="6.95"/>
<circle cx="1112.6" cy="841.2" r="6.95"/>
<circle cx="1112.8" cy="835.7" r="6.95"/>
<circle cx="1113.0" cy="830.5" r="6.95"/>
<circle cx="1113.2" cy="825.4" r="6.95"/>
<circle cx="1113.4" cy="820.6" r="6.95"/>
<circle cx="1113.6" cy="815.7" r="6.95"/>
<circle cx="1113.7" cy="811.2" r="6.95"/>
<circle cx="1113.8" cy="806.7" r="6.95"/>
<circle cx="1113.9" cy="802.3" r="6.95"/>
<circle cx="1114.0" cy="798.1" r="6.95"/>
<circle cx="1114.1" cy="793.7" r="6.95"/>
<circle cx="1114.2" cy="789.6" r="6.95"/>
<circle cx="1114.2" cy="785.5" r="6.95"/>
<circle cx="1114.3" cy="781.7" r="6.95"/>
<circle cx="1114.4" cy="777.9" r="6.95"/>
<circle cx="1114.5" cy="774.0" r="6.95"/>
<circle cx="1114.5" cy="770.6" r="6.95"/>
<circle cx="1114.6" cy="767.2" r="6.95"/>
<circle cx="1114.6" cy="763.7" r="6.95"/>
<circle cx="1114.7" cy="760.3" r="6.95"/>
<circle cx="1114.8" cy="756.8" r="6.95"/>
<circle cx="1114.8" cy="753.9" r="6.95"/>
<circle cx="1114.8" cy="750.9" r="6.95"/>
<circle cx="1114.9" cy="748.0" r="6.95"/>
<circle cx="1115.0" cy="745.0" r="6.95"/>
<circle cx="1115.0" cy="742.1" r="6.95"/>
<circle cx="1115.0" cy="739.2" r="6.95"/>
<circle cx="1115.1" cy="736.3" r="6.95"/>
<circle cx="1115.2" cy="733.4" r="6.95"/>
<circle cx="1115.2" cy="730.5" r="6.95"/>
<circle cx="1115.2" cy="727.6" r="6.95"/>
<circle cx="1115.3" cy="724.7" r="6.95"/>
<circle cx="1115.3" cy="722.5" r="6.95"/>
<circle cx="1115.4" cy="720.2" r="6.95"/>
<circle cx="1115.4" cy="718.0" r="6.95"/>
<circle cx="1115.5" cy="715.8" r="6.95"/>
<circle cx="1115.5" cy="713.6" r="6.95"/>
<circle cx="1115.5" cy="711.3" r="6.95"/>
<circle cx="1115.6" cy="708.9" r="6.95"/>
<circle cx="1115.6" cy="706.6" r="6.95"/>
<circle cx="1115.7" cy="704.2" r="6.95"/>
<circle cx="1115.7" cy="701.7" r="6.95"/>
<circle cx="1115.7" cy="699.3" r="6.95"/>
<circle cx="1115.8" cy="697.4" r="6.95"/>
<circle cx="1115.8" cy="695.5" r="6.95"/>
<circle cx="1115.8" cy="693.6" r="6.95"/>
<circle cx="1115.9" cy="691.7" r="6.95"/>
<circle cx="1115.9" cy="689.8" r="6.95"/>
<circle cx="1115.9" cy="687.8" r="6.95"/>
<circle cx="1116.0" cy="685.9" r="6.95"/>
<circle cx="1116.0" cy="683.9" r="6.95"/>
<circle cx="1116.0" cy="682.0" r="6.95"/>
<circle cx="1116.0" cy="680.0" r="6.95"/>
<circle cx="1116.1" cy="678.1" r="6.95"/>
<circle cx="1116.1" cy="676.1" r="6.95"/>
<circle cx="1116.1" cy="674.1" r="6.95"/>
<circle cx="1116.2" cy="672.1" r="6.95"/>
<circle cx="1116.2" cy="670.2" r="6.95"/>
<circle cx="1116.2" cy="668.2" r="6.95"/>
<circle cx="1116.2" cy="666.2" r="6.95"/>
<circle cx="1116.3" cy="664.3" r="6.95"/>
<circle cx="1156.3" cy="840.0" r="6.95"/>
<circle cx="1156.6" cy="833.3" r="6.95"/>
<circle cx="1156.9" cy="826.9" r="6.95"/>
<circle cx="1157.2" cy="820.8" r="6.95"/>
<circle cx="1157.4" cy="815.2" r="6.95"/>
<circle cx="1157.6" cy="809.6" r="6.95"/>
<circle cx="1157.8" cy="804.4" r="6.95"/>
<circle cx="1157.9" cy="799.3" r="6.95"/>
<circle cx="1158.0" cy="794.5" r="6.95"/>
<circle cx="1158.1" cy="789.8" r="6.95"/>
<circle cx="1158.2" cy="785.2" r="6.95"/>
<circle cx="1158.3" cy="780.9" r="6.95"/>
<circle cx="1158.4" cy="776.5" r="6.95"/>
<circle cx="1158.5" cy="772.5" r="6.95"/>
<circle cx="1158.5" cy="768.4" r="6.95"/>
<circle cx="1158.6" cy="764.2" r="6.95"/>
<circle cx="1158.6" cy="760.5" r="6.95"/>
<circle cx="1158.7" cy="756.8" r="6.95"/>
<circle cx="1158.8" cy="753.0" r="6.95"/>
<circle cx="1158.8" cy="749.2" r="6.95"/>
<circle cx="1158.9" cy="745.9" r="6.95"/>
<circle cx="1158.9" cy="742.7" r="6.95"/>
<circle cx="1159.0" cy="739.5" r="6.95"/>
<circle cx="1159.0" cy="736.2" r="6.95"/>
<circle cx="1159.1" cy="732.9" r="6.95"/>
<circle cx="1159.1" cy="729.7" r="6.95"/>
<circle cx="1159.2" cy="726.4" r="6.95"/>
<circle cx="1159.2" cy="723.8" r="6.95"/>
<circle cx="1159.3" cy="721.2" r="6.95"/>
<circle cx="1159.3" cy="718.6" r="6.95"/>
<circle cx="1159.3" cy="716.0" r="6.95"/>
<circle cx="1159.4" cy="713.4" r="6.95"/>
<circle cx="1159.4" cy="710.8" r="6.95"/>
<circle cx="1159.5" cy="708.3" r="6.95"/>
<circle cx="1159.5" cy="705.8" r="6.95"/>
<circle cx="1159.5" cy="703.2" r="6.95"/>
<circle cx="1159.6" cy="700.8" r="6.95"/>
<circle cx="1159.6" cy="698.3" r="6.95"/>
<circle cx="1159.7" cy="695.9" r="6.95"/>
<circle cx="1159.7" cy="693.4" r="6.95"/>
<circle cx="1159.7" cy="690.8" r="6.95"/>
<circle cx="1159.8" cy="688.9" r="6.95"/>
<circle cx="1159.8" cy="686.9" r="6.95"/>
<circle cx="1159.8" cy="685.0" r="6.95"/>
<circle cx="1159.9" cy="682.9" r="6.95"/>
<circle cx="1159.9" cy="680.9" r="6.95"/>
<circle cx="1159.9" cy="678.8" r="6.95"/>
<circle cx="1160.0" cy="676.8" r="6.95"/>
<circle cx="1160.0" cy="674.7" r="6.95"/>
<circle cx="1160.0" cy="672.5" r="6.95"/>
<circle cx="1160.0" cy="670.4" r="6.95"/>
<circle cx="1160.1" cy="668.3" r="6.95"/>
<circle cx="1160.1" cy="666.1" r="6.95"/>
<circle cx="1160.1" cy="663.9" r="6.95"/>
<circle cx="1200.0" cy="826.0" r="6.95"/>
<circle cx="1200.3" cy="818.7" r="6.95"/>
<circle cx="1200.7" cy="812.0" r="6.95"/>
<circle cx="1201.0" cy="805.5" r="6.95"/>
<circle cx="1201.2" cy="799.5" r="6.95"/>
<circle cx="1201.4" cy="793.7" r="6.95"/>
<circle cx="1201.5" cy="788.1" r="6.95"/>
<circle cx="1201.7" cy="782.7" r="6.95"/>
<circle cx="1201.8" cy="777.8" r="6.95"/>
<circle cx="1201.8" cy="773.0" r="6.95"/>
<circle cx="1201.9" cy="768.5" r="6.95"/>
<circle cx="1202.0" cy="763.7" r="6.95"/>
<circle cx="1202.1" cy="759.4" r="6.95"/>
<circle cx="1202.1" cy="755.0" r="6.95"/>
<circle cx="1202.2" cy="751.1" r="6.95"/>
<circle cx="1202.3" cy="747.1" r="6.95"/>
<circle cx="1202.3" cy="743.0" r="6.95"/>
<circle cx="1202.4" cy="739.6" r="6.95"/>
<circle cx="1202.4" cy="736.1" r="6.95"/>
<circle cx="1202.5" cy="732.6" r="6.95"/>
<circle cx="1202.5" cy="729.1" r="6.95"/>
<circle cx="1202.6" cy="725.5" r="6.95"/>
<circle cx="1202.6" cy="722.7" r="6.95"/>
<circle cx="1202.7" cy="719.8" r="6.95"/>
<circle cx="1202.7" cy="716.9" r="6.95"/>
<circle cx="1202.7" cy="714.0" r="6.95"/>
<circle cx="1202.8" cy="711.2" r="6.95"/>
<circle cx="1202.8" cy="708.3" r="6.95"/>
<circle cx="1202.9" cy="705.4" r="6.95"/>
<circle cx="1202.9" cy="702.5" r="6.95"/>
<circle cx="1202.9" cy="699.7" r="6.95"/>
<circle cx="1203.0" cy="696.8" r="6.95"/>
<circle cx="1203.0" cy="694.0" r="6.95"/>
<circle cx="1203.1" cy="691.2" r="6.95"/>
<circle cx="1203.1" cy="689.1" r="6.95"/>
<circle cx="1203.1" cy="687.0" r="6.95"/>
<circle cx="1203.1" cy="684.9" r="6.95"/>
<circle cx="1203.2" cy="682.9" r="6.95"/>
<circle cx="1203.2" cy="680.8" r="6.95"/>
<circle cx="1203.2" cy="678.8" r="6.95"/>
<circle cx="1203.3" cy="676.8" r="6.95"/>
<circle cx="1203.3" cy="674.8" r="6.95"/>
<circle cx="1203.3" cy="672.8" r="6.95"/>
<circle cx="1203.4" cy="670.7" r="6.95"/>
<circle cx="1203.4" cy="668.6" r="6.95"/>
<circle cx="1203.4" cy="666.5" r="6.95"/>
<circle cx="1203.4" cy="664.3" r="6.95"/>
<circle cx="1242.5" cy="812.5" r="6.95"/>
<circle cx="1242.8" cy="804.8" r="6.95"/>
<circle cx="1243.2" cy="797.7" r="6.95"/>
<circle cx="1243.5" cy="791.1" r="6.95"/>
<circle cx="1243.7" cy="784.8" r="6.95"/>
<circle cx="1243.9" cy="778.8" r="6.95"/>
<circle cx="1244.0" cy="773.1" r="6.95"/>
<circle cx="1244.1" cy="767.5" r="6.95"/>
<circle cx="1244.2" cy="762.4" r="6.95"/>
<circle cx="1244.3" cy="757.5" r="6.95"/>
<circle cx="1244.3" cy="753.0" r="6.95"/>
<circle cx="1244.4" cy="748.2" r="6.95"/>
<circle cx="1244.5" cy="744.1" r="6.95"/>
<circle cx="1244.5" cy="739.7" r="6.95"/>
<circle cx="1244.6" cy="736.1" r="6.95"/>
<circle cx="1244.6" cy="732.3" r="6.95"/>
<circle cx="1244.7" cy="728.5" r="6.95"/>
<circle cx="1244.7" cy="724.6" r="6.95"/>
<circle cx="1244.8" cy="720.7" r="6.95"/>
<circle cx="1244.8" cy="717.5" r="6.95"/>
<circle cx="1244.9" cy="714.3" r="6.95"/>
<circle cx="1244.9" cy="711.1" r="6.95"/>
<circle cx="1244.9" cy="707.9" r="6.95"/>
<circle cx="1245.0" cy="704.7" r="6.95"/>
<circle cx="1245.0" cy="701.4" r="6.95"/>
<circle cx="1245.1" cy="698.1" r="6.95"/>
<circle cx="1245.1" cy="695.7" r="6.95"/>
<circle cx="1245.1" cy="693.2" r="6.95"/>
<circle cx="1245.2" cy="690.8" r="6.95"/>
<circle cx="1245.2" cy="688.3" r="6.95"/>
<circle cx="1245.2" cy="685.9" r="6.95"/>
<circle cx="1245.2" cy="683.5" r="6.95"/>
<circle cx="1245.3" cy="681.0" r="6.95"/>
<circle cx="1245.3" cy="678.6" r="6.95"/>
<circle cx="1245.3" cy="676.2" r="6.95"/>
<circle cx="1245.4" cy="673.8" r="6.95"/>
<circle cx="1245.4" cy="671.4" r="6.95"/>
<circle cx="1245.4" cy="669.1" r="6.95"/>
<circle cx="1245.5" cy="666.7" r="6.95"/>
<circle cx="1245.5" cy="664.4" r="6.95"/>
<circle cx="1283.3" cy="798.0" r="6.95"/>
<circle cx="1283.7" cy="789.8" r="6.95"/>
<circle cx="1284.0" cy="782.3" r="6.95"/>
<circle cx="1284.3" cy="775.2" r="6.95"/>
<circle cx="1284.5" cy="768.7" r="6.95"/>
<circle cx="1284.7" cy="762.6" r="6.95"/>
<circle cx="1284.8" cy="757.1" r="6.95"/>
<circle cx="1284.9" cy="751.4" r="6.95"/>
<circle cx="1285.0" cy="746.4" r="6.95"/>
<circle cx="1285.0" cy="741.7" r="6.95"/>
<circle cx="1285.1" cy="736.7" r="6.95"/>
<circle cx="1285.2" cy="732.3" r="6.95"/>
<circle cx="1285.2" cy="727.7" r="6.95"/>
<circle cx="1285.3" cy="723.7" r="6.95"/>
<circle cx="1285.3" cy="719.7" r="6.95"/>
<circle cx="1285.4" cy="715.6" r="6.95"/>
<circle cx="1285.4" cy="712.3" r="6.95"/>
<circle cx="1285.5" cy="708.9" r="6.95"/>
<circle cx="1285.5" cy="705.5" r="6.95"/>
<circle cx="1285.5" cy="702.0" r="6.95"/>
<circle cx="1285.6" cy="698.5" r="6.95"/>
<circle cx="1285.6" cy="695.9" r="6.95"/>
<circle cx="1285.6" cy="693.2" r="6.95"/>
<circle cx="1285.7" cy="690.6" r="6.95"/>
<circle cx="1285.7" cy="687.9" r="6.95"/>
<circle cx="1285.7" cy="685.2" r="6.95"/>
<circle cx="1285.8" cy="682.5" r="6.95"/>
<circle cx="1285.8" cy="679.9" r="6.95"/>
<circle cx="1285.8" cy="677.2" r="6.95"/>
<circle cx="1285.8" cy="674.5" r="6.95"/>
<circle cx="1285.9" cy="671.8" r="6.95"/>
<circle cx="1285.9" cy="669.1" r="6.95"/>
<circle cx="1285.9" cy="666.4" r="6.95"/>
<circle cx="1286.0" cy="664.7" r="6.95"/>
<circle cx="1323.8" cy="784.5" r="6.95"/>
<circle cx="1324.3" cy="773.6" r="6.95"/>
<circle cx="1324.7" cy="764.0" r="6.95"/>
<circle cx="1325.0" cy="755.2" r="6.95"/>
<circle cx="1325.2" cy="747.3" r="6.95"/>
<circle cx="1325.3" cy="739.8" r="6.95"/>
<circle cx="1325.5" cy="733.0" r="6.95"/>
<circle cx="1325.5" cy="726.8" r="6.95"/>
<circle cx="1325.6" cy="721.0" r="6.95"/>
<circle cx="1325.7" cy="715.6" r="6.95"/>
<circle cx="1325.8" cy="710.1" r="6.95"/>
<circle cx="1325.8" cy="705.2" r="6.95"/>
<circle cx="1325.9" cy="700.1" r="6.95"/>
<circle cx="1325.9" cy="695.8" r="6.95"/>
<circle cx="1326.0" cy="691.5" r="6.95"/>
<circle cx="1326.0" cy="687.1" r="6.95"/>
<circle cx="1326.1" cy="683.5" r="6.95"/>
<circle cx="1326.1" cy="679.9" r="6.95"/>
<circle cx="1326.1" cy="676.3" r="6.95"/>
<circle cx="1326.2" cy="672.7" r="6.95"/>
<circle cx="1326.2" cy="669.0" r="6.95"/>
<circle cx="1326.3" cy="666.3" r="6.95"/>
<circle cx="1326.3" cy="663.5" r="6.95"/>
<circle cx="1363.3" cy="770.8" r="6.95"/>
<circle cx="1363.9" cy="757.7" r="6.95"/>
<circle cx="1364.3" cy="746.3" r="6.95"/>
<circle cx="1364.6" cy="736.2" r="6.95"/>
<circle cx="1364.8" cy="727.4" r="6.95"/>
<circle cx="1364.9" cy="719.1" r="6.95"/>
<circle cx="1365.0" cy="711.3" r="6.95"/>
<circle cx="1365.1" cy="704.4" r="6.95"/>
<circle cx="1365.2" cy="697.9" r="6.95"/>
<circle cx="1365.2" cy="692.0" r="6.95"/>
<circle cx="1365.3" cy="686.8" r="6.95"/>
<circle cx="1365.4" cy="681.5" r="6.95"/>
<circle cx="1365.4" cy="677.0" r="6.95"/>
<circle cx="1365.5" cy="672.4" r="6.95"/>
<circle cx="1365.5" cy="667.8" r="6.95"/>
<circle cx="1365.6" cy="664.0" r="6.95"/>
<circle cx="1401.3" cy="757.0" r="6.95"/>
<circle cx="1402.0" cy="741.5" r="6.95"/>
<circle cx="1402.4" cy="728.8" r="6.95"/>
<circle cx="1402.7" cy="717.8" r="6.95"/>
<circle cx="1402.8" cy="707.7" r="6.95"/>
<circle cx="1403.0" cy="699.4" r="6.95"/>
<circle cx="1403.1" cy="691.7" r="6.95"/>
<circle cx="1403.2" cy="684.4" r="6.95"/>
<circle cx="1403.2" cy="677.6" r="6.95"/>
<circle cx="1403.3" cy="671.4" r="6.95"/>
<circle cx="1403.4" cy="666.0" r="6.95"/>
<circle cx="1439.3" cy="742.5" r="6.95"/>
<circle cx="1439.9" cy="727.2" r="6.95"/>
<circle cx="1440.4" cy="714.2" r="6.95"/>
<circle cx="1440.6" cy="703.0" r="6.95"/>
<circle cx="1440.8" cy="693.3" r="6.95"/>
<circle cx="1440.9" cy="684.7" r="6.95"/>
<circle cx="1441.0" cy="676.9" r="6.95"/>
<circle cx="1441.1" cy="669.4" r="6.95"/>
<circle cx="1476.3" cy="728.8" r="6.95"/>
<circle cx="1476.9" cy="713.3" r="6.95"/>
<circle cx="1477.3" cy="700.3" r="6.95"/>
<circle cx="1477.6" cy="689.2" r="6.95"/>
<circle cx="1477.8" cy="679.2" r="6.95"/>
<circle cx="1477.9" cy="670.4" r="6.95"/>
<circle cx="1512.5" cy="714.5" r="6.95"/>
<circle cx="1513.1" cy="699.2" r="6.95"/>
<circle cx="1513.5" cy="686.4" r="6.95"/>
<circle cx="1513.8" cy="675.4" r="6.95"/>
<circle cx="1513.9" cy="665.3" r="6.95"/>
<circle cx="1549.0" cy="700.0" r="6.95"/>
<circle cx="1549.6" cy="684.7" r="6.95"/>
<circle cx="1550.0" cy="671.9" r="6.95"/>
<circle cx="340.3" cy="897.0" r="6.95"/>
<circle cx="340.3" cy="894.0" r="6.95"/>
<circle cx="340.3" cy="891.0" r="6.95"/>
<circle cx="340.3" cy="888.0" r="6.95"/>
<circle cx="340.3" cy="885.0" r="6.95"/>
<circle cx="340.3" cy="882.0" r="6.95"/>
<circle cx="340.3" cy="879.0" r="6.95"/>
<circle cx="340.3" cy="876.0" r="6.95"/>
<circle cx="340.3" cy="873.0" r="6.95"/>
<circle cx="340.3" cy="870.0" r="6.95"/>
<circle cx="340.3" cy="867.0" r="6.95"/>
<circle cx="340.3" cy="864.0" r="6.95"/>
<circle cx="340.3" cy="861.0" r="6.95"/>
<circle cx="340.3" cy="858.0" r="6.95"/>
<circle cx="340.3" cy="855.0" r="6.95"/>
<circle cx="340.3" cy="852.0" r="6.95"/>
<circle cx="340.3" cy="849.0" r="6.95"/>
<circle cx="339.5" cy="845.0" r="6.95"/>
<circle cx="340.7" cy="851.3" r="6.95"/>
<circle cx="340.8" cy="854.3" r="6.95"/>
<circle cx="340.8" cy="857.3" r="6.95"/>
<circle cx="340.8" cy="860.3" r="6.95"/>
<circle cx="340.8" cy="863.3" r="6.95"/>
<circle cx="340.9" cy="866.3" r="6.95"/>
<circle cx="340.9" cy="869.3" r="6.95"/>
<circle cx="340.9" cy="872.3" r="6.95"/>
<circle cx="341.0" cy="875.3" r="6.95"/>
<circle cx="341.0" cy="878.3" r="6.95"/>
<circle cx="341.0" cy="881.3" r="6.95"/>
<circle cx="341.1" cy="884.3" r="6.95"/>
<circle cx="341.1" cy="887.3" r="6.95"/>
<circle cx="341.2" cy="890.3" r="6.95"/>
<circle cx="341.2" cy="893.3" r="6.95"/>
<circle cx="341.2" cy="896.3" r="6.95"/>
<circle cx="392.8" cy="896.5" r="6.95"/>
<circle cx="392.8" cy="893.5" r="6.95"/>
<circle cx="392.8" cy="890.5" r="6.95"/>
<circle cx="392.8" cy="887.5" r="6.95"/>
<circle cx="392.8" cy="884.5" r="6.95"/>
<circle cx="392.8" cy="881.5" r="6.95"/>
<circle cx="392.8" cy="878.5" r="6.95"/>
<circle cx="392.8" cy="875.5" r="6.95"/>
<circle cx="392.8" cy="872.5" r="6.95"/>
<circle cx="392.8" cy="869.5" r="6.95"/>
<circle cx="392.8" cy="866.5" r="6.95"/>
<circle cx="392.8" cy="863.5" r="6.95"/>
<circle cx="392.8" cy="860.5" r="6.95"/>
<circle cx="392.8" cy="857.5" r="6.95"/>
<circle cx="392.8" cy="854.5" r="6.95"/>
<circle cx="392.8" cy="851.5" r="6.95"/>
<circle cx="392.8" cy="848.5" r="6.95"/>
<circle cx="392.8" cy="845.5" r="6.95"/>
<circle cx="392.8" cy="842.5" r="6.95"/>
<circle cx="392.8" cy="839.5" r="6.95"/>
<circle cx="392.8" cy="836.5" r="6.95"/>
<circle cx="392.8" cy="833.5" r="6.95"/>
<circle cx="392.8" cy="830.5" r="6.95"/>
<circle cx="392.8" cy="827.5" r="6.95"/>
<circle cx="392.8" cy="824.5" r="6.95"/>
<circle cx="392.8" cy="821.5" r="6.95"/>
<circle cx="392.8" cy="818.5" r="6.95"/>
<circle cx="392.8" cy="815.5" r="6.95"/>
<circle cx="392.8" cy="812.5" r="6.95"/>
<circle cx="392.8" cy="809.5" r="6.95"/>
<circle cx="392.8" cy="806.5" r="6.95"/>
<circle cx="392.8" cy="803.5" r="6.95"/>
<circle cx="392.8" cy="800.5" r="6.95"/>
<circle cx="392.8" cy="797.5" r="6.95"/>
<circle cx="392.8" cy="794.5" r="6.95"/>
<circle cx="392.8" cy="791.5" r="6.95"/>
<circle cx="392.8" cy="788.5" r="6.95"/>
<circle cx="392.8" cy="785.5" r="6.95"/>
<circle cx="392.8" cy="782.5" r="6.95"/>
<circle cx="392.8" cy="779.5" r="6.95"/>
<circle cx="392.8" cy="776.5" r="6.95"/>
<circle cx="392.8" cy="773.5" r="6.95"/>
<circle cx="392.8" cy="770.5" r="6.95"/>
<circle cx="392.8" cy="767.5" r="6.95"/>
<circle cx="392.8" cy="764.5" r="6.95"/>
<circle cx="392.0" cy="760.0" r="6.95"/>
<circle cx="393.2" cy="765.6" r="6.95"/>
<circle cx="393.2" cy="768.6" r="6.95"/>
<circle cx="393.3" cy="771.6" r="6.95"/>
<circle cx="393.3" cy="774.6" r="6.95"/>
<circle cx="393.3" cy="777.6" r="6.95"/>
<circle cx="393.3" cy="780.6" r="6.95"/>
<circle cx="393.3" cy="783.6" r="6.95"/>
<circle cx="393.4" cy="786.6" r="6.95"/>
<circle cx="393.4" cy="789.6" r="6.95"/>
<circle cx="393.4" cy="792.6" r="6.95"/>
<circle cx="393.4" cy="795.6" r="6.95"/>
<circle cx="393.5" cy="798.6" r="6.95"/>
<circle cx="393.5" cy="801.6" r="6.95"/>
<circle cx="393.5" cy="804.6" r="6.95"/>
<circle cx="393.5" cy="807.6" r="6.95"/>
<circle cx="393.6" cy="810.6" r="6.95"/>
<circle cx="393.6" cy="813.6" r="6.95"/>
<circle cx="393.6" cy="816.6" r="6.95"/>
<circle cx="393.7" cy="819.6" r="6.95"/>
<circle cx="393.7" cy="822.6" r="6.95"/>
<circle cx="393.7" cy="825.6" r="6.95"/>
<circle cx="393.8" cy="828.6" r="6.95"/>
<circle cx="393.8" cy="831.6" r="6.95"/>
<circle cx="393.8" cy="834.6" r="6.95"/>
<circle cx="393.8" cy="837.6" r="6.95"/>
<circle cx="393.9" cy="840.6" r="6.95"/>
<circle cx="393.9" cy="843.6" r="6.95"/>
<circle cx="393.9" cy="846.6" r="6.95"/>
<circle cx="394.0" cy="849.6" r="6.95"/>
<circle cx="394.0" cy="852.6" r="6.95"/>
<circle cx="394.1" cy="855.6" r="6.95"/>
<circle cx="394.1" cy="858.6" r="6.95"/>
<circle cx="394.1" cy="861.6" r="6.95"/>
<circle cx="394.2" cy="864.6" r="6.95"/>
<circle cx="394.2" cy="867.6" r="6.95"/>
<circle cx="394.2" cy="870.6" r="6.95"/>
<circle cx="394.3" cy="873.6" r="6.95"/>
<circle cx="394.3" cy="876.6" r="6.95"/>
<circle cx="394.3" cy="879.6" r="6.95"/>
<circle cx="394.4" cy="882.6" r="6.95"/>
<circle cx="394.4" cy="885.6" r="6.95"/>
<circle cx="394.5" cy="888.6" r="6.95"/>
<circle cx="394.5" cy="891.6" r="6.95"/>
<circle cx="394.5" cy="894.6" r="6.95"/>
<circle cx="394.6" cy="897.6" r="6.95"/>
<circle cx="446.0" cy="690.0" r="6.95"/>
<circle cx="446.3" cy="696.0" r="6.95"/>
<circle cx="446.3" cy="707.0" r="6.95"/>
<circle cx="446.3" cy="725.0" r="6.95"/>
<circle cx="446.7" cy="746.4" r="6.95"/>
<circle cx="447.0" cy="768.8" r="6.95"/>
<circle cx="447.0" cy="775.6" r="6.95"/>
<circle cx="447.1" cy="782.0" r="6.95"/>
<circle cx="447.2" cy="791.8" r="6.95"/>
<circle cx="447.3" cy="800.1" r="6.95"/>
<circle cx="447.8" cy="836.8" r="6.95"/>
<circle cx="448.0" cy="854.5" r="6.95"/>
<circle cx="448.3" cy="873.4" r="6.95"/>
<circle cx="448.6" cy="895.3" r="6.95"/>
<circle cx="500.8" cy="668.0" r="6.95"/>
<circle cx="500.8" cy="679.5" r="6.95"/>
<circle cx="500.8" cy="694.0" r="6.95"/>
<circle cx="501.5" cy="720.7" r="6.95"/>
<circle cx="501.6" cy="730.2" r="6.95"/>
<circle cx="501.7" cy="736.6" r="6.95"/>
<circle cx="501.8" cy="746.4" r="6.95"/>
<circle cx="502.2" cy="789.3" r="6.95"/>
<circle cx="502.6" cy="823.3" r="6.95"/>
<circle cx="502.8" cy="840.7" r="6.95"/>
<circle cx="503.0" cy="858.3" r="6.95"/>
<circle cx="503.3" cy="876.9" r="6.95"/>
<circle cx="503.5" cy="896.4" r="6.95"/>
<circle cx="555.8" cy="669.0" r="6.95"/>
<circle cx="556.7" cy="694.5" r="6.95"/>
<circle cx="557.0" cy="721.2" r="6.95"/>
<circle cx="557.5" cy="773.9" r="6.95"/>
<circle cx="557.7" cy="795.2" r="6.95"/>
<circle cx="558.0" cy="818.1" r="6.95"/>
<circle cx="558.2" cy="839.2" r="6.95"/>
<circle cx="558.4" cy="858.5" r="6.95"/>
<circle cx="558.6" cy="876.1" r="6.95"/>
<circle cx="558.8" cy="890.7" r="6.95"/>
<circle cx="609.4" cy="897.0" r="6.95"/>
<circle cx="609.7" cy="883.7" r="6.95"/>
<circle cx="609.7" cy="836.5" r="6.95"/>
<circle cx="609.7" cy="812.3" r="6.95"/>
<circle cx="609.7" cy="784.7" r="6.95"/>
<circle cx="609.7" cy="778.1" r="6.95"/>
<circle cx="609.7" cy="720.1" r="6.95"/>
<circle cx="609.7" cy="714.0" r="6.95"/>
<circle cx="611.2" cy="676.7" r="6.95"/>
<circle cx="611.6" cy="722.8" r="6.95"/>
<circle cx="612.2" cy="779.2" r="6.95"/>
<circle cx="612.4" cy="800.7" r="6.95"/>
<circle cx="612.6" cy="820.6" r="6.95"/>
<circle cx="612.8" cy="838.6" r="6.95"/>
<circle cx="613.0" cy="860.4" r="6.95"/>
<circle cx="613.2" cy="876.7" r="6.95"/>
<circle cx="613.3" cy="892.9" r="6.95"/>
<circle cx="663.4" cy="875.0" r="6.95"/>
<circle cx="663.7" cy="863.4" r="6.95"/>
<circle cx="663.7" cy="842.8" r="6.95"/>
<circle cx="663.7" cy="801.8" r="6.95"/>
<circle cx="663.7" cy="791.8" r="6.95"/>
<circle cx="663.7" cy="762.2" r="6.95"/>
<circle cx="663.7" cy="754.9" r="6.95"/>
<circle cx="663.7" cy="716.6" r="6.95"/>
<circle cx="665.6" cy="677.9" r="6.95"/>
<circle cx="665.7" cy="687.4" r="6.95"/>
<circle cx="666.1" cy="724.7" r="6.95"/>
<circle cx="666.4" cy="758.9" r="6.95"/>
<circle cx="666.5" cy="776.1" r="6.95"/>
<circle cx="666.7" cy="796.4" r="6.95"/>
<circle cx="666.9" cy="816.0" r="6.95"/>
<circle cx="667.1" cy="833.1" r="6.95"/>
<circle cx="667.3" cy="851.4" r="6.95"/>
<circle cx="667.4" cy="868.7" r="6.95"/>
<circle cx="667.6" cy="882.9" r="6.95"/>
<circle cx="667.7" cy="893.5" r="6.95"/>
<circle cx="717.1" cy="854.0" r="6.95"/>
<circle cx="717.4" cy="845.6" r="6.95"/>
<circle cx="717.4" cy="835.9" r="6.95"/>
<circle cx="717.4" cy="828.8" r="6.95"/>
<circle cx="717.4" cy="808.1" r="6.95"/>
<circle cx="717.4" cy="801.8" r="6.95"/>
<circle cx="717.4" cy="768.2" r="6.95"/>
<circle cx="717.4" cy="759.8" r="6.95"/>
<circle cx="717.4" cy="729.3" r="6.95"/>
<circle cx="717.4" cy="688.0" r="6.95"/>
<circle cx="717.4" cy="680.0" r="6.95"/>
<circle cx="719.3" cy="668.0" r="6.95"/>
<circle cx="719.7" cy="723.7" r="6.95"/>
<circle cx="719.8" cy="746.4" r="6.95"/>
<circle cx="720.0" cy="767.3" r="6.95"/>
<circle cx="720.1" cy="784.8" r="6.95"/>
<circle cx="720.3" cy="802.1" r="6.95"/>
<circle cx="720.4" cy="822.9" r="6.95"/>
<circle cx="720.6" cy="844.5" r="6.95"/>
<circle cx="720.7" cy="859.8" r="6.95"/>
<circle cx="720.8" cy="873.3" r="6.95"/>
<circle cx="720.9" cy="883.5" r="6.95"/>
<circle cx="721.0" cy="892.3" r="6.95"/>
<circle cx="768.9" cy="834.0" r="6.95"/>
<circle cx="769.2" cy="814.5" r="6.95"/>
<circle cx="769.2" cy="785.2" r="6.95"/>
<circle cx="769.2" cy="745.5" r="6.95"/>
<circle cx="769.2" cy="723.6" r="6.95"/>
<circle cx="769.2" cy="700.5" r="6.95"/>
<circle cx="769.2" cy="691.9" r="6.95"/>
<circle cx="771.5" cy="669.6" r="6.95"/>
<circle cx="771.8" cy="698.0" r="6.95"/>
<circle cx="771.9" cy="718.3" r="6.95"/>
<circle cx="772.1" cy="738.0" r="6.95"/>
<circle cx="772.2" cy="757.0" r="6.95"/>
<circle cx="772.4" cy="778.5" r="6.95"/>
<circle cx="772.6" cy="798.1" r="6.95"/>
<circle cx="772.7" cy="818.4" r="6.95"/>
<circle cx="772.9" cy="834.8" r="6.95"/>
<circle cx="773.0" cy="848.6" r="6.95"/>
<circle cx="773.1" cy="862.3" r="6.95"/>
<circle cx="773.2" cy="873.1" r="6.95"/>
<circle cx="773.3" cy="882.6" r="6.95"/>
<circle cx="773.4" cy="892.0" r="6.95"/>
<circle cx="820.6" cy="818.8" r="6.95"/>
<circle cx="820.9" cy="801.8" r="6.95"/>
<circle cx="820.9" cy="793.7" r="6.95"/>
<circle cx="820.9" cy="763.8" r="6.95"/>
<circle cx="820.9" cy="756.0" r="6.95"/>
<circle cx="820.9" cy="719.0" r="6.95"/>
<circle cx="820.9" cy="696.1" r="6.95"/>
<circle cx="820.9" cy="686.7" r="6.95"/>
<circle cx="820.9" cy="679.8" r="6.95"/>
<circle cx="823.2" cy="669.9" r="6.95"/>
<circle cx="823.3" cy="687.2" r="6.95"/>
<circle cx="823.4" cy="704.4" r="6.95"/>
<circle cx="823.5" cy="721.8" r="6.95"/>
<circle cx="823.7" cy="744.3" r="6.95"/>
<circle cx="823.8" cy="762.8" r="6.95"/>
<circle cx="823.9" cy="784.3" r="6.95"/>
<circle cx="824.1" cy="806.7" r="6.95"/>
<circle cx="824.2" cy="823.5" r="6.95"/>
<circle cx="824.3" cy="837.6" r="6.95"/>
<circle cx="824.4" cy="852.7" r="6.95"/>
<circle cx="824.5" cy="864.1" r="6.95"/>
<circle cx="824.6" cy="872.8" r="6.95"/>
<circle cx="824.6" cy="881.5" r="6.95"/>
<circle cx="824.7" cy="888.1" r="6.95"/>
<circle cx="824.7" cy="893.7" r="6.95"/>
<circle cx="824.8" cy="898.1" r="6.95"/>
<circle cx="871.0" cy="798.8" r="6.95"/>
<circle cx="871.3" cy="777.5" r="6.95"/>
<circle cx="871.3" cy="747.5" r="6.95"/>
<circle cx="871.3" cy="727.1" r="6.95"/>
<circle cx="871.3" cy="719.9" r="6.95"/>
<circle cx="871.3" cy="685.5" r="6.95"/>
<circle cx="871.3" cy="679.1" r="6.95"/>
<circle cx="873.8" cy="672.5" r="6.95"/>
<circle cx="874.0" cy="694.6" r="6.95"/>
<circle cx="874.1" cy="716.6" r="6.95"/>
<circle cx="874.2" cy="734.7" r="6.95"/>
<circle cx="874.4" cy="753.0" r="6.95"/>
<circle cx="874.5" cy="772.4" r="6.95"/>
<circle cx="874.6" cy="792.5" r="6.95"/>
<circle cx="874.7" cy="809.7" r="6.95"/>
<circle cx="874.8" cy="823.4" r="6.95"/>
<circle cx="874.9" cy="835.8" r="6.95"/>
<circle cx="875.0" cy="848.3" r="6.95"/>
<circle cx="875.1" cy="859.3" r="6.95"/>
<circle cx="875.1" cy="866.5" r="6.95"/>
<circle cx="875.2" cy="873.9" r="6.95"/>
<circle cx="875.2" cy="880.6" r="6.95"/>
<circle cx="875.3" cy="885.2" r="6.95"/>
<circle cx="875.3" cy="890.3" r="6.95"/>
<circle cx="875.3" cy="894.0" r="6.95"/>
<circle cx="875.4" cy="898.3" r="6.95"/>
<circle cx="920.1" cy="778.8" r="6.95"/>
<circle cx="920.4" cy="766.0" r="6.95"/>
<circle cx="920.4" cy="757.4" r="6.95"/>
<circle cx="920.4" cy="697.9" r="6.95"/>
<circle cx="920.4" cy="688.9" r="6.95"/>
<circle cx="923.3" cy="666.1" r="6.95"/>
<circle cx="923.4" cy="684.3" r="6.95"/>
<circle cx="923.5" cy="703.7" r="6.95"/>
<circle cx="923.7" cy="723.9" r="6.95"/>
<circle cx="923.8" cy="744.7" r="6.95"/>
<circle cx="924.0" cy="765.6" r="6.95"/>
<circle cx="924.1" cy="785.1" r="6.95"/>
<circle cx="924.2" cy="802.9" r="6.95"/>
<circle cx="924.3" cy="817.6" r="6.95"/>
<circle cx="924.4" cy="828.5" r="6.95"/>
<circle cx="924.5" cy="839.9" r="6.95"/>
<circle cx="924.6" cy="850.7" r="6.95"/>
<circle cx="924.7" cy="859.0" r="6.95"/>
<circle cx="924.7" cy="865.6" r="6.95"/>
<circle cx="924.7" cy="871.4" r="6.95"/>
<circle cx="924.8" cy="876.1" r="6.95"/>
<circle cx="924.8" cy="880.2" r="6.95"/>
<circle cx="924.8" cy="884.9" r="6.95"/>
<circle cx="924.9" cy="888.6" r="6.95"/>
<circle cx="924.9" cy="893.0" r="6.95"/>
<circle cx="924.9" cy="896.8" r="6.95"/>
<circle cx="968.9" cy="760.0" r="6.95"/>
<circle cx="969.2" cy="743.7" r="6.95"/>
<circle cx="969.2" cy="688.0" r="6.95"/>
<circle cx="972.0" cy="669.9" r="6.95"/>
<circle cx="972.1" cy="688.2" r="6.95"/>
<circle cx="972.2" cy="706.8" r="6.95"/>
<circle cx="972.3" cy="729.2" r="6.95"/>
<circle cx="972.5" cy="749.2" r="6.95"/>
<circle cx="972.6" cy="768.4" r="6.95"/>
<circle cx="972.7" cy="788.0" r="6.95"/>
<circle cx="972.8" cy="801.6" r="6.95"/>
<circle cx="972.8" cy="814.3" r="6.95"/>
<circle cx="972.9" cy="825.4" r="6.95"/>
<circle cx="973.0" cy="835.5" r="6.95"/>
<circle cx="973.0" cy="844.1" r="6.95"/>
<circle cx="973.1" cy="851.1" r="6.95"/>
<circle cx="973.1" cy="856.6" r="6.95"/>
<circle cx="973.1" cy="861.3" r="6.95"/>
<circle cx="973.1" cy="865.1" r="6.95"/>
<circle cx="973.2" cy="869.8" r="6.95"/>
<circle cx="973.2" cy="874.2" r="6.95"/>
<circle cx="973.2" cy="878.7" r="6.95"/>
<circle cx="973.2" cy="882.5" r="6.95"/>
<circle cx="973.3" cy="886.6" r="6.95"/>
<circle cx="973.3" cy="891.3" r="6.95"/>
<circle cx="1015.8" cy="742.5" r="6.95"/>
<circle cx="1016.1" cy="727.2" r="6.95"/>
<circle cx="1016.1" cy="720.7" r="6.95"/>
<circle cx="1016.1" cy="670.5" r="6.95"/>
<circle cx="1019.2" cy="676.7" r="6.95"/>
<circle cx="1019.3" cy="698.7" r="6.95"/>
<circle cx="1019.5" cy="719.5" r="6.95"/>
<circle cx="1019.6" cy="736.6" r="6.95"/>
<circle cx="1019.7" cy="753.7" r="6.95"/>
<circle cx="1019.8" cy="774.1" r="6.95"/>
<circle cx="1019.9" cy="789.8" r="6.95"/>
<circle cx="1020.0" cy="801.6" r="6.95"/>
<circle cx="1020.1" cy="811.4" r="6.95"/>
<circle cx="1020.1" cy="820.1" r="6.95"/>
<circle cx="1020.2" cy="827.8" r="6.95"/>
<circle cx="1020.2" cy="835.8" r="6.95"/>
<circle cx="1020.3" cy="841.7" r="6.95"/>
<circle cx="1020.3" cy="846.5" r="6.95"/>
<circle cx="1020.3" cy="851.8" r="6.95"/>
<circle cx="1020.3" cy="856.4" r="6.95"/>
<circle cx="1020.4" cy="860.1" r="6.95"/>
<circle cx="1020.4" cy="864.8" r="6.95"/>
<circle cx="1020.4" cy="869.2" r="6.95"/>
<circle cx="1020.5" cy="873.7" r="6.95"/>
<circle cx="1020.5" cy="879.3" r="6.95"/>
<circle cx="1062.2" cy="722.5" r="6.95"/>
<circle cx="1062.5" cy="702.2" r="6.95"/>
<circle cx="1062.5" cy="674.3" r="6.95"/>
<circle cx="1065.7" cy="667.4" r="6.95"/>
<circle cx="1065.8" cy="688.8" r="6.95"/>
<circle cx="1065.9" cy="706.3" r="6.95"/>
<circle cx="1066.1" cy="727.1" r="6.95"/>
<circle cx="1066.2" cy="748.1" r="6.95"/>
<circle cx="1066.3" cy="764.7" r="6.95"/>
<circle cx="1066.4" cy="781.1" r="6.95"/>
<circle cx="1066.5" cy="792.3" r="6.95"/>
<circle cx="1066.6" cy="804.2" r="6.95"/>
<circle cx="1066.6" cy="813.6" r="6.95"/>
<circle cx="1066.7" cy="820.0" r="6.95"/>
<circle cx="1066.7" cy="825.6" r="6.95"/>
<circle cx="1066.8" cy="831.6" r="6.95"/>
<circle cx="1066.8" cy="837.6" r="6.95"/>
<circle cx="1066.8" cy="842.5" r="6.95"/>
<circle cx="1066.9" cy="847.7" r="6.95"/>
<circle cx="1066.9" cy="853.6" r="6.95"/>
<circle cx="1066.9" cy="858.6" r="6.95"/>
<circle cx="1067.0" cy="865.8" r="6.95"/>
<circle cx="1107.1" cy="705.0" r="6.95"/>
<circle cx="1107.4" cy="691.2" r="6.95"/>
<circle cx="1110.7" cy="667.5" r="6.95"/>
<circle cx="1110.8" cy="687.6" r="6.95"/>
<circle cx="1111.0" cy="709.1" r="6.95"/>
<circle cx="1111.1" cy="730.6" r="6.95"/>
<circle cx="1111.3" cy="748.0" r="6.95"/>
<circle cx="1111.3" cy="761.2" r="6.95"/>
<circle cx="1111.4" cy="773.6" r="6.95"/>
<circle cx="1111.5" cy="783.3" r="6.95"/>
<circle cx="1111.6" cy="792.3" r="6.95"/>
<circle cx="1111.6" cy="801.6" r="6.95"/>
<circle cx="1111.7" cy="809.2" r="6.95"/>
<circle cx="1111.7" cy="815.9" r="6.95"/>
<circle cx="1111.8" cy="823.1" r="6.95"/>
<circle cx="1111.8" cy="829.9" r="6.95"/>
<circle cx="1111.9" cy="836.5" r="6.95"/>
<circle cx="1111.9" cy="843.2" r="6.95"/>
<circle cx="1112.0" cy="849.8" r="6.95"/>
<circle cx="1112.0" cy="853.0" r="6.95"/>
<circle cx="1152.1" cy="685.0" r="6.95"/>
<circle cx="1152.4" cy="671.9" r="6.95"/>
<circle cx="1155.4" cy="683.1" r="6.95"/>
<circle cx="1155.5" cy="701.1" r="6.95"/>
<circle cx="1155.6" cy="722.9" r="6.95"/>
<circle cx="1155.7" cy="741.8" r="6.95"/>
<circle cx="1155.8" cy="755.4" r="6.95"/>
<circle cx="1155.9" cy="767.2" r="6.95"/>
<circle cx="1155.9" cy="778.6" r="6.95"/>
<circle cx="1156.0" cy="787.5" r="6.95"/>
<circle cx="1156.0" cy="795.4" r="6.95"/>
<circle cx="1156.1" cy="804.7" r="6.95"/>
<circle cx="1156.1" cy="813.6" r="6.95"/>
<circle cx="1156.2" cy="821.4" r="6.95"/>
<circle cx="1156.2" cy="828.9" r="6.95"/>
<circle cx="1156.3" cy="836.7" r="6.95"/>
<circle cx="1156.3" cy="840.0" r="6.95"/>
<circle cx="1195.6" cy="667.0" r="6.95"/>
<circle cx="1199.0" cy="665.1" r="6.95"/>
<circle cx="1199.1" cy="684.4" r="6.95"/>
<circle cx="1199.2" cy="704.7" r="6.95"/>
<circle cx="1199.3" cy="721.5" r="6.95"/>
<circle cx="1199.4" cy="735.6" r="6.95"/>
<circle cx="1199.5" cy="749.6" r="6.95"/>
<circle cx="1199.6" cy="761.7" r="6.95"/>
<circle cx="1199.6" cy="771.2" r="6.95"/>
<circle cx="1199.7" cy="780.6" r="6.95"/>
<circle cx="1199.8" cy="789.2" r="6.95"/>
<circle cx="1199.8" cy="798.2" r="6.95"/>
<circle cx="1199.9" cy="806.7" r="6.95"/>
<circle cx="1199.9" cy="816.5" r="6.95"/>
<circle cx="1200.0" cy="826.0" r="6.95"/>
<circle cx="1241.5" cy="681.3" r="6.95"/>
<circle cx="1241.7" cy="699.2" r="6.95"/>
<circle cx="1241.8" cy="715.1" r="6.95"/>
<circle cx="1241.9" cy="728.1" r="6.95"/>
<circle cx="1241.9" cy="738.4" r="6.95"/>
<circle cx="1242.0" cy="750.3" r="6.95"/>
<circle cx="1242.1" cy="760.3" r="6.95"/>
<circle cx="1242.2" cy="769.9" r="6.95"/>
<circle cx="1242.3" cy="779.8" r="6.95"/>
<circle cx="1242.3" cy="790.8" r="6.95"/>
<circle cx="1242.4" cy="802.6" r="6.95"/>
<circle cx="1242.5" cy="812.5" r="6.95"/>
<circle cx="1282.4" cy="665.7" r="6.95"/>
<circle cx="1282.6" cy="687.2" r="6.95"/>
<circle cx="1282.7" cy="702.7" r="6.95"/>
<circle cx="1282.7" cy="715.7" r="6.95"/>
<circle cx="1282.8" cy="727.9" r="6.95"/>
<circle cx="1282.9" cy="740.8" r="6.95"/>
<circle cx="1283.0" cy="754.2" r="6.95"/>
<circle cx="1283.1" cy="766.9" r="6.95"/>
<circle cx="1283.2" cy="779.1" r="6.95"/>
<circle cx="1283.3" cy="792.0" r="6.95"/>
<circle cx="1283.3" cy="798.0" r="6.95"/>
<circle cx="1323.0" cy="675.0" r="6.95"/>
<circle cx="1323.1" cy="690.4" r="6.95"/>
<circle cx="1323.2" cy="704.6" r="6.95"/>
<circle cx="1323.3" cy="719.5" r="6.95"/>
<circle cx="1323.4" cy="734.6" r="6.95"/>
<circle cx="1323.5" cy="746.8" r="6.95"/>
<circle cx="1323.6" cy="759.5" r="6.95"/>
<circle cx="1323.7" cy="772.8" r="6.95"/>
<circle cx="1323.8" cy="784.5" r="6.95"/>
<circle cx="1362.6" cy="668.8" r="6.95"/>
<circle cx="1362.7" cy="683.8" r="6.95"/>
<circle cx="1362.8" cy="699.5" r="6.95"/>
<circle cx="1362.9" cy="715.8" r="6.95"/>
<circle cx="1363.0" cy="732.6" r="6.95"/>
<circle cx="1363.1" cy="745.3" r="6.95"/>
<circle cx="1363.2" cy="759.5" r="6.95"/>
<circle cx="1363.3" cy="770.8" r="6.95"/>
<circle cx="1400.8" cy="671.1" r="6.95"/>
<circle cx="1400.9" cy="684.9" r="6.95"/>
<circle cx="1401.0" cy="699.5" r="6.95"/>
<circle cx="1401.1" cy="714.6" r="6.95"/>
<circle cx="1401.2" cy="731.8" r="6.95"/>
<circle cx="1401.2" cy="746.6" r="6.95"/>
<circle cx="1401.3" cy="757.0" r="6.95"/>
<circle cx="1438.9" cy="677.5" r="6.95"/>
<circle cx="1439.0" cy="692.4" r="6.95"/>
<circle cx="1439.1" cy="708.0" r="6.95"/>
<circle cx="1439.2" cy="726.2" r="6.95"/>
<circle cx="1439.3" cy="742.5" r="6.95"/>
<circle cx="1476.0" cy="679.8" r="6.95"/>
<circle cx="1476.1" cy="696.2" r="6.95"/>
<circle cx="1476.2" cy="711.1" r="6.95"/>
<circle cx="1476.3" cy="728.8" r="6.95"/>
<circle cx="1512.2" cy="664.5" r="6.95"/>
<circle cx="1512.3" cy="679.9" r="6.95"/>
<circle cx="1512.4" cy="695.5" r="6.95"/>
<circle cx="1512.5" cy="711.5" r="6.95"/>
<circle cx="1512.5" cy="714.5" r="6.95"/>
<circle cx="1548.7" cy="666.2" r="6.95"/>
<circle cx="1548.8" cy="681.0" r="6.95"/>
<circle cx="1549.0" cy="700.0" r="6.95"/>
<circle cx="392.3" cy="760.5" r="6.95"/>
<circle cx="446.0" cy="690.0" r="6.95"/>
</g>
<g fill="#90ee90" fill-opacity="0.6">
<circle cx="447.5" cy="802.5" r="4.2"/>
<circle cx="447.6" cy="817.5" r="4.2"/>
<circle cx="447.7" cy="828.0" r="4.2"/>
<circle cx="447.9" cy="837.5" r="4.2"/>
<circle cx="447.9" cy="845.0" r="4.2"/>
<circle cx="448.0" cy="853.8" r="4.2"/>
<circle cx="448.1" cy="861.3" r="4.2"/>
<circle cx="448.2" cy="868.8" r="4.2"/>
<circle cx="448.3" cy="878.8" r="4.2"/>
<circle cx="448.4" cy="887.5" r="4.2"/>
<circle cx="448.5" cy="896.3" r="4.2"/>
</g>
</g>
<rect x="225.5" y="144.5" width="1395.0" height="924.0" fill="none" stroke="#000" stroke-width="1.1"/>
<g stroke="#000" stroke-width="6" shape-rendering="crispEdges">
<line x1="265" x2="265" y1="1068.5" y2="1079.6"/>
<line x1="312" x2="312" y1="1068.5" y2="1079.6"/>
<line x1="359" x2="359" y1="1068.5" y2="1079.6"/>
<line x1="405" x2="405" y1="1068.5" y2="1079.6"/>
<line x1="452" x2="452" y1="1068.5" y2="1085.2"/>
<line x1="499" x2="499" y1="1068.5" y2="1079.6"/>
<line x1="546" x2="546" y1="1068.5" y2="1079.6"/>
<line x1="593" x2="593" y1="1068.5" y2="1079.6"/>
<line x1="640" x2="640" y1="1068.5" y2="1079.6"/>
<line x1="686" x2="686" y1="1068.5" y2="1085.2"/>
<line x1="733" x2="733" y1="1068.5" y2="1079.6"/>
<line x1="780" x2="780" y1="1068.5" y2="1079.6"/>
<line x1="827" x2="827" y1="1068.5" y2="1079.6"/>
<line x1="874" x2="874" y1="1068.5" y2="1079.6"/>
<line x1="921" x2="921" y1="1068.5" y2="1085.2"/>
<line x1="967" x2="967" y1="1068.5" y2="1079.6"/>
<line x1="1014" x2="1014" y1="1068.5" y2="1079.6"/>
<line x1="1061" x2="1061" y1="1068.5" y2="1079.6"/>
<line x1="1108" x2="1108" y1="1068.5" y2="1079.6"/>
<line x1="1155" x2="1155" y1="1068.5" y2="1085.2"/>
<line x1="1202" x2="1202" y1="1068.5" y2="1079.6"/>
<line x1="1248" x2="1248" y1="1068.5" y2="1079.6"/>
<line x1="1295" x2="1295" y1="1068.5" y2="1079.6"/>
<line x1="1342" x2="1342" y1="1068.5" y2="1079.6"/>
<line x1="1389" x2="1389" y1="1068.5" y2="1085.2"/>
<line x1="1436" x2="1436" y1="1068.5" y2="1079.6"/>
<line x1="1483" x2="1483" y1="1068.5" y2="1079.6"/>
<line x1="1529" x2="1529" y1="1068.5" y2="1079.6"/>
<line x1="1576" x2="1576" y1="1068.5" y2="1079.6"/>
<line x1="208.2" x2="225.5" y1="144" y2="144"/>
<line x1="214.4" x2="225.5" y1="167" y2="167"/>
<line x1="214.4" x2="225.5" y1="191" y2="191"/>
<line x1="214.4" x2="225.5" y1="214" y2="214"/>
<line x1="214.4" x2="225.5" y1="237" y2="237"/>
<line x1="208.2" x2="225.5" y1="261" y2="261"/>
<line x1="214.4" x2="225.5" y1="284" y2="284"/>
<line x1="214.4" x2="225.5" y1="308" y2="308"/>
<line x1="214.4" x2="225.5" y1="331" y2="331"/>
<line x1="214.4" x2="225.5" y1="354" y2="354"/>
<line x1="208.2" x2="225.5" y1="378" y2="378"/>
<line x1="214.4" x2="225.5" y1="401" y2="401"/>
<line x1="214.4" x2="225.5" y1="424" y2="424"/>
<line x1="214.4" x2="225.5" y1="448" y2="448"/>
<line x1="214.4" x2="225.5" y1="471" y2="471"/>
<line x1="208.2" x2="225.5" y1="494" y2="494"/>
<line x1="214.4" x2="225.5" y1="518" y2="518"/>
<line x1="214.4" x2="225.5" y1="541" y2="541"/>
<line x1="214.4" x2="225.5" y1="564" y2="564"/>
<line x1="214.4" x2="225.5" y1="588" y2="588"/>
<line x1="208.2" x2="225.5" y1="611" y2="611"/>
<line x1="214.4" x2="225.5" y1="635" y2="635"/>
<line x1="214.4" x2="225.5" y1="658" y2="658"/>
<line x1="214.4" x2="225.5" y1="681" y2="681"/>
<line x1="214.4" x2="225.5" y1="705" y2="705"/>
<line x1="208.2" x2="225.5" y1="728" y2="728"/>
<line x1="214.4" x2="225.5" y1="751" y2="751"/>
<line x1="214.4" x2="225.5" y1="775" y2="775"/>
<line x1="214.4" x2="225.5" y1="798" y2="798"/>
<line x1="214.4" x2="225.5" y1="821" y2="821"/>
<line x1="208.2" x2="225.5" y1="845" y2="845"/>
<line x1="214.4" x2="225.5" y1="868" y2="868"/>
<line x1="214.4" x2="225.5" y1="891" y2="891"/>
<line x1="214.4" x2="225.5" y1="915" y2="915"/>
<line x1="214.4" x2="225.5" y1="938" y2="938"/>
<line x1="208.2" x2="225.5" y1="962" y2="962"/>
<line x1="214.4" x2="225.5" y1="985" y2="985"/>
<line x1="214.4" x2="225.5" y1="1008" y2="1008"/>
<line x1="214.4" x2="225.5" y1="1032" y2="1032"/>
<line x1="214.4" x2="225.5" y1="1055" y2="1055"/>
</g>
<text transform="translate(389.80,1117.00) scale(1.0869,1)" font-size="37.31" fill="#000" >175.15</text>
<text transform="translate(623.55,1117.00) scale(1.0927,1)" font-size="37.31" fill="#000" >175.20</text>
<text transform="translate(858.10,1117.00) scale(1.0869,1)" font-size="37.31" fill="#000" >175.25</text>
<text transform="translate(1091.85,1117.00) scale(1.0927,1)" font-size="37.31" fill="#000" >175.30</text>
<text transform="translate(1326.40,1117.00) scale(1.0869,1)" font-size="37.31" fill="#000" >175.35</text>
<text transform="translate(112.38,158.20) scale(1.0869,1)" font-size="37.31" fill="#000" >1000</text>
<text transform="translate(134.85,274.99) scale(1.0883,1)" font-size="37.31" fill="#000" >900</text>
<text transform="translate(135.17,391.78) scale(1.0830,1)" font-size="37.31" fill="#000" >800</text>
<text transform="translate(135.37,508.57) scale(1.0796,1)" font-size="37.31" fill="#000" >700</text>
<text transform="translate(134.94,625.36) scale(1.0868,1)" font-size="37.31" fill="#000" >600</text>
<text transform="translate(135.66,742.15) scale(1.0750,1)" font-size="37.31" fill="#000" >500</text>
<text transform="translate(135.31,858.94) scale(1.0806,1)" font-size="37.31" fill="#000" >400</text>
<text transform="translate(135.70,975.73) scale(1.0743,1)" font-size="37.31" fill="#000" >300</text>
<text transform="translate(820.21,1160.20) scale(1.0751,1)" font-size="43.05" fill="#000" >Age (Myr)</text>
<text transform="translate(96.2,777.2) rotate(-90) scale(1.0727,1) translate(-3.53,0)" font-size="43.05" fill="#000" >FM period (days)</text>
<text transform="translate(351.2,848.0) rotate(-85) scale(1.1784,1) translate(-1.09,0)" font-size="16.43" fill="#000" >n=1</text>
<text transform="translate(403.7,763.0) rotate(-85) scale(1.1747,1) translate(-1.09,0)" font-size="16.43" fill="#000" >n=2</text>
<text transform="translate(457.7,693.0) rotate(-85) scale(1.1822,1) translate(-1.09,0)" font-size="16.43" fill="#000" >n=3</text>
<text transform="translate(512.2,625.5) rotate(-85) scale(1.1859,1) translate(-1.09,0)" font-size="16.43" fill="#000" >n=4</text>
<text transform="translate(567.2,560.5) rotate(-85) scale(1.1763,1) translate(-1.09,0)" font-size="16.43" fill="#000" >n=5</text>
<text transform="translate(621.5,503.8) rotate(-85) scale(1.1926,1) translate(-1.09,0)" font-size="16.43" fill="#000" >n=6</text>
<text transform="translate(675.5,447.3) rotate(-85) scale(1.1837,1) translate(-1.09,0)" font-size="16.43" fill="#000" >n=7</text>
<text transform="translate(729.2,392.0) rotate(-85) scale(1.1890,1) translate(-1.09,0)" font-size="16.43" fill="#000" >n=8</text>
<text transform="translate(781.0,338.0) rotate(-85) scale(1.1907,1) translate(-1.09,0)" font-size="16.43" fill="#000" >n=9</text>
<text transform="translate(832.7,290.0) rotate(-85) scale(1.1663,1) translate(-1.09,0)" font-size="16.43" fill="#000" >n=10</text>
<text transform="translate(883.1,240.0) rotate(-85) scale(1.1599,1) translate(-1.09,0)" font-size="16.43" fill="#000" >n=11</text>
<text transform="translate(932.2,188.8) rotate(-85) scale(1.1571,1) translate(-1.09,0)" font-size="16.43" fill="#000" >n=12</text>
<rect x="235.8" y="154.5" width="445.6" height="243.8" rx="3.5" fill="#fff" fill-opacity="0.8" stroke="#ccc" stroke-opacity="0.8" stroke-width="1.4"/>
<line x1="244.1" x2="285.2" y1="171.3" y2="171.3" stroke="#000" stroke-width="2.1" stroke-linecap="square"/><circle cx="265" cy="171.3" r="2.1"/>
<line x1="244.1" x2="285.2" y1="202.8" y2="202.8" stroke="#00f" stroke-width="4.2" stroke-linecap="square"/>
<line x1="244.1" x2="285.2" y1="233.2" y2="233.2" stroke="#008000" stroke-width="4.2" stroke-linecap="square"/>
<line x1="244.1" x2="285.2" y1="263.9" y2="263.9" stroke="#ffa500" stroke-width="2.1" stroke-linecap="square"/>
<circle cx="265.3" cy="294.4" r="4.2" fill="#90ee90"/>
<line x1="244.1" x2="285.2" y1="324.9" y2="324.9" stroke="#f00" stroke-width="2.1" stroke-linecap="square"/>
<polygon points="265.3,303.9 270.1,318.6 285.6,318.6 273.0,327.7 277.8,342.4 265.3,333.3 252.8,342.4 257.6,327.7 245.0,318.6 260.5,318.6" fill="#f00"/>
<circle cx="265.3" cy="369.4" r="6.95" fill="#ffff00" fill-opacity="0.2" stroke="#ffff00" stroke-opacity="0.2" stroke-width="1.4"/>
<text transform="translate(302.65,178.40) scale(1.0790,1)" font-size="21.52" fill="#000" >m4.40_z0.0600</text>
<text transform="translate(302.66,209.60) scale(1.1052,1)" font-size="21.52" fill="#000" >peak detector horizontal bounds</text>
<text transform="translate(302.62,240.40) scale(1.1007,1)" font-size="21.52" fill="#000" >min. P consistent with observations</text>
<text transform="translate(302.61,270.80) scale(1.1078,1)" font-size="21.52" fill="#000" >max. P must fall within this span</text>
<text transform="translate(302.65,300.70) scale(1.1142,1)" font-size="21.52" fill="#000" >pulse region fit with cubic spline</text>
<text transform="translate(302.66,331.60) scale(1.1066,1)" font-size="21.52" fill="#000" >pulses identified</text>
<text transform="translate(302.72,361.70) scale(1.0723,1)" font-size="21.52" fill="#000" >intersection w/ P,L,T,R</text>
<text transform="translate(302.67,384.70) scale(1.0959,1)" font-size="21.52" fill="#000" >loosely defined</text>
</svg>
</body></html>
